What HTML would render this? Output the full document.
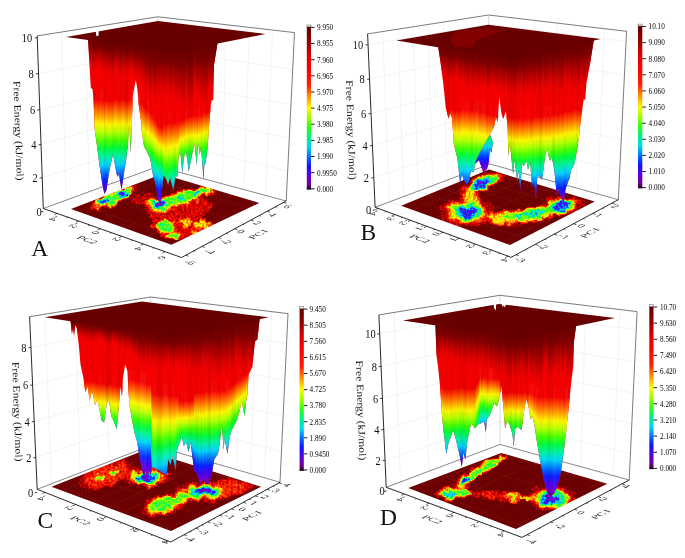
<!DOCTYPE html>
<html><head><meta charset="utf-8"><title>Free energy landscapes</title>
<style>html,body{margin:0;padding:0;background:#fff}svg{display:block;filter:blur(0.45px)}</style></head>
<body>
<svg width="685" height="558" viewBox="0 0 685 558" font-family="'Liberation Serif', serif" fill="#111">
<defs>
<linearGradient id="rb" x1="0" y1="0" x2="0" y2="1">
<stop offset="0" stop-color="#f40000"/>
<stop offset="0.077" stop-color="#ff4a00"/>
<stop offset="0.154" stop-color="#ffa000"/>
<stop offset="0.23" stop-color="#fff400"/>
<stop offset="0.31" stop-color="#b4ff00"/>
<stop offset="0.385" stop-color="#48ff00"/>
<stop offset="0.46" stop-color="#00fa3c"/>
<stop offset="0.54" stop-color="#00f0a8"/>
<stop offset="0.615" stop-color="#00d4f8"/>
<stop offset="0.69" stop-color="#0078ff"/>
<stop offset="0.77" stop-color="#0a20ff"/>
<stop offset="0.846" stop-color="#4a00f0"/>
<stop offset="0.92" stop-color="#7a00c8"/>
<stop offset="1" stop-color="#500058"/>
</linearGradient>
<linearGradient id="dk" x1="0" y1="0" x2="0" y2="1">
<stop offset="0" stop-color="#690000" stop-opacity="1"/>
<stop offset="0.28" stop-color="#780000" stop-opacity="0.97"/>
<stop offset="0.6" stop-color="#a40000" stop-opacity="0.7"/>
<stop offset="1" stop-color="#d80000" stop-opacity="0"/>
</linearGradient>
<linearGradient id="cb" x1="0" y1="0" x2="0" y2="1">
<stop offset="0" stop-color="#5c0000"/>
<stop offset="0.1" stop-color="#980000"/>
<stop offset="0.19" stop-color="#e60000"/>
<stop offset="0.26" stop-color="#fc0000"/>
<stop offset="0.36" stop-color="#ff2000"/>
<stop offset="0.42" stop-color="#ff8000"/>
<stop offset="0.5" stop-color="#fff800"/>
<stop offset="0.56" stop-color="#a0ff00"/>
<stop offset="0.62" stop-color="#30ff10"/>
<stop offset="0.68" stop-color="#00f080"/>
<stop offset="0.74" stop-color="#00d8f0"/>
<stop offset="0.8" stop-color="#0070ff"/>
<stop offset="0.86" stop-color="#1010ff"/>
<stop offset="0.92" stop-color="#6000e0"/>
<stop offset="0.97" stop-color="#700090"/>
<stop offset="1" stop-color="#300030"/>
</linearGradient>
<filter id="heat" x="0" y="0" width="685" height="558" filterUnits="userSpaceOnUse" color-interpolation-filters="sRGB">
<feGaussianBlur in="SourceGraphic" stdDeviation="1.3" result="b0"/>
<feTurbulence type="fractalNoise" baseFrequency="0.11" numOctaves="2" seed="5" result="lf"/>
<feDisplacementMap in="b0" in2="lf" scale="10" xChannelSelector="R" yChannelSelector="G" result="b"/>
<feTurbulence type="fractalNoise" baseFrequency="0.45" numOctaves="1" seed="3" result="n"/>
<feColorMatrix in="n" type="matrix" values="1 0 0 0 0  1 0 0 0 0  1 0 0 0 0  0 0 0 0 1" result="ng"/>
<feComposite in="b" in2="ng" operator="arithmetic" k1="0.5" k2="0.75" k3="0.16" k4="-0.08" result="c"/>
<feComponentTransfer in="c" result="m">
<feFuncR type="table" tableValues="0.43 0.43 0.92 1 1 0.55 0.1 0 0 0.1 0.45 0.5"/>
<feFuncG type="table" tableValues="0 0 0 0.35 0.95 1 1 0.9 0.5 0.1 0 0"/>
<feFuncB type="table" tableValues="0 0 0 0 0 0 0.2 0.9 1 1 0.9 0.6"/>
<feFuncA type="linear" slope="0" intercept="1"/>
</feComponentTransfer>
<feGaussianBlur in="m" stdDeviation="0.5"/>
</filter>
</defs>
<rect width="685" height="558" fill="#fff"/>
<g id="pA"><line x1="42.2" y1="177.8" x2="157.9" y2="139.9" stroke="#e6e6e6" stroke-width="0.5"/>
<line x1="157.9" y1="139.9" x2="287.7" y2="171.0" stroke="#e6e6e6" stroke-width="0.5"/>
<line x1="41.0" y1="144.5" x2="157.9" y2="111.0" stroke="#e6e6e6" stroke-width="0.5"/>
<line x1="157.9" y1="111.0" x2="289.3" y2="138.5" stroke="#e6e6e6" stroke-width="0.5"/>
<line x1="39.8" y1="109.8" x2="157.8" y2="80.9" stroke="#e6e6e6" stroke-width="0.5"/>
<line x1="157.8" y1="80.9" x2="290.9" y2="104.7" stroke="#e6e6e6" stroke-width="0.5"/>
<line x1="38.5" y1="73.5" x2="157.8" y2="49.4" stroke="#e6e6e6" stroke-width="0.5"/>
<line x1="157.8" y1="49.4" x2="292.7" y2="69.3" stroke="#e6e6e6" stroke-width="0.5"/>
<line x1="66.2" y1="200.1" x2="61.3" y2="32.1" stroke="#e6e6e6" stroke-width="0.5"/>
<line x1="66.2" y1="200.1" x2="202.4" y2="246.2" stroke="#e6e6e6" stroke-width="0.5"/>
<line x1="89.2" y1="191.7" x2="85.4" y2="28.3" stroke="#e6e6e6" stroke-width="0.5"/>
<line x1="89.2" y1="191.7" x2="223.4" y2="234.9" stroke="#e6e6e6" stroke-width="0.5"/>
<line x1="112.1" y1="183.3" x2="109.5" y2="24.4" stroke="#e6e6e6" stroke-width="0.5"/>
<line x1="112.1" y1="183.3" x2="244.3" y2="223.6" stroke="#e6e6e6" stroke-width="0.5"/>
<line x1="135.1" y1="174.9" x2="133.6" y2="20.6" stroke="#e6e6e6" stroke-width="0.5"/>
<line x1="135.1" y1="174.9" x2="265.3" y2="212.3" stroke="#e6e6e6" stroke-width="0.5"/>
<line x1="179.8" y1="172.4" x2="181.0" y2="19.5" stroke="#e6e6e6" stroke-width="0.5"/>
<line x1="179.8" y1="172.4" x2="66.8" y2="216.8" stroke="#e6e6e6" stroke-width="0.5"/>
<line x1="201.6" y1="178.2" x2="204.2" y2="22.2" stroke="#e6e6e6" stroke-width="0.5"/>
<line x1="201.6" y1="178.2" x2="90.3" y2="225.2" stroke="#e6e6e6" stroke-width="0.5"/>
<line x1="222.1" y1="183.8" x2="226.1" y2="24.7" stroke="#e6e6e6" stroke-width="0.5"/>
<line x1="222.1" y1="183.8" x2="112.4" y2="233.0" stroke="#e6e6e6" stroke-width="0.5"/>
<line x1="243.9" y1="189.6" x2="249.4" y2="27.4" stroke="#e6e6e6" stroke-width="0.5"/>
<line x1="243.9" y1="189.6" x2="135.9" y2="241.3" stroke="#e6e6e6" stroke-width="0.5"/>
<line x1="265.7" y1="195.5" x2="272.6" y2="30.1" stroke="#e6e6e6" stroke-width="0.5"/>
<line x1="265.7" y1="195.5" x2="159.4" y2="249.7" stroke="#e6e6e6" stroke-width="0.5"/>
<line x1="157.7" y1="16.8" x2="158.0" y2="166.5" stroke="#c8c8c8" stroke-width="0.7"/>
<line x1="43.3" y1="208.5" x2="158.0" y2="166.5" stroke="#555" stroke-width="0.7"/>
<line x1="158.0" y1="166.5" x2="286.2" y2="201.0" stroke="#555" stroke-width="0.7"/>
<line x1="37.2" y1="35.9" x2="157.7" y2="16.8" stroke="#444" stroke-width="0.7"/>
<line x1="157.7" y1="16.8" x2="294.5" y2="32.6" stroke="#444" stroke-width="0.7"/>
<line x1="294.5" y1="32.6" x2="286.2" y2="201.0" stroke="#444" stroke-width="0.7"/>
<clipPath id="fcA"><polygon points="71.0,209.1 171.4,244.8 259.3,202.9 162.0,174.0"/></clipPath>
<g clip-path="url(#fcA)"><g filter="url(#heat)"><rect x="0" y="0" width="685" height="558" fill="#000"/>
<ellipse cx="113" cy="198" rx="28.6" ry="8.5" transform="rotate(-24 113 198)" fill="rgb(33,33,33)"/>
<ellipse cx="105" cy="202" rx="14.3" ry="6.0" transform="rotate(-10 105 202)" fill="rgb(33,33,33)"/>
<ellipse cx="122.5" cy="193.8" rx="13.0" ry="5.5" transform="rotate(-28 122.5 193.8)" fill="rgb(33,33,33)"/>
<ellipse cx="184" cy="197" rx="35.1" ry="8.5" transform="rotate(-17 184 197)" fill="rgb(33,33,33)"/>
<ellipse cx="172" cy="201" rx="15.6" ry="6.0" transform="rotate(-17 172 201)" fill="rgb(33,33,33)"/>
<ellipse cx="197" cy="192.5" rx="10.4" ry="4.5" transform="rotate(-15 197 192.5)" fill="rgb(33,33,33)"/>
<ellipse cx="181" cy="198" rx="9.1" ry="3.9" transform="rotate(-15 181 198)" fill="rgb(33,33,33)"/>
<ellipse cx="160" cy="204.5" rx="19.5" ry="9.1" transform="rotate(0 160 204.5)" fill="rgb(33,33,33)"/>
<ellipse cx="203" cy="191" rx="11.7" ry="6.5" transform="rotate(-10 203 191)" fill="rgb(33,33,33)"/>
<ellipse cx="166" cy="226" rx="14.3" ry="7.8" transform="rotate(0 166 226)" fill="rgb(33,33,33)"/>
<ellipse cx="172" cy="235.5" rx="11.7" ry="5.9" transform="rotate(0 172 235.5)" fill="rgb(33,33,33)"/>
<ellipse cx="202" cy="225" rx="11.7" ry="5.9" transform="rotate(0 202 225)" fill="rgb(33,33,33)"/>
<ellipse cx="186" cy="222" rx="9.1" ry="5.2" transform="rotate(0 186 222)" fill="rgb(33,33,33)"/>
<ellipse cx="195" cy="234" rx="7.8" ry="3.9" transform="rotate(0 195 234)" fill="rgb(33,33,33)"/>
<ellipse cx="152" cy="226" rx="6.5" ry="3.2" transform="rotate(0 152 226)" fill="rgb(33,33,33)"/>
<ellipse cx="141" cy="199" rx="12" ry="5" transform="rotate(-20 141 199)" fill="rgb(38,38,38)"/>
<ellipse cx="180" cy="211" rx="33" ry="14" transform="rotate(-10 180 211)" fill="rgb(43,43,43)"/>
<ellipse cx="190" cy="228" rx="25" ry="11" transform="rotate(0 190 228)" fill="rgb(43,43,43)"/>
<ellipse cx="113" cy="198" rx="22.0" ry="6.5" transform="rotate(-24 113 198)" fill="rgb(56,56,56)"/>
<ellipse cx="105" cy="202" rx="11.0" ry="4.6" transform="rotate(-10 105 202)" fill="rgb(56,56,56)"/>
<ellipse cx="122.5" cy="193.8" rx="10.0" ry="4.2" transform="rotate(-28 122.5 193.8)" fill="rgb(56,56,56)"/>
<ellipse cx="184" cy="197" rx="27.0" ry="6.5" transform="rotate(-17 184 197)" fill="rgb(56,56,56)"/>
<ellipse cx="172" cy="201" rx="12.0" ry="4.6" transform="rotate(-17 172 201)" fill="rgb(56,56,56)"/>
<ellipse cx="197" cy="192.5" rx="8.0" ry="3.5" transform="rotate(-15 197 192.5)" fill="rgb(56,56,56)"/>
<ellipse cx="181" cy="198" rx="7.0" ry="3.0" transform="rotate(-15 181 198)" fill="rgb(56,56,56)"/>
<ellipse cx="160" cy="204.5" rx="15.0" ry="7.0" transform="rotate(0 160 204.5)" fill="rgb(56,56,56)"/>
<ellipse cx="203" cy="191" rx="9.0" ry="5.0" transform="rotate(-10 203 191)" fill="rgb(56,56,56)"/>
<ellipse cx="166" cy="226" rx="11.0" ry="6.0" transform="rotate(0 166 226)" fill="rgb(56,56,56)"/>
<ellipse cx="172" cy="235.5" rx="9.0" ry="4.5" transform="rotate(0 172 235.5)" fill="rgb(56,56,56)"/>
<ellipse cx="202" cy="225" rx="9.0" ry="4.5" transform="rotate(0 202 225)" fill="rgb(56,56,56)"/>
<ellipse cx="186" cy="222" rx="7.0" ry="4.0" transform="rotate(0 186 222)" fill="rgb(56,56,56)"/>
<ellipse cx="195" cy="234" rx="6.0" ry="3.0" transform="rotate(0 195 234)" fill="rgb(56,56,56)"/>
<ellipse cx="152" cy="226" rx="5.0" ry="2.5" transform="rotate(0 152 226)" fill="rgb(56,56,56)"/>
<ellipse cx="113" cy="198" rx="18.7" ry="5.5" transform="rotate(-24 113 198)" fill="rgb(91,91,91)"/>
<ellipse cx="105" cy="202" rx="9.3" ry="3.9" transform="rotate(-10 105 202)" fill="rgb(91,91,91)"/>
<ellipse cx="122.5" cy="193.8" rx="8.5" ry="3.6" transform="rotate(-28 122.5 193.8)" fill="rgb(91,91,91)"/>
<ellipse cx="184" cy="197" rx="22.9" ry="5.5" transform="rotate(-17 184 197)" fill="rgb(91,91,91)"/>
<ellipse cx="172" cy="201" rx="10.2" ry="3.9" transform="rotate(-17 172 201)" fill="rgb(91,91,91)"/>
<ellipse cx="197" cy="192.5" rx="6.8" ry="3.0" transform="rotate(-15 197 192.5)" fill="rgb(91,91,91)"/>
<ellipse cx="181" cy="198" rx="6.0" ry="2.5" transform="rotate(-15 181 198)" fill="rgb(91,91,91)"/>
<ellipse cx="160" cy="204.5" rx="12.8" ry="6.0" transform="rotate(0 160 204.5)" fill="rgb(91,91,91)"/>
<ellipse cx="203" cy="191" rx="7.6" ry="4.2" transform="rotate(-10 203 191)" fill="rgb(91,91,91)"/>
<ellipse cx="166" cy="226" rx="9.3" ry="5.1" transform="rotate(0 166 226)" fill="rgb(91,91,91)"/>
<ellipse cx="172" cy="235.5" rx="7.6" ry="3.8" transform="rotate(0 172 235.5)" fill="rgb(91,91,91)"/>
<ellipse cx="202" cy="225" rx="7.6" ry="3.8" transform="rotate(0 202 225)" fill="rgb(91,91,91)"/>
<ellipse cx="186" cy="222" rx="6.0" ry="3.4" transform="rotate(0 186 222)" fill="rgb(91,91,91)"/>
<ellipse cx="195" cy="234" rx="5.1" ry="2.5" transform="rotate(0 195 234)" fill="rgb(91,91,91)"/>
<ellipse cx="113" cy="198" rx="15.4" ry="4.5" transform="rotate(-24 113 198)" fill="rgb(132,132,132)"/>
<ellipse cx="105" cy="202" rx="7.7" ry="3.2" transform="rotate(-10 105 202)" fill="rgb(132,132,132)"/>
<ellipse cx="122.5" cy="193.8" rx="7.0" ry="2.9" transform="rotate(-28 122.5 193.8)" fill="rgb(132,132,132)"/>
<ellipse cx="184" cy="197" rx="18.9" ry="4.5" transform="rotate(-17 184 197)" fill="rgb(132,132,132)"/>
<ellipse cx="172" cy="201" rx="8.4" ry="3.2" transform="rotate(-17 172 201)" fill="rgb(132,132,132)"/>
<ellipse cx="197" cy="192.5" rx="5.6" ry="2.4" transform="rotate(-15 197 192.5)" fill="rgb(132,132,132)"/>
<ellipse cx="181" cy="198" rx="4.9" ry="2.1" transform="rotate(-15 181 198)" fill="rgb(132,132,132)"/>
<ellipse cx="160" cy="204.5" rx="10.5" ry="4.9" transform="rotate(0 160 204.5)" fill="rgb(132,132,132)"/>
<ellipse cx="203" cy="191" rx="6.3" ry="3.5" transform="rotate(-10 203 191)" fill="rgb(132,132,132)"/>
<ellipse cx="166" cy="226" rx="7.7" ry="4.2" transform="rotate(0 166 226)" fill="rgb(132,132,132)"/>
<ellipse cx="172" cy="235.5" rx="6.3" ry="3.1" transform="rotate(0 172 235.5)" fill="rgb(132,132,132)"/>
<ellipse cx="105" cy="202" rx="6.2" ry="2.6" transform="rotate(-10 105 202)" fill="rgb(168,168,168)"/>
<ellipse cx="122.5" cy="193.8" rx="5.6" ry="2.4" transform="rotate(-28 122.5 193.8)" fill="rgb(168,168,168)"/>
<ellipse cx="197" cy="192.5" rx="4.5" ry="2.0" transform="rotate(-15 197 192.5)" fill="rgb(168,168,168)"/>
<ellipse cx="181" cy="198" rx="3.9" ry="1.7" transform="rotate(-15 181 198)" fill="rgb(168,168,168)"/>
<ellipse cx="160" cy="204.5" rx="8.4" ry="3.9" transform="rotate(0 160 204.5)" fill="rgb(168,168,168)"/>
<ellipse cx="105" cy="202" rx="4.4" ry="1.8" transform="rotate(-10 105 202)" fill="rgb(214,214,214)"/>
<ellipse cx="122.5" cy="193.8" rx="4.0" ry="1.7" transform="rotate(-28 122.5 193.8)" fill="rgb(214,214,214)"/>
<ellipse cx="160" cy="204.5" rx="6.0" ry="2.8" transform="rotate(0 160 204.5)" fill="rgb(214,214,214)"/>
<ellipse cx="105" cy="202" rx="2.4" ry="1.0" transform="rotate(-10 105 202)" fill="rgb(249,249,249)"/>
<ellipse cx="122.5" cy="193.8" rx="2.2" ry="0.9" transform="rotate(-28 122.5 193.8)" fill="rgb(249,249,249)"/>
<ellipse cx="160" cy="204.5" rx="3.3" ry="1.5" transform="rotate(0 160 204.5)" fill="rgb(249,249,249)"/>
</g>
<line x1="66.2" y1="200.1" x2="202.4" y2="246.2" stroke="#ffb0a0" stroke-opacity="0.16" stroke-width="0.7" stroke-dasharray="2 1.5"/>
<line x1="89.2" y1="191.7" x2="223.4" y2="234.9" stroke="#ffb0a0" stroke-opacity="0.16" stroke-width="0.7" stroke-dasharray="2 1.5"/>
<line x1="112.1" y1="183.3" x2="244.3" y2="223.6" stroke="#ffb0a0" stroke-opacity="0.16" stroke-width="0.7" stroke-dasharray="2 1.5"/>
<line x1="135.1" y1="174.9" x2="265.3" y2="212.3" stroke="#ffb0a0" stroke-opacity="0.16" stroke-width="0.7" stroke-dasharray="2 1.5"/>
<line x1="179.8" y1="172.4" x2="66.8" y2="216.8" stroke="#ffb0a0" stroke-opacity="0.16" stroke-width="0.7" stroke-dasharray="2 1.5"/>
<line x1="201.6" y1="178.2" x2="90.3" y2="225.2" stroke="#ffb0a0" stroke-opacity="0.16" stroke-width="0.7" stroke-dasharray="2 1.5"/>
<line x1="222.1" y1="183.8" x2="112.4" y2="233.0" stroke="#ffb0a0" stroke-opacity="0.16" stroke-width="0.7" stroke-dasharray="2 1.5"/>
<line x1="243.9" y1="189.6" x2="135.9" y2="241.3" stroke="#ffb0a0" stroke-opacity="0.16" stroke-width="0.7" stroke-dasharray="2 1.5"/>
<line x1="265.7" y1="195.5" x2="159.4" y2="249.7" stroke="#ffb0a0" stroke-opacity="0.16" stroke-width="0.7" stroke-dasharray="2 1.5"/>
</g>
<clipPath id="scA0"><polygon points="88.0,37.6 175.0,49.5 217.7,42.0 214.0,65.0 213.3,100.0 211.8,100.0 211.0,103.8 209.6,118.8 207.7,147.0 205.8,162.0 204.3,166.0 203.5,179.0 201.1,147.0 199.8,154.6 197.9,141.4 196.8,166.0 194.5,143.3 191.7,156.5 188.8,171.6 186.0,150.8 184.1,156.5 182.3,173.4 180.4,152.7 178.5,156.5 177.5,177.2 175.7,175.3 173.4,190.4 170.0,177.2 168.1,184.7 166.2,179.0 163.4,175.3 162.1,190.4 160.2,205.0 157.8,198.0 155.9,186.6 153.0,175.3 150.2,158.4 147.0,152.0 144.0,146.0 141.8,132.0 141.3,123.0 138.8,105.8 137.3,88.6 135.8,80.0 134.9,84.3 132.7,97.2 131.9,123.0 130.8,153.0 129.1,123.0 128.0,144.5 125.9,161.7 123.7,174.6 121.6,189.7 119.0,174.6 117.3,176.8 115.1,166.0 113.0,154.2 110.8,163.9 108.7,174.6 106.5,189.7 104.4,194.0 102.2,183.2 99.0,161.7 96.8,144.5 94.7,129.5 93.6,101.5 92.5,89.0 90.8,88.0 88.1,40.1"/></clipPath>
<g clip-path="url(#scA0)">
<rect x="88" y="36.6" width="130" height="169.4" fill="#f40000"/>
<rect x="88" y="99.6" width="1.1" height="105.2" fill="url(#rb)"/>
<rect x="88" y="204.8" width="1.1" height="40" fill="#500058"/>
<rect x="88" y="37.2" width="1.1" height="29.6" fill="url(#dk)"/>
<rect x="88" y="37.6" width="1.1" height="167.2" fill="#000" fill-opacity="0.014"/>
<rect x="89" y="98.9" width="1.1" height="105.5" fill="url(#rb)"/>
<rect x="89" y="204.3" width="1.1" height="40" fill="#500058"/>
<rect x="89" y="37.3" width="1.1" height="31.9" fill="url(#dk)"/>
<rect x="90" y="98.5" width="1.1" height="105.6" fill="url(#rb)"/>
<rect x="90" y="204.1" width="1.1" height="40" fill="#500058"/>
<rect x="90" y="37.4" width="1.1" height="32.7" fill="url(#dk)"/>
<rect x="90" y="88.5" width="1.1" height="105.6" fill="#fff" fill-opacity="0.038"/>
<rect x="91" y="99.1" width="1.1" height="105.4" fill="url(#rb)"/>
<rect x="91" y="204.5" width="1.1" height="40" fill="#500058"/>
<rect x="91" y="37.6" width="1.1" height="28.8" fill="url(#dk)"/>
<rect x="91" y="89.1" width="1.1" height="105.4" fill="#fff" fill-opacity="0.054"/>
<rect x="92" y="99.4" width="1.1" height="105.2" fill="url(#rb)"/>
<rect x="92" y="204.6" width="1.1" height="40" fill="#500058"/>
<rect x="92" y="37.7" width="1.1" height="34.6" fill="url(#dk)"/>
<rect x="92" y="89.4" width="1.1" height="105.2" fill="#fff" fill-opacity="0.061"/>
<rect x="93" y="99.1" width="1.1" height="105.4" fill="url(#rb)"/>
<rect x="93" y="204.4" width="1.1" height="40" fill="#500058"/>
<rect x="93" y="37.9" width="1.1" height="35.3" fill="url(#dk)"/>
<rect x="94" y="99.7" width="1.1" height="105.1" fill="url(#rb)"/>
<rect x="94" y="204.8" width="1.1" height="40" fill="#500058"/>
<rect x="94" y="38.0" width="1.1" height="33.3" fill="url(#dk)"/>
<rect x="94" y="37.6" width="1.1" height="167.2" fill="#000" fill-opacity="0.044"/>
<rect x="95" y="98.9" width="1.1" height="105.5" fill="url(#rb)"/>
<rect x="95" y="204.3" width="1.1" height="40" fill="#500058"/>
<rect x="95" y="38.1" width="1.1" height="37.2" fill="url(#dk)"/>
<rect x="96" y="98.6" width="1.1" height="105.5" fill="url(#rb)"/>
<rect x="96" y="204.2" width="1.1" height="40" fill="#500058"/>
<rect x="96" y="38.3" width="1.1" height="31.4" fill="url(#dk)"/>
<rect x="96" y="88.6" width="1.1" height="105.5" fill="#fff" fill-opacity="0.012"/>
<rect x="97" y="100.0" width="1.1" height="105.0" fill="url(#rb)"/>
<rect x="97" y="205.0" width="1.1" height="40" fill="#500058"/>
<rect x="97" y="38.4" width="1.1" height="29.5" fill="url(#dk)"/>
<rect x="98" y="100.3" width="1.1" height="104.9" fill="url(#rb)"/>
<rect x="98" y="205.2" width="1.1" height="40" fill="#500058"/>
<rect x="98" y="38.5" width="1.1" height="30.7" fill="url(#dk)"/>
<rect x="99" y="99.2" width="1.1" height="105.3" fill="url(#rb)"/>
<rect x="99" y="204.5" width="1.1" height="40" fill="#500058"/>
<rect x="99" y="38.7" width="1.1" height="28.0" fill="url(#dk)"/>
<rect x="99" y="89.2" width="1.1" height="105.3" fill="#fff" fill-opacity="0.021"/>
<rect x="100" y="100.0" width="1.1" height="105.0" fill="url(#rb)"/>
<rect x="100" y="205.0" width="1.1" height="40" fill="#500058"/>
<rect x="100" y="38.8" width="1.1" height="30.6" fill="url(#dk)"/>
<rect x="100" y="90.0" width="1.1" height="105.0" fill="#fff" fill-opacity="0.027"/>
<rect x="101" y="100.2" width="1.1" height="104.9" fill="url(#rb)"/>
<rect x="101" y="205.1" width="1.1" height="40" fill="#500058"/>
<rect x="101" y="38.9" width="1.1" height="32.1" fill="url(#dk)"/>
<rect x="101" y="90.2" width="1.1" height="104.9" fill="#fff" fill-opacity="0.031"/>
<rect x="102" y="100.7" width="1.1" height="104.7" fill="url(#rb)"/>
<rect x="102" y="205.4" width="1.1" height="40" fill="#500058"/>
<rect x="102" y="39.1" width="1.1" height="35.4" fill="url(#dk)"/>
<rect x="102" y="90.7" width="1.1" height="104.7" fill="#fff" fill-opacity="0.038"/>
<rect x="103" y="100.5" width="1.1" height="104.8" fill="url(#rb)"/>
<rect x="103" y="205.3" width="1.1" height="40" fill="#500058"/>
<rect x="103" y="39.2" width="1.1" height="35.1" fill="url(#dk)"/>
<rect x="104" y="100.8" width="1.1" height="104.7" fill="url(#rb)"/>
<rect x="104" y="205.5" width="1.1" height="40" fill="#500058"/>
<rect x="104" y="39.4" width="1.1" height="32.6" fill="url(#dk)"/>
<rect x="104" y="37.6" width="1.1" height="167.9" fill="#000" fill-opacity="0.050"/>
<rect x="105" y="99.5" width="1.1" height="105.2" fill="url(#rb)"/>
<rect x="105" y="204.7" width="1.1" height="40" fill="#500058"/>
<rect x="105" y="39.5" width="1.1" height="32.8" fill="url(#dk)"/>
<rect x="105" y="37.6" width="1.1" height="167.1" fill="#000" fill-opacity="0.055"/>
<rect x="106" y="99.0" width="1.1" height="105.4" fill="url(#rb)"/>
<rect x="106" y="204.4" width="1.1" height="40" fill="#500058"/>
<rect x="106" y="39.6" width="1.1" height="33.7" fill="url(#dk)"/>
<rect x="106" y="89.0" width="1.1" height="105.4" fill="#fff" fill-opacity="0.009"/>
<rect x="107" y="99.9" width="1.1" height="105.1" fill="url(#rb)"/>
<rect x="107" y="204.9" width="1.1" height="40" fill="#500058"/>
<rect x="107" y="39.8" width="1.1" height="37.0" fill="url(#dk)"/>
<rect x="108" y="100.8" width="1.1" height="104.7" fill="url(#rb)"/>
<rect x="108" y="205.5" width="1.1" height="40" fill="#500058"/>
<rect x="108" y="39.9" width="1.1" height="33.9" fill="url(#dk)"/>
<rect x="108" y="37.6" width="1.1" height="167.9" fill="#000" fill-opacity="0.019"/>
<rect x="109" y="100.6" width="1.1" height="104.8" fill="url(#rb)"/>
<rect x="109" y="205.4" width="1.1" height="40" fill="#500058"/>
<rect x="109" y="40.0" width="1.1" height="35.3" fill="url(#dk)"/>
<rect x="110" y="101.0" width="1.1" height="104.6" fill="url(#rb)"/>
<rect x="110" y="205.6" width="1.1" height="40" fill="#500058"/>
<rect x="110" y="40.2" width="1.1" height="39.8" fill="url(#dk)"/>
<rect x="111" y="100.9" width="1.1" height="104.6" fill="url(#rb)"/>
<rect x="111" y="205.5" width="1.1" height="40" fill="#500058"/>
<rect x="111" y="40.3" width="1.1" height="32.6" fill="url(#dk)"/>
<rect x="111" y="37.6" width="1.1" height="167.9" fill="#000" fill-opacity="0.020"/>
<rect x="112" y="100.8" width="1.1" height="104.7" fill="url(#rb)"/>
<rect x="112" y="205.5" width="1.1" height="40" fill="#500058"/>
<rect x="112" y="40.5" width="1.1" height="39.2" fill="url(#dk)"/>
<rect x="112" y="37.6" width="1.1" height="167.9" fill="#000" fill-opacity="0.043"/>
<rect x="113" y="99.9" width="1.1" height="105.0" fill="url(#rb)"/>
<rect x="113" y="204.9" width="1.1" height="40" fill="#500058"/>
<rect x="113" y="40.6" width="1.1" height="35.8" fill="url(#dk)"/>
<rect x="113" y="37.6" width="1.1" height="167.3" fill="#000" fill-opacity="0.042"/>
<rect x="114" y="98.9" width="1.1" height="105.4" fill="url(#rb)"/>
<rect x="114" y="204.3" width="1.1" height="40" fill="#500058"/>
<rect x="114" y="40.7" width="1.1" height="35.1" fill="url(#dk)"/>
<rect x="115" y="98.6" width="1.1" height="105.6" fill="url(#rb)"/>
<rect x="115" y="204.2" width="1.1" height="40" fill="#500058"/>
<rect x="115" y="40.9" width="1.1" height="30.6" fill="url(#dk)"/>
<rect x="115" y="37.6" width="1.1" height="166.6" fill="#000" fill-opacity="0.022"/>
<rect x="116" y="98.5" width="1.1" height="105.6" fill="url(#rb)"/>
<rect x="116" y="204.1" width="1.1" height="40" fill="#500058"/>
<rect x="116" y="41.0" width="1.1" height="30.6" fill="url(#dk)"/>
<rect x="117" y="100.1" width="1.1" height="105.0" fill="url(#rb)"/>
<rect x="117" y="205.0" width="1.1" height="40" fill="#500058"/>
<rect x="117" y="41.1" width="1.1" height="28.8" fill="url(#dk)"/>
<rect x="118" y="100.1" width="1.1" height="104.9" fill="url(#rb)"/>
<rect x="118" y="205.1" width="1.1" height="40" fill="#500058"/>
<rect x="118" y="41.3" width="1.1" height="36.7" fill="url(#dk)"/>
<rect x="118" y="37.6" width="1.1" height="167.5" fill="#000" fill-opacity="0.029"/>
<rect x="119" y="100.9" width="1.1" height="104.7" fill="url(#rb)"/>
<rect x="119" y="205.5" width="1.1" height="40" fill="#500058"/>
<rect x="119" y="41.4" width="1.1" height="33.8" fill="url(#dk)"/>
<rect x="120" y="100.1" width="1.1" height="105.0" fill="url(#rb)"/>
<rect x="120" y="205.1" width="1.1" height="40" fill="#500058"/>
<rect x="120" y="41.5" width="1.1" height="39.1" fill="url(#dk)"/>
<rect x="120" y="37.6" width="1.1" height="167.5" fill="#000" fill-opacity="0.049"/>
<rect x="121" y="99.3" width="1.1" height="105.3" fill="url(#rb)"/>
<rect x="121" y="204.6" width="1.1" height="40" fill="#500058"/>
<rect x="121" y="41.7" width="1.1" height="33.8" fill="url(#dk)"/>
<rect x="122" y="99.1" width="1.1" height="105.4" fill="url(#rb)"/>
<rect x="122" y="204.4" width="1.1" height="40" fill="#500058"/>
<rect x="122" y="41.8" width="1.1" height="34.9" fill="url(#dk)"/>
<rect x="122" y="37.6" width="1.1" height="166.8" fill="#000" fill-opacity="0.011"/>
<rect x="123" y="99.0" width="1.1" height="105.4" fill="url(#rb)"/>
<rect x="123" y="204.4" width="1.1" height="40" fill="#500058"/>
<rect x="123" y="42.0" width="1.1" height="30.1" fill="url(#dk)"/>
<rect x="124" y="99.2" width="1.1" height="105.3" fill="url(#rb)"/>
<rect x="124" y="204.5" width="1.1" height="40" fill="#500058"/>
<rect x="124" y="42.1" width="1.1" height="34.2" fill="url(#dk)"/>
<rect x="124" y="37.6" width="1.1" height="166.9" fill="#000" fill-opacity="0.043"/>
<rect x="125" y="100.0" width="1.1" height="105.0" fill="url(#rb)"/>
<rect x="125" y="205.0" width="1.1" height="40" fill="#500058"/>
<rect x="125" y="42.2" width="1.1" height="35.5" fill="url(#dk)"/>
<rect x="125" y="37.6" width="1.1" height="167.4" fill="#000" fill-opacity="0.037"/>
<rect x="126" y="100.4" width="1.1" height="104.8" fill="url(#rb)"/>
<rect x="126" y="205.2" width="1.1" height="40" fill="#500058"/>
<rect x="126" y="42.4" width="1.1" height="31.1" fill="url(#dk)"/>
<rect x="126" y="37.6" width="1.1" height="167.6" fill="#000" fill-opacity="0.061"/>
<rect x="127" y="100.8" width="1.1" height="104.7" fill="url(#rb)"/>
<rect x="127" y="205.5" width="1.1" height="40" fill="#500058"/>
<rect x="127" y="42.5" width="1.1" height="38.1" fill="url(#dk)"/>
<rect x="127" y="37.6" width="1.1" height="167.9" fill="#000" fill-opacity="0.065"/>
<rect x="128" y="100.2" width="1.1" height="104.9" fill="url(#rb)"/>
<rect x="128" y="205.1" width="1.1" height="40" fill="#500058"/>
<rect x="128" y="42.6" width="1.1" height="36.1" fill="url(#dk)"/>
<rect x="129" y="100.4" width="1.1" height="104.8" fill="url(#rb)"/>
<rect x="129" y="205.2" width="1.1" height="40" fill="#500058"/>
<rect x="129" y="42.8" width="1.1" height="31.5" fill="url(#dk)"/>
<rect x="129" y="90.4" width="1.1" height="104.8" fill="#fff" fill-opacity="0.033"/>
<rect x="130" y="99.5" width="1.1" height="105.2" fill="url(#rb)"/>
<rect x="130" y="204.7" width="1.1" height="40" fill="#500058"/>
<rect x="130" y="42.9" width="1.1" height="30.6" fill="url(#dk)"/>
<rect x="130" y="89.5" width="1.1" height="105.2" fill="#fff" fill-opacity="0.032"/>
<rect x="131" y="98.8" width="1.1" height="105.5" fill="url(#rb)"/>
<rect x="131" y="204.3" width="1.1" height="40" fill="#500058"/>
<rect x="131" y="43.1" width="1.1" height="28.4" fill="url(#dk)"/>
<rect x="131" y="88.8" width="1.1" height="105.5" fill="#fff" fill-opacity="0.046"/>
<rect x="132" y="98.5" width="1.1" height="105.6" fill="url(#rb)"/>
<rect x="132" y="204.1" width="1.1" height="40" fill="#500058"/>
<rect x="132" y="43.2" width="1.1" height="31.5" fill="url(#dk)"/>
<rect x="132" y="88.5" width="1.1" height="105.6" fill="#fff" fill-opacity="0.064"/>
<rect x="133" y="100.1" width="1.1" height="105.0" fill="url(#rb)"/>
<rect x="133" y="205.0" width="1.1" height="40" fill="#500058"/>
<rect x="133" y="43.3" width="1.1" height="35.8" fill="url(#dk)"/>
<rect x="133" y="90.1" width="1.1" height="105.0" fill="#fff" fill-opacity="0.065"/>
<rect x="134" y="99.5" width="1.1" height="105.2" fill="url(#rb)"/>
<rect x="134" y="204.7" width="1.1" height="40" fill="#500058"/>
<rect x="134" y="43.5" width="1.1" height="34.8" fill="url(#dk)"/>
<rect x="134" y="89.5" width="1.1" height="105.2" fill="#fff" fill-opacity="0.050"/>
<rect x="135" y="99.0" width="1.1" height="105.4" fill="url(#rb)"/>
<rect x="135" y="204.5" width="1.1" height="40" fill="#500058"/>
<rect x="135" y="43.6" width="1.1" height="40.4" fill="url(#dk)"/>
<rect x="135" y="37.6" width="1.1" height="166.9" fill="#000" fill-opacity="0.010"/>
<rect x="136" y="99.8" width="1.1" height="105.2" fill="url(#rb)"/>
<rect x="136" y="205.0" width="1.1" height="40" fill="#500058"/>
<rect x="136" y="43.7" width="1.1" height="39.6" fill="url(#dk)"/>
<rect x="136" y="89.8" width="1.1" height="105.2" fill="#fff" fill-opacity="0.027"/>
<rect x="137" y="99.4" width="1.1" height="105.5" fill="url(#rb)"/>
<rect x="137" y="204.9" width="1.1" height="40" fill="#500058"/>
<rect x="137" y="43.9" width="1.1" height="38.0" fill="url(#dk)"/>
<rect x="137" y="89.4" width="1.1" height="105.5" fill="#fff" fill-opacity="0.034"/>
<rect x="138" y="101.0" width="1.1" height="104.9" fill="url(#rb)"/>
<rect x="138" y="206.0" width="1.1" height="40" fill="#500058"/>
<rect x="138" y="44.0" width="1.1" height="35.5" fill="url(#dk)"/>
<rect x="138" y="91.0" width="1.1" height="104.9" fill="#fff" fill-opacity="0.057"/>
<rect x="139" y="102.6" width="1.1" height="104.1" fill="url(#rb)"/>
<rect x="139" y="206.7" width="1.1" height="40" fill="#500058"/>
<rect x="139" y="44.1" width="1.1" height="39.4" fill="url(#dk)"/>
<rect x="139" y="92.6" width="1.1" height="104.1" fill="#fff" fill-opacity="0.061"/>
<rect x="140" y="103.1" width="1.1" height="103.4" fill="url(#rb)"/>
<rect x="140" y="206.5" width="1.1" height="40" fill="#500058"/>
<rect x="140" y="44.3" width="1.1" height="35.2" fill="url(#dk)"/>
<rect x="140" y="93.1" width="1.1" height="103.4" fill="#fff" fill-opacity="0.035"/>
<rect x="141" y="104.9" width="1.1" height="102.2" fill="url(#rb)"/>
<rect x="141" y="207.0" width="1.1" height="40" fill="#500058"/>
<rect x="141" y="44.4" width="1.1" height="44.7" fill="url(#dk)"/>
<rect x="142" y="104.7" width="1.1" height="101.7" fill="url(#rb)"/>
<rect x="142" y="206.4" width="1.1" height="40" fill="#500058"/>
<rect x="142" y="44.6" width="1.1" height="42.9" fill="url(#dk)"/>
<rect x="142" y="94.7" width="1.1" height="101.7" fill="#fff" fill-opacity="0.029"/>
<rect x="143" y="106.2" width="1.1" height="100.6" fill="url(#rb)"/>
<rect x="143" y="206.8" width="1.1" height="40" fill="#500058"/>
<rect x="143" y="44.7" width="1.1" height="44.9" fill="url(#dk)"/>
<rect x="144" y="106.5" width="1.1" height="100.0" fill="url(#rb)"/>
<rect x="144" y="206.4" width="1.1" height="40" fill="#500058"/>
<rect x="144" y="44.8" width="1.1" height="41.9" fill="url(#dk)"/>
<rect x="144" y="37.6" width="1.1" height="168.8" fill="#000" fill-opacity="0.033"/>
<rect x="145" y="108.5" width="1.1" height="98.6" fill="url(#rb)"/>
<rect x="145" y="207.2" width="1.1" height="40" fill="#500058"/>
<rect x="145" y="45.0" width="1.1" height="50.1" fill="url(#dk)"/>
<rect x="145" y="37.6" width="1.1" height="169.6" fill="#000" fill-opacity="0.049"/>
<rect x="146" y="109.7" width="1.1" height="97.6" fill="url(#rb)"/>
<rect x="146" y="207.4" width="1.1" height="40" fill="#500058"/>
<rect x="146" y="45.1" width="1.1" height="52.8" fill="url(#dk)"/>
<rect x="147" y="110.2" width="1.1" height="96.9" fill="url(#rb)"/>
<rect x="147" y="207.1" width="1.1" height="40" fill="#500058"/>
<rect x="147" y="45.2" width="1.1" height="48.8" fill="url(#dk)"/>
<rect x="147" y="100.2" width="1.1" height="96.9" fill="#fff" fill-opacity="0.035"/>
<rect x="148" y="110.0" width="1.1" height="96.4" fill="url(#rb)"/>
<rect x="148" y="206.4" width="1.1" height="40" fill="#500058"/>
<rect x="148" y="45.4" width="1.1" height="46.3" fill="url(#dk)"/>
<rect x="148" y="100.0" width="1.1" height="96.4" fill="#fff" fill-opacity="0.039"/>
<rect x="149" y="112.1" width="1.1" height="94.8" fill="url(#rb)"/>
<rect x="149" y="206.9" width="1.1" height="40" fill="#500058"/>
<rect x="149" y="45.5" width="1.1" height="56.2" fill="url(#dk)"/>
<rect x="149" y="102.1" width="1.1" height="94.8" fill="#fff" fill-opacity="0.028"/>
<rect x="150" y="114.3" width="1.1" height="93.2" fill="url(#rb)"/>
<rect x="150" y="207.6" width="1.1" height="40" fill="#500058"/>
<rect x="150" y="45.6" width="1.1" height="61.4" fill="url(#dk)"/>
<rect x="150" y="37.6" width="1.1" height="170.0" fill="#000" fill-opacity="0.023"/>
<rect x="151" y="114.9" width="1.1" height="92.3" fill="url(#rb)"/>
<rect x="151" y="207.2" width="1.1" height="40" fill="#500058"/>
<rect x="151" y="45.8" width="1.1" height="51.4" fill="url(#dk)"/>
<rect x="151" y="104.9" width="1.1" height="92.3" fill="#fff" fill-opacity="0.010"/>
<rect x="152" y="115.4" width="1.1" height="91.4" fill="url(#rb)"/>
<rect x="152" y="206.8" width="1.1" height="40" fill="#500058"/>
<rect x="152" y="45.9" width="1.1" height="46.7" fill="url(#dk)"/>
<rect x="153" y="117.9" width="1.1" height="89.6" fill="url(#rb)"/>
<rect x="153" y="207.6" width="1.1" height="40" fill="#500058"/>
<rect x="153" y="46.1" width="1.1" height="54.9" fill="url(#dk)"/>
<rect x="154" y="119.3" width="1.1" height="88.4" fill="url(#rb)"/>
<rect x="154" y="207.7" width="1.1" height="40" fill="#500058"/>
<rect x="154" y="46.2" width="1.1" height="58.0" fill="url(#dk)"/>
<rect x="154" y="109.3" width="1.1" height="88.4" fill="#fff" fill-opacity="0.032"/>
<rect x="155" y="120.7" width="1.1" height="87.1" fill="url(#rb)"/>
<rect x="155" y="207.8" width="1.1" height="40" fill="#500058"/>
<rect x="155" y="46.3" width="1.1" height="61.3" fill="url(#dk)"/>
<rect x="156" y="122.2" width="1.1" height="85.8" fill="url(#rb)"/>
<rect x="156" y="208.0" width="1.1" height="40" fill="#500058"/>
<rect x="156" y="46.5" width="1.1" height="55.9" fill="url(#dk)"/>
<rect x="156" y="112.2" width="1.1" height="85.8" fill="#fff" fill-opacity="0.023"/>
<rect x="157" y="123.7" width="1.1" height="84.4" fill="url(#rb)"/>
<rect x="157" y="208.2" width="1.1" height="40" fill="#500058"/>
<rect x="157" y="46.6" width="1.1" height="51.2" fill="url(#dk)"/>
<rect x="157" y="37.6" width="1.1" height="170.6" fill="#000" fill-opacity="0.012"/>
<rect x="158" y="125.6" width="1.1" height="83.0" fill="url(#rb)"/>
<rect x="158" y="208.6" width="1.1" height="40" fill="#500058"/>
<rect x="158" y="46.7" width="1.1" height="50.1" fill="url(#dk)"/>
<rect x="159" y="127.1" width="1.1" height="81.7" fill="url(#rb)"/>
<rect x="159" y="208.8" width="1.1" height="40" fill="#500058"/>
<rect x="159" y="46.9" width="1.1" height="55.1" fill="url(#dk)"/>
<rect x="159" y="117.1" width="1.1" height="81.7" fill="#fff" fill-opacity="0.027"/>
<rect x="160" y="126.2" width="1.1" height="81.6" fill="url(#rb)"/>
<rect x="160" y="207.8" width="1.1" height="40" fill="#500058"/>
<rect x="160" y="47.0" width="1.1" height="48.1" fill="url(#dk)"/>
<rect x="160" y="37.6" width="1.1" height="170.2" fill="#000" fill-opacity="0.019"/>
<rect x="161" y="127.2" width="1.1" height="81.1" fill="url(#rb)"/>
<rect x="161" y="208.3" width="1.1" height="40" fill="#500058"/>
<rect x="161" y="47.2" width="1.1" height="44.9" fill="url(#dk)"/>
<rect x="161" y="37.6" width="1.1" height="170.7" fill="#000" fill-opacity="0.043"/>
<rect x="162" y="128.2" width="1.1" height="80.6" fill="url(#rb)"/>
<rect x="162" y="208.8" width="1.1" height="40" fill="#500058"/>
<rect x="162" y="47.3" width="1.1" height="51.9" fill="url(#dk)"/>
<rect x="162" y="37.6" width="1.1" height="171.2" fill="#000" fill-opacity="0.011"/>
<rect x="163" y="124.5" width="1.1" height="100.7" fill="url(#rb)"/>
<rect x="163" y="225.2" width="1.1" height="40" fill="#500058"/>
<rect x="163" y="47.4" width="1.1" height="46.5" fill="url(#dk)"/>
<rect x="163" y="114.5" width="1.1" height="100.7" fill="#fff" fill-opacity="0.032"/>
<rect x="164" y="124.4" width="1.1" height="104.1" fill="url(#rb)"/>
<rect x="164" y="228.5" width="1.1" height="40" fill="#500058"/>
<rect x="164" y="47.6" width="1.1" height="52.7" fill="url(#dk)"/>
<rect x="164" y="114.4" width="1.1" height="104.1" fill="#fff" fill-opacity="0.017"/>
<rect x="165" y="124.5" width="1.1" height="103.7" fill="url(#rb)"/>
<rect x="165" y="228.2" width="1.1" height="40" fill="#500058"/>
<rect x="165" y="47.7" width="1.1" height="52.0" fill="url(#dk)"/>
<rect x="165" y="37.6" width="1.1" height="190.6" fill="#000" fill-opacity="0.023"/>
<rect x="166" y="124.4" width="1.1" height="103.4" fill="url(#rb)"/>
<rect x="166" y="227.7" width="1.1" height="40" fill="#500058"/>
<rect x="166" y="47.8" width="1.1" height="48.0" fill="url(#dk)"/>
<rect x="166" y="114.4" width="1.1" height="103.4" fill="#fff" fill-opacity="0.008"/>
<rect x="167" y="123.1" width="1.1" height="103.5" fill="url(#rb)"/>
<rect x="167" y="226.6" width="1.1" height="40" fill="#500058"/>
<rect x="167" y="48.0" width="1.1" height="46.8" fill="url(#dk)"/>
<rect x="168" y="122.3" width="1.1" height="103.4" fill="url(#rb)"/>
<rect x="168" y="225.7" width="1.1" height="40" fill="#500058"/>
<rect x="168" y="48.1" width="1.1" height="49.3" fill="url(#dk)"/>
<rect x="168" y="112.3" width="1.1" height="103.4" fill="#fff" fill-opacity="0.027"/>
<rect x="169" y="123.3" width="1.1" height="102.7" fill="url(#rb)"/>
<rect x="169" y="226.0" width="1.1" height="40" fill="#500058"/>
<rect x="169" y="48.2" width="1.1" height="49.4" fill="url(#dk)"/>
<rect x="169" y="113.3" width="1.1" height="102.7" fill="#fff" fill-opacity="0.020"/>
<rect x="170" y="123.1" width="1.1" height="102.4" fill="url(#rb)"/>
<rect x="170" y="225.5" width="1.1" height="40" fill="#500058"/>
<rect x="170" y="48.4" width="1.1" height="58.8" fill="url(#dk)"/>
<rect x="170" y="113.1" width="1.1" height="102.4" fill="#fff" fill-opacity="0.018"/>
<rect x="171" y="123.6" width="1.1" height="101.8" fill="url(#rb)"/>
<rect x="171" y="225.4" width="1.1" height="40" fill="#500058"/>
<rect x="171" y="48.5" width="1.1" height="56.4" fill="url(#dk)"/>
<rect x="171" y="113.6" width="1.1" height="101.8" fill="#fff" fill-opacity="0.008"/>
<rect x="172" y="123.0" width="1.1" height="101.7" fill="url(#rb)"/>
<rect x="172" y="224.7" width="1.1" height="40" fill="#500058"/>
<rect x="172" y="48.7" width="1.1" height="47.1" fill="url(#dk)"/>
<rect x="172" y="113.0" width="1.1" height="101.7" fill="#fff" fill-opacity="0.010"/>
<rect x="173" y="121.9" width="1.1" height="101.7" fill="url(#rb)"/>
<rect x="173" y="223.7" width="1.1" height="40" fill="#500058"/>
<rect x="173" y="48.8" width="1.1" height="42.8" fill="url(#dk)"/>
<rect x="173" y="37.6" width="1.1" height="186.1" fill="#000" fill-opacity="0.022"/>
<rect x="174" y="121.3" width="1.1" height="101.6" fill="url(#rb)"/>
<rect x="174" y="222.9" width="1.1" height="40" fill="#500058"/>
<rect x="174" y="48.9" width="1.1" height="48.9" fill="url(#dk)"/>
<rect x="174" y="37.6" width="1.1" height="185.3" fill="#000" fill-opacity="0.035"/>
<rect x="175" y="121.8" width="1.1" height="101.0" fill="url(#rb)"/>
<rect x="175" y="222.8" width="1.1" height="40" fill="#500058"/>
<rect x="175" y="48.9" width="1.1" height="49.2" fill="url(#dk)"/>
<rect x="175" y="37.6" width="1.1" height="185.2" fill="#000" fill-opacity="0.022"/>
<rect x="176" y="122.1" width="1.1" height="100.5" fill="url(#rb)"/>
<rect x="176" y="222.6" width="1.1" height="40" fill="#500058"/>
<rect x="176" y="48.7" width="1.1" height="57.3" fill="url(#dk)"/>
<rect x="176" y="112.1" width="1.1" height="100.5" fill="#fff" fill-opacity="0.019"/>
<rect x="177" y="122.1" width="1.1" height="100.1" fill="url(#rb)"/>
<rect x="177" y="222.3" width="1.1" height="40" fill="#500058"/>
<rect x="177" y="48.6" width="1.1" height="51.8" fill="url(#dk)"/>
<rect x="177" y="112.1" width="1.1" height="100.1" fill="#fff" fill-opacity="0.029"/>
<rect x="178" y="122.2" width="1.1" height="94.7" fill="url(#rb)"/>
<rect x="178" y="216.9" width="1.1" height="40" fill="#500058"/>
<rect x="178" y="48.4" width="1.1" height="53.9" fill="url(#dk)"/>
<rect x="178" y="112.2" width="1.1" height="94.7" fill="#fff" fill-opacity="0.013"/>
<rect x="179" y="121.4" width="1.1" height="84.6" fill="url(#rb)"/>
<rect x="179" y="206.0" width="1.1" height="40" fill="#500058"/>
<rect x="179" y="48.2" width="1.1" height="61.9" fill="url(#dk)"/>
<rect x="179" y="111.4" width="1.1" height="84.6" fill="#fff" fill-opacity="0.012"/>
<rect x="180" y="120.6" width="1.1" height="79.9" fill="url(#rb)"/>
<rect x="180" y="200.4" width="1.1" height="40" fill="#500058"/>
<rect x="180" y="48.0" width="1.1" height="58.5" fill="url(#dk)"/>
<rect x="181" y="120.4" width="1.1" height="80.1" fill="url(#rb)"/>
<rect x="181" y="200.5" width="1.1" height="40" fill="#500058"/>
<rect x="181" y="47.9" width="1.1" height="56.2" fill="url(#dk)"/>
<rect x="182" y="119.7" width="1.1" height="80.5" fill="url(#rb)"/>
<rect x="182" y="200.2" width="1.1" height="40" fill="#500058"/>
<rect x="182" y="47.7" width="1.1" height="63.7" fill="url(#dk)"/>
<rect x="182" y="37.6" width="1.1" height="162.6" fill="#000" fill-opacity="0.018"/>
<rect x="183" y="120.1" width="1.1" height="80.5" fill="url(#rb)"/>
<rect x="183" y="200.6" width="1.1" height="40" fill="#500058"/>
<rect x="183" y="47.5" width="1.1" height="67.2" fill="url(#dk)"/>
<rect x="183" y="110.1" width="1.1" height="80.5" fill="#fff" fill-opacity="0.010"/>
<rect x="184" y="119.5" width="1.1" height="80.9" fill="url(#rb)"/>
<rect x="184" y="200.4" width="1.1" height="40" fill="#500058"/>
<rect x="184" y="47.3" width="1.1" height="68.9" fill="url(#dk)"/>
<rect x="184" y="37.6" width="1.1" height="162.8" fill="#000" fill-opacity="0.025"/>
<rect x="185" y="118.1" width="1.1" height="81.6" fill="url(#rb)"/>
<rect x="185" y="199.7" width="1.1" height="40" fill="#500058"/>
<rect x="185" y="47.2" width="1.1" height="55.4" fill="url(#dk)"/>
<rect x="186" y="117.1" width="1.1" height="82.2" fill="url(#rb)"/>
<rect x="186" y="199.3" width="1.1" height="40" fill="#500058"/>
<rect x="186" y="47.0" width="1.1" height="51.4" fill="url(#dk)"/>
<rect x="186" y="107.1" width="1.1" height="82.2" fill="#fff" fill-opacity="0.028"/>
<rect x="187" y="117.8" width="1.1" height="82.0" fill="url(#rb)"/>
<rect x="187" y="199.9" width="1.1" height="40" fill="#500058"/>
<rect x="187" y="46.8" width="1.1" height="59.3" fill="url(#dk)"/>
<rect x="187" y="37.6" width="1.1" height="162.3" fill="#000" fill-opacity="0.017"/>
<rect x="188" y="116.9" width="1.1" height="82.6" fill="url(#rb)"/>
<rect x="188" y="199.5" width="1.1" height="40" fill="#500058"/>
<rect x="188" y="46.6" width="1.1" height="61.7" fill="url(#dk)"/>
<rect x="188" y="37.6" width="1.1" height="161.9" fill="#000" fill-opacity="0.026"/>
<rect x="189" y="116.3" width="1.1" height="83.0" fill="url(#rb)"/>
<rect x="189" y="199.3" width="1.1" height="40" fill="#500058"/>
<rect x="189" y="46.5" width="1.1" height="65.9" fill="url(#dk)"/>
<rect x="189" y="37.6" width="1.1" height="161.7" fill="#000" fill-opacity="0.060"/>
<rect x="190" y="116.0" width="1.1" height="83.2" fill="url(#rb)"/>
<rect x="190" y="199.3" width="1.1" height="40" fill="#500058"/>
<rect x="190" y="46.3" width="1.1" height="69.1" fill="url(#dk)"/>
<rect x="190" y="37.6" width="1.1" height="161.7" fill="#000" fill-opacity="0.026"/>
<rect x="191" y="116.4" width="1.1" height="83.3" fill="url(#rb)"/>
<rect x="191" y="199.6" width="1.1" height="40" fill="#500058"/>
<rect x="191" y="46.1" width="1.1" height="71.3" fill="url(#dk)"/>
<rect x="191" y="37.6" width="1.1" height="162.0" fill="#000" fill-opacity="0.048"/>
<rect x="192" y="115.7" width="1.1" height="83.7" fill="url(#rb)"/>
<rect x="192" y="199.4" width="1.1" height="40" fill="#500058"/>
<rect x="192" y="45.9" width="1.1" height="62.4" fill="url(#dk)"/>
<rect x="192" y="37.6" width="1.1" height="161.8" fill="#000" fill-opacity="0.030"/>
<rect x="193" y="115.6" width="1.1" height="83.9" fill="url(#rb)"/>
<rect x="193" y="199.5" width="1.1" height="40" fill="#500058"/>
<rect x="193" y="45.8" width="1.1" height="54.3" fill="url(#dk)"/>
<rect x="194" y="116.3" width="1.1" height="83.8" fill="url(#rb)"/>
<rect x="194" y="200.0" width="1.1" height="40" fill="#500058"/>
<rect x="194" y="45.6" width="1.1" height="47.5" fill="url(#dk)"/>
<rect x="195" y="115.8" width="1.1" height="84.1" fill="url(#rb)"/>
<rect x="195" y="199.9" width="1.1" height="40" fill="#500058"/>
<rect x="195" y="45.4" width="1.1" height="44.5" fill="url(#dk)"/>
<rect x="195" y="105.8" width="1.1" height="84.1" fill="#fff" fill-opacity="0.010"/>
<rect x="196" y="115.9" width="1.1" height="84.2" fill="url(#rb)"/>
<rect x="196" y="200.1" width="1.1" height="40" fill="#500058"/>
<rect x="196" y="45.2" width="1.1" height="52.1" fill="url(#dk)"/>
<rect x="196" y="105.9" width="1.1" height="84.2" fill="#fff" fill-opacity="0.040"/>
<rect x="197" y="116.6" width="1.1" height="84.1" fill="url(#rb)"/>
<rect x="197" y="200.7" width="1.1" height="40" fill="#500058"/>
<rect x="197" y="45.0" width="1.1" height="60.6" fill="url(#dk)"/>
<rect x="197" y="37.6" width="1.1" height="163.1" fill="#000" fill-opacity="0.016"/>
<rect x="198" y="114.9" width="1.1" height="84.9" fill="url(#rb)"/>
<rect x="198" y="199.8" width="1.1" height="40" fill="#500058"/>
<rect x="198" y="44.9" width="1.1" height="55.1" fill="url(#dk)"/>
<rect x="198" y="104.9" width="1.1" height="84.9" fill="#fff" fill-opacity="0.028"/>
<rect x="199" y="115.4" width="1.1" height="84.9" fill="url(#rb)"/>
<rect x="199" y="200.3" width="1.1" height="40" fill="#500058"/>
<rect x="199" y="44.7" width="1.1" height="52.7" fill="url(#dk)"/>
<rect x="199" y="105.4" width="1.1" height="84.9" fill="#fff" fill-opacity="0.045"/>
<rect x="200" y="114.7" width="1.1" height="85.3" fill="url(#rb)"/>
<rect x="200" y="200.0" width="1.1" height="40" fill="#500058"/>
<rect x="200" y="44.5" width="1.1" height="63.4" fill="url(#dk)"/>
<rect x="201" y="113.9" width="1.1" height="85.8" fill="url(#rb)"/>
<rect x="201" y="199.7" width="1.1" height="40" fill="#500058"/>
<rect x="201" y="44.3" width="1.1" height="54.4" fill="url(#dk)"/>
<rect x="201" y="37.6" width="1.1" height="162.1" fill="#000" fill-opacity="0.038"/>
<rect x="202" y="114.0" width="1.1" height="85.9" fill="url(#rb)"/>
<rect x="202" y="199.9" width="1.1" height="40" fill="#500058"/>
<rect x="202" y="44.2" width="1.1" height="60.5" fill="url(#dk)"/>
<rect x="202" y="104.0" width="1.1" height="85.9" fill="#fff" fill-opacity="0.013"/>
<rect x="203" y="112.8" width="1.1" height="86.6" fill="url(#rb)"/>
<rect x="203" y="199.4" width="1.1" height="40" fill="#500058"/>
<rect x="203" y="44.0" width="1.1" height="63.2" fill="url(#dk)"/>
<rect x="203" y="102.8" width="1.1" height="86.6" fill="#fff" fill-opacity="0.014"/>
<rect x="204" y="111.9" width="1.1" height="87.2" fill="url(#rb)"/>
<rect x="204" y="199.1" width="1.1" height="40" fill="#500058"/>
<rect x="204" y="43.8" width="1.1" height="69.1" fill="url(#dk)"/>
<rect x="205" y="112.9" width="1.1" height="87.0" fill="url(#rb)"/>
<rect x="205" y="200.0" width="1.1" height="40" fill="#500058"/>
<rect x="205" y="43.6" width="1.1" height="56.0" fill="url(#dk)"/>
<rect x="205" y="37.6" width="1.1" height="162.4" fill="#000" fill-opacity="0.036"/>
<rect x="206" y="111.6" width="1.1" height="87.8" fill="url(#rb)"/>
<rect x="206" y="199.4" width="1.1" height="40" fill="#500058"/>
<rect x="206" y="43.5" width="1.1" height="64.6" fill="url(#dk)"/>
<rect x="206" y="37.6" width="1.1" height="161.8" fill="#000" fill-opacity="0.017"/>
<rect x="207" y="111.4" width="1.1" height="88.1" fill="url(#rb)"/>
<rect x="207" y="199.5" width="1.1" height="40" fill="#500058"/>
<rect x="207" y="43.3" width="1.1" height="62.8" fill="url(#dk)"/>
<rect x="207" y="37.6" width="1.1" height="161.9" fill="#000" fill-opacity="0.051"/>
<rect x="208" y="110.9" width="1.1" height="88.6" fill="url(#rb)"/>
<rect x="208" y="199.4" width="1.1" height="40" fill="#500058"/>
<rect x="208" y="43.1" width="1.1" height="54.2" fill="url(#dk)"/>
<rect x="208" y="37.6" width="1.1" height="161.8" fill="#000" fill-opacity="0.033"/>
<rect x="209" y="110.4" width="1.1" height="89.0" fill="url(#rb)"/>
<rect x="209" y="199.4" width="1.1" height="40" fill="#500058"/>
<rect x="209" y="42.9" width="1.1" height="50.0" fill="url(#dk)"/>
<rect x="209" y="100.4" width="1.1" height="89.0" fill="#fff" fill-opacity="0.010"/>
<rect x="210" y="109.5" width="1.1" height="89.6" fill="url(#rb)"/>
<rect x="210" y="199.1" width="1.1" height="40" fill="#500058"/>
<rect x="210" y="42.8" width="1.1" height="49.9" fill="url(#dk)"/>
<rect x="210" y="99.5" width="1.1" height="89.6" fill="#fff" fill-opacity="0.020"/>
<rect x="211" y="109.4" width="1.1" height="89.9" fill="url(#rb)"/>
<rect x="211" y="199.3" width="1.1" height="40" fill="#500058"/>
<rect x="211" y="42.6" width="1.1" height="60.4" fill="url(#dk)"/>
<rect x="211" y="99.4" width="1.1" height="89.9" fill="#fff" fill-opacity="0.028"/>
<rect x="212" y="109.6" width="1.1" height="90.0" fill="url(#rb)"/>
<rect x="212" y="199.6" width="1.1" height="40" fill="#500058"/>
<rect x="212" y="42.4" width="1.1" height="54.3" fill="url(#dk)"/>
<rect x="212" y="99.6" width="1.1" height="90.0" fill="#fff" fill-opacity="0.029"/>
<rect x="213" y="108.6" width="1.1" height="90.5" fill="url(#rb)"/>
<rect x="213" y="199.2" width="1.1" height="40" fill="#500058"/>
<rect x="213" y="42.2" width="1.1" height="52.9" fill="url(#dk)"/>
<rect x="213" y="98.6" width="1.1" height="90.5" fill="#fff" fill-opacity="0.054"/>
<rect x="214" y="109.8" width="1.1" height="90.1" fill="url(#rb)"/>
<rect x="214" y="199.9" width="1.1" height="40" fill="#500058"/>
<rect x="214" y="42.1" width="1.1" height="58.1" fill="url(#dk)"/>
<rect x="214" y="99.8" width="1.1" height="90.1" fill="#fff" fill-opacity="0.057"/>
<rect x="215" y="109.9" width="1.1" height="90.1" fill="url(#rb)"/>
<rect x="215" y="199.9" width="1.1" height="40" fill="#500058"/>
<rect x="215" y="41.9" width="1.1" height="67.8" fill="url(#dk)"/>
<rect x="215" y="99.9" width="1.1" height="90.1" fill="#fff" fill-opacity="0.064"/>
<rect x="216" y="110.6" width="1.1" height="89.7" fill="url(#rb)"/>
<rect x="216" y="200.4" width="1.1" height="40" fill="#500058"/>
<rect x="216" y="41.7" width="1.1" height="62.7" fill="url(#dk)"/>
<rect x="216" y="100.6" width="1.1" height="89.7" fill="#fff" fill-opacity="0.039"/>
<rect x="217" y="111.1" width="1.1" height="89.6" fill="url(#rb)"/>
<rect x="217" y="200.6" width="1.1" height="40" fill="#500058"/>
<rect x="217" y="41.5" width="1.1" height="59.8" fill="url(#dk)"/>
<rect x="217" y="101.1" width="1.1" height="89.6" fill="#fff" fill-opacity="0.023"/>
</g>
<polygon points="66.0,37.1 158.0,21.0 265.5,34.0 175.0,52.0" fill="#690000"/>
<polygon points="95.6,30.0 98.6,29.6 98.6,35.4 96.4,36.2" fill="#fff"/>
<line x1="37.2" y1="35.9" x2="43.3" y2="208.5" stroke="#111" stroke-width="0.9"/>
<line x1="43.3" y1="208.5" x2="181.5" y2="257.5" stroke="#111" stroke-width="0.9"/>
<line x1="181.5" y1="257.5" x2="286.2" y2="201.0" stroke="#111" stroke-width="0.9"/>
<line x1="34.8" y1="38.0" x2="37.3" y2="37.7" stroke="#111" stroke-width="0.8"/>
<text transform="translate(32.2,42.0) scale(0.8,1)" font-size="13" text-anchor="end">10</text>
<line x1="36.0" y1="73.9" x2="38.5" y2="73.6" stroke="#111" stroke-width="0.8"/>
<text transform="translate(33.8,77.9) scale(0.8,1)" font-size="13" text-anchor="end">8</text>
<line x1="37.3" y1="110.0" x2="39.8" y2="109.7" stroke="#111" stroke-width="0.8"/>
<text transform="translate(35.2,114.0) scale(0.8,1)" font-size="13" text-anchor="end">6</text>
<line x1="38.5" y1="144.8" x2="41.0" y2="144.5" stroke="#111" stroke-width="0.8"/>
<text transform="translate(36.4,148.8) scale(0.8,1)" font-size="13" text-anchor="end">4</text>
<line x1="39.7" y1="178.0" x2="42.2" y2="177.7" stroke="#111" stroke-width="0.8"/>
<text transform="translate(37.6,182.0) scale(0.8,1)" font-size="13" text-anchor="end">2</text>
<line x1="40.9" y1="211.8" x2="43.4" y2="211.5" stroke="#111" stroke-width="0.8"/>
<text transform="translate(41.6,215.8) scale(0.8,1)" font-size="13" text-anchor="end">0</text>
<text transform="translate(13.4,81) rotate(88) scale(1,0.85)" font-size="11.7">Free Energy (kJ/mol)</text>
<text transform="matrix(-0.836 0.451 -0.754 -0.267 54.5 218.4)" font-size="11" text-anchor="middle" fill="#222" dy="3.6">-4</text>
<text transform="matrix(-0.836 0.451 -0.754 -0.267 74.4 225.4)" font-size="11" text-anchor="middle" fill="#222" dy="3.6">-2</text>
<text transform="matrix(-0.836 0.451 -0.754 -0.267 95.4 232.4)" font-size="11" text-anchor="middle" fill="#222" dy="3.6">0</text>
<text transform="matrix(-0.836 0.451 -0.754 -0.267 116.4 239.4)" font-size="11" text-anchor="middle" fill="#222" dy="3.6">2</text>
<text transform="matrix(-0.836 0.451 -0.754 -0.267 138.6 248.7)" font-size="11" text-anchor="middle" fill="#222" dy="3.6">4</text>
<text transform="matrix(-0.836 0.451 -0.754 -0.267 162 257.6)" font-size="11" text-anchor="middle" fill="#222" dy="3.6">6</text>
<text transform="matrix(0.895 0.317 -0.651 0.351 87.2 239.9)" font-size="11.5" text-anchor="middle" fill="#222" dy="3.6">PC2</text>
<text transform="matrix(0.895 0.317 -0.704 0.380 189.6 262.5)" font-size="11" text-anchor="middle" fill="#222" dy="3.6">-6</text>
<text transform="matrix(0.895 0.317 -0.704 0.380 209.7 251.7)" font-size="11" text-anchor="middle" fill="#222" dy="3.6">-4</text>
<text transform="matrix(0.895 0.317 -0.704 0.380 226 241.7)" font-size="11" text-anchor="middle" fill="#222" dy="3.6">-2</text>
<text transform="matrix(0.895 0.317 -0.704 0.380 241 231.6)" font-size="11" text-anchor="middle" fill="#222" dy="3.6">0</text>
<text transform="matrix(0.895 0.317 -0.704 0.380 257.4 222.9)" font-size="11" text-anchor="middle" fill="#222" dy="3.6">2</text>
<text transform="matrix(0.895 0.317 -0.704 0.380 272.4 214.8)" font-size="11" text-anchor="middle" fill="#222" dy="3.6">4</text>
<text transform="matrix(0.895 0.317 -0.704 0.380 287.5 206.5)" font-size="11" text-anchor="middle" fill="#222" dy="3.6">6</text>
<text transform="matrix(0.836 -0.451 0.697 0.247 258.6 234.2)" font-size="11.5" text-anchor="middle" fill="#222" dy="3.6">PC1</text>
<line x1="57.1" y1="213.4" x2="54.5" y2="214.8" stroke="#111" stroke-width="0.7"/>
<line x1="67.9" y1="217.2" x2="66.5" y2="218.0" stroke="#111" stroke-width="0.6"/>
<line x1="78.7" y1="221.0" x2="76.1" y2="222.4" stroke="#111" stroke-width="0.7"/>
<line x1="89.5" y1="224.9" x2="88.0" y2="225.6" stroke="#111" stroke-width="0.6"/>
<line x1="100.3" y1="228.7" x2="97.7" y2="230.1" stroke="#111" stroke-width="0.7"/>
<line x1="111.1" y1="232.5" x2="109.6" y2="233.3" stroke="#111" stroke-width="0.6"/>
<line x1="121.8" y1="236.3" x2="119.2" y2="237.7" stroke="#111" stroke-width="0.7"/>
<line x1="132.6" y1="240.1" x2="131.2" y2="240.9" stroke="#111" stroke-width="0.6"/>
<line x1="143.4" y1="244.0" x2="140.8" y2="245.4" stroke="#111" stroke-width="0.7"/>
<line x1="154.2" y1="247.8" x2="152.8" y2="248.6" stroke="#111" stroke-width="0.6"/>
<line x1="165.0" y1="251.6" x2="162.4" y2="253.0" stroke="#111" stroke-width="0.7"/>
<line x1="185.7" y1="255.2" x2="188.5" y2="256.2" stroke="#111" stroke-width="0.7"/>
<line x1="193.9" y1="250.8" x2="195.4" y2="251.3" stroke="#111" stroke-width="0.6"/>
<line x1="202.0" y1="246.4" x2="204.8" y2="247.4" stroke="#111" stroke-width="0.7"/>
<line x1="210.2" y1="242.0" x2="211.7" y2="242.6" stroke="#111" stroke-width="0.6"/>
<line x1="218.3" y1="237.6" x2="221.1" y2="238.6" stroke="#111" stroke-width="0.7"/>
<line x1="226.5" y1="233.2" x2="228.0" y2="233.8" stroke="#111" stroke-width="0.6"/>
<line x1="234.7" y1="228.8" x2="237.5" y2="229.8" stroke="#111" stroke-width="0.7"/>
<line x1="242.8" y1="224.4" x2="244.3" y2="225.0" stroke="#111" stroke-width="0.6"/>
<line x1="251.0" y1="220.0" x2="253.8" y2="221.0" stroke="#111" stroke-width="0.7"/>
<line x1="259.1" y1="215.6" x2="260.7" y2="216.2" stroke="#111" stroke-width="0.6"/>
<line x1="267.3" y1="211.2" x2="270.1" y2="212.2" stroke="#111" stroke-width="0.7"/>
<line x1="275.4" y1="206.8" x2="277.0" y2="207.4" stroke="#111" stroke-width="0.6"/>
<line x1="283.6" y1="202.4" x2="286.4" y2="203.4" stroke="#111" stroke-width="0.7"/>
<text x="31.2" y="255.5" font-size="23.5">A</text>
<rect x="306.8" y="26.6" width="4.2" height="162.6" fill="url(#cb)"/>
<rect x="306.8" y="25.0" width="4.2" height="1.8" fill="#f4f4f4" stroke="#666" stroke-width="0.5"/>
<rect x="306.8" y="188.2" width="4.2" height="1.4" fill="#111"/>
<line x1="311.0" y1="27.4" x2="314.6" y2="27.4" stroke="#111" stroke-width="0.95"/>
<text x="317" y="30.2" font-size="7.2" fill="#000">9.950</text>
<line x1="311.0" y1="43.5" x2="314.6" y2="43.5" stroke="#111" stroke-width="0.95"/>
<text x="317" y="46.3" font-size="7.2" fill="#000">8.955</text>
<line x1="311.0" y1="59.7" x2="314.6" y2="59.7" stroke="#111" stroke-width="0.95"/>
<text x="317" y="62.5" font-size="7.2" fill="#000">7.960</text>
<line x1="311.0" y1="75.8" x2="314.6" y2="75.8" stroke="#111" stroke-width="0.95"/>
<text x="317" y="78.6" font-size="7.2" fill="#000">6.965</text>
<line x1="311.0" y1="92.0" x2="314.6" y2="92.0" stroke="#111" stroke-width="0.95"/>
<text x="317" y="94.8" font-size="7.2" fill="#000">5.970</text>
<line x1="311.0" y1="108.1" x2="314.6" y2="108.1" stroke="#111" stroke-width="0.95"/>
<text x="317" y="110.9" font-size="7.2" fill="#000">4.975</text>
<line x1="311.0" y1="124.2" x2="314.6" y2="124.2" stroke="#111" stroke-width="0.95"/>
<text x="317" y="127.0" font-size="7.2" fill="#000">3.980</text>
<line x1="311.0" y1="140.4" x2="314.6" y2="140.4" stroke="#111" stroke-width="0.95"/>
<text x="317" y="143.2" font-size="7.2" fill="#000">2.985</text>
<line x1="311.0" y1="156.5" x2="314.6" y2="156.5" stroke="#111" stroke-width="0.95"/>
<text x="317" y="159.3" font-size="7.2" fill="#000">1.990</text>
<line x1="311.0" y1="172.7" x2="314.6" y2="172.7" stroke="#111" stroke-width="0.95"/>
<text x="317" y="175.5" font-size="7.2" fill="#000">0.9950</text>
<line x1="311.0" y1="188.8" x2="314.6" y2="188.8" stroke="#111" stroke-width="0.95"/>
<text x="317" y="191.6" font-size="7.2" fill="#000">0.000</text></g>
<g id="pB"><line x1="373.8" y1="177.6" x2="489.8" y2="138.5" stroke="#e6e6e6" stroke-width="0.5"/>
<line x1="489.8" y1="138.5" x2="619.7" y2="170.9" stroke="#e6e6e6" stroke-width="0.5"/>
<line x1="372.4" y1="145.6" x2="489.5" y2="111.0" stroke="#e6e6e6" stroke-width="0.5"/>
<line x1="489.5" y1="111.0" x2="621.3" y2="139.7" stroke="#e6e6e6" stroke-width="0.5"/>
<line x1="371.0" y1="113.5" x2="489.2" y2="83.4" stroke="#e6e6e6" stroke-width="0.5"/>
<line x1="489.2" y1="83.4" x2="622.8" y2="108.6" stroke="#e6e6e6" stroke-width="0.5"/>
<line x1="369.6" y1="79.0" x2="489.0" y2="53.7" stroke="#e6e6e6" stroke-width="0.5"/>
<line x1="489.0" y1="53.7" x2="624.4" y2="75.1" stroke="#e6e6e6" stroke-width="0.5"/>
<line x1="368.1" y1="44.7" x2="488.7" y2="24.2" stroke="#e6e6e6" stroke-width="0.5"/>
<line x1="488.7" y1="24.2" x2="626.1" y2="41.7" stroke="#e6e6e6" stroke-width="0.5"/>
<line x1="389.5" y1="201.9" x2="382.7" y2="31.5" stroke="#e6e6e6" stroke-width="0.5"/>
<line x1="389.5" y1="201.9" x2="524.6" y2="250.1" stroke="#e6e6e6" stroke-width="0.5"/>
<line x1="403.8" y1="196.5" x2="397.9" y2="29.2" stroke="#e6e6e6" stroke-width="0.5"/>
<line x1="403.8" y1="196.5" x2="538.0" y2="242.9" stroke="#e6e6e6" stroke-width="0.5"/>
<line x1="418.2" y1="191.1" x2="413.0" y2="26.8" stroke="#e6e6e6" stroke-width="0.5"/>
<line x1="418.2" y1="191.1" x2="551.4" y2="235.7" stroke="#e6e6e6" stroke-width="0.5"/>
<line x1="432.6" y1="185.7" x2="428.1" y2="24.4" stroke="#e6e6e6" stroke-width="0.5"/>
<line x1="432.6" y1="185.7" x2="564.8" y2="228.5" stroke="#e6e6e6" stroke-width="0.5"/>
<line x1="446.9" y1="180.2" x2="443.2" y2="22.1" stroke="#e6e6e6" stroke-width="0.5"/>
<line x1="446.9" y1="180.2" x2="578.1" y2="221.3" stroke="#e6e6e6" stroke-width="0.5"/>
<line x1="461.3" y1="174.8" x2="458.4" y2="19.7" stroke="#e6e6e6" stroke-width="0.5"/>
<line x1="461.3" y1="174.8" x2="591.5" y2="214.1" stroke="#e6e6e6" stroke-width="0.5"/>
<line x1="475.6" y1="169.4" x2="473.5" y2="17.4" stroke="#e6e6e6" stroke-width="0.5"/>
<line x1="475.6" y1="169.4" x2="604.9" y2="206.9" stroke="#e6e6e6" stroke-width="0.5"/>
<line x1="511.8" y1="170.1" x2="512.1" y2="17.8" stroke="#e6e6e6" stroke-width="0.5"/>
<line x1="511.8" y1="170.1" x2="398.2" y2="215.8" stroke="#e6e6e6" stroke-width="0.5"/>
<line x1="533.6" y1="176.1" x2="535.5" y2="20.5" stroke="#e6e6e6" stroke-width="0.5"/>
<line x1="533.6" y1="176.1" x2="421.4" y2="224.3" stroke="#e6e6e6" stroke-width="0.5"/>
<line x1="554.1" y1="181.8" x2="557.6" y2="23.1" stroke="#e6e6e6" stroke-width="0.5"/>
<line x1="554.1" y1="181.8" x2="443.1" y2="232.3" stroke="#e6e6e6" stroke-width="0.5"/>
<line x1="576.0" y1="187.9" x2="581.1" y2="25.9" stroke="#e6e6e6" stroke-width="0.5"/>
<line x1="576.0" y1="187.9" x2="466.3" y2="240.8" stroke="#e6e6e6" stroke-width="0.5"/>
<line x1="597.8" y1="194.0" x2="604.5" y2="28.7" stroke="#e6e6e6" stroke-width="0.5"/>
<line x1="597.8" y1="194.0" x2="489.4" y2="249.3" stroke="#e6e6e6" stroke-width="0.5"/>
<line x1="488.6" y1="15.0" x2="490.0" y2="164.0" stroke="#c8c8c8" stroke-width="0.7"/>
<line x1="375.1" y1="207.3" x2="490.0" y2="164.0" stroke="#555" stroke-width="0.7"/>
<line x1="490.0" y1="164.0" x2="618.3" y2="199.7" stroke="#555" stroke-width="0.7"/>
<line x1="367.6" y1="33.9" x2="488.6" y2="15.0" stroke="#444" stroke-width="0.7"/>
<line x1="488.6" y1="15.0" x2="626.6" y2="31.3" stroke="#444" stroke-width="0.7"/>
<line x1="626.6" y1="31.3" x2="618.3" y2="199.7" stroke="#444" stroke-width="0.7"/>
<clipPath id="fcB"><polygon points="401.2,205.8 510.0,244.9 594.7,201.4 489.0,169.5"/></clipPath>
<g clip-path="url(#fcB)"><g filter="url(#heat)"><rect x="0" y="0" width="685" height="558" fill="#000"/>
<ellipse cx="482" cy="183.5" rx="26.0" ry="9.1" transform="rotate(-22 482 183.5)" fill="rgb(33,33,33)"/>
<ellipse cx="471" cy="198" rx="10.4" ry="11.7" transform="rotate(0 471 198)" fill="rgb(33,33,33)"/>
<ellipse cx="467" cy="212" rx="28.6" ry="15.6" transform="rotate(0 467 212)" fill="rgb(33,33,33)"/>
<ellipse cx="503" cy="219" rx="23.4" ry="8.5" transform="rotate(8 503 219)" fill="rgb(33,33,33)"/>
<ellipse cx="549" cy="210.5" rx="14.3" ry="7.2" transform="rotate(-15 549 210.5)" fill="rgb(33,33,33)"/>
<ellipse cx="561.5" cy="206" rx="24.7" ry="10.4" transform="rotate(-8 561.5 206)" fill="rgb(33,33,33)"/>
<ellipse cx="482" cy="183.5" rx="20.0" ry="7.0" transform="rotate(-22 482 183.5)" fill="rgb(56,56,56)"/>
<ellipse cx="471" cy="198" rx="8.0" ry="9.0" transform="rotate(0 471 198)" fill="rgb(56,56,56)"/>
<ellipse cx="467" cy="212" rx="22.0" ry="12.0" transform="rotate(0 467 212)" fill="rgb(56,56,56)"/>
<ellipse cx="503" cy="219" rx="18.0" ry="6.5" transform="rotate(8 503 219)" fill="rgb(56,56,56)"/>
<ellipse cx="529" cy="214.5" rx="33" ry="8" transform="rotate(-8 529 214.5)" fill="rgb(56,56,56)"/>
<ellipse cx="549" cy="210.5" rx="11.0" ry="5.5" transform="rotate(-15 549 210.5)" fill="rgb(56,56,56)"/>
<ellipse cx="561.5" cy="206" rx="19.0" ry="8.0" transform="rotate(-8 561.5 206)" fill="rgb(56,56,56)"/>
<ellipse cx="482" cy="183.5" rx="17.0" ry="6.0" transform="rotate(-22 482 183.5)" fill="rgb(91,91,91)"/>
<ellipse cx="471" cy="198" rx="6.8" ry="7.6" transform="rotate(0 471 198)" fill="rgb(91,91,91)"/>
<ellipse cx="467" cy="212" rx="18.7" ry="10.2" transform="rotate(0 467 212)" fill="rgb(91,91,91)"/>
<ellipse cx="503" cy="219" rx="15.3" ry="5.5" transform="rotate(8 503 219)" fill="rgb(91,91,91)"/>
<ellipse cx="549" cy="210.5" rx="9.3" ry="4.7" transform="rotate(-15 549 210.5)" fill="rgb(91,91,91)"/>
<ellipse cx="561.5" cy="206" rx="16.1" ry="6.8" transform="rotate(-8 561.5 206)" fill="rgb(91,91,91)"/>
<ellipse cx="529" cy="214.5" rx="30" ry="6.4" transform="rotate(-8 529 214.5)" fill="rgb(96,96,96)"/>
<ellipse cx="529" cy="214.5" rx="26" ry="4.4" transform="rotate(-8 529 214.5)" fill="rgb(127,127,127)"/>
<ellipse cx="482" cy="183.5" rx="14.0" ry="4.9" transform="rotate(-22 482 183.5)" fill="rgb(132,132,132)"/>
<ellipse cx="467" cy="212" rx="15.4" ry="8.4" transform="rotate(0 467 212)" fill="rgb(132,132,132)"/>
<ellipse cx="549" cy="210.5" rx="7.7" ry="3.8" transform="rotate(-15 549 210.5)" fill="rgb(132,132,132)"/>
<ellipse cx="561.5" cy="206" rx="13.3" ry="5.6" transform="rotate(-8 561.5 206)" fill="rgb(132,132,132)"/>
<ellipse cx="521" cy="215" rx="7" ry="2.6" transform="rotate(-8 521 215)" fill="rgb(163,163,163)"/>
<ellipse cx="482" cy="183.5" rx="11.2" ry="3.9" transform="rotate(-22 482 183.5)" fill="rgb(168,168,168)"/>
<ellipse cx="467" cy="212" rx="12.3" ry="6.7" transform="rotate(0 467 212)" fill="rgb(168,168,168)"/>
<ellipse cx="536" cy="213.8" rx="8" ry="2.8" transform="rotate(-8 536 213.8)" fill="rgb(168,168,168)"/>
<ellipse cx="561.5" cy="206" rx="10.6" ry="4.5" transform="rotate(-8 561.5 206)" fill="rgb(168,168,168)"/>
<ellipse cx="482" cy="183.5" rx="8.0" ry="2.8" transform="rotate(-22 482 183.5)" fill="rgb(214,214,214)"/>
<ellipse cx="467" cy="212" rx="8.8" ry="4.8" transform="rotate(0 467 212)" fill="rgb(214,214,214)"/>
<ellipse cx="561.5" cy="206" rx="7.6" ry="3.2" transform="rotate(-8 561.5 206)" fill="rgb(214,214,214)"/>
</g>
<line x1="389.5" y1="201.9" x2="524.6" y2="250.1" stroke="#ffb0a0" stroke-opacity="0.16" stroke-width="0.7" stroke-dasharray="2 1.5"/>
<line x1="403.8" y1="196.5" x2="538.0" y2="242.9" stroke="#ffb0a0" stroke-opacity="0.16" stroke-width="0.7" stroke-dasharray="2 1.5"/>
<line x1="418.2" y1="191.1" x2="551.4" y2="235.7" stroke="#ffb0a0" stroke-opacity="0.16" stroke-width="0.7" stroke-dasharray="2 1.5"/>
<line x1="432.6" y1="185.7" x2="564.8" y2="228.5" stroke="#ffb0a0" stroke-opacity="0.16" stroke-width="0.7" stroke-dasharray="2 1.5"/>
<line x1="446.9" y1="180.2" x2="578.1" y2="221.3" stroke="#ffb0a0" stroke-opacity="0.16" stroke-width="0.7" stroke-dasharray="2 1.5"/>
<line x1="461.3" y1="174.8" x2="591.5" y2="214.1" stroke="#ffb0a0" stroke-opacity="0.16" stroke-width="0.7" stroke-dasharray="2 1.5"/>
<line x1="475.6" y1="169.4" x2="604.9" y2="206.9" stroke="#ffb0a0" stroke-opacity="0.16" stroke-width="0.7" stroke-dasharray="2 1.5"/>
<line x1="511.8" y1="170.1" x2="398.2" y2="215.8" stroke="#ffb0a0" stroke-opacity="0.16" stroke-width="0.7" stroke-dasharray="2 1.5"/>
<line x1="533.6" y1="176.1" x2="421.4" y2="224.3" stroke="#ffb0a0" stroke-opacity="0.16" stroke-width="0.7" stroke-dasharray="2 1.5"/>
<line x1="554.1" y1="181.8" x2="443.1" y2="232.3" stroke="#ffb0a0" stroke-opacity="0.16" stroke-width="0.7" stroke-dasharray="2 1.5"/>
<line x1="576.0" y1="187.9" x2="466.3" y2="240.8" stroke="#ffb0a0" stroke-opacity="0.16" stroke-width="0.7" stroke-dasharray="2 1.5"/>
<line x1="597.8" y1="194.0" x2="489.4" y2="249.3" stroke="#ffb0a0" stroke-opacity="0.16" stroke-width="0.7" stroke-dasharray="2 1.5"/>
</g>
<clipPath id="scB0"><polygon points="476.0,150.0 489.5,134.0 493.0,142.0 491.5,152.8 489.7,149.2 488.8,161.7 487.0,169.0 483.4,172.5 478.9,160.0 475.0,164.0"/></clipPath>
<g clip-path="url(#scB0)">
<rect x="475" y="133.0" width="18" height="40.5" fill="#f40000"/>
<rect x="475" y="100.4" width="1.1" height="76.8" fill="url(#rb)"/>
<rect x="475" y="177.2" width="1.1" height="40" fill="#500058"/>
<rect x="475" y="134.0" width="1.1" height="43.2" fill="#000" fill-opacity="0.046"/>
<rect x="476" y="99.9" width="1.1" height="77.1" fill="url(#rb)"/>
<rect x="476" y="176.9" width="1.1" height="40" fill="#500058"/>
<rect x="476" y="134.0" width="1.1" height="42.9" fill="#000" fill-opacity="0.060"/>
<rect x="477" y="100.4" width="1.1" height="76.8" fill="url(#rb)"/>
<rect x="477" y="177.2" width="1.1" height="40" fill="#500058"/>
<rect x="477" y="134.0" width="1.1" height="43.2" fill="#000" fill-opacity="0.049"/>
<rect x="478" y="100.0" width="1.1" height="77.0" fill="url(#rb)"/>
<rect x="478" y="177.0" width="1.1" height="40" fill="#500058"/>
<rect x="478" y="134.0" width="1.1" height="43.0" fill="#000" fill-opacity="0.015"/>
<rect x="479" y="99.0" width="1.1" height="77.4" fill="url(#rb)"/>
<rect x="479" y="176.4" width="1.1" height="40" fill="#500058"/>
<rect x="479" y="89.0" width="1.1" height="77.4" fill="#fff" fill-opacity="0.021"/>
<rect x="480" y="98.6" width="1.1" height="77.6" fill="url(#rb)"/>
<rect x="480" y="176.1" width="1.1" height="40" fill="#500058"/>
<rect x="481" y="98.7" width="1.1" height="77.5" fill="url(#rb)"/>
<rect x="481" y="176.2" width="1.1" height="40" fill="#500058"/>
<rect x="481" y="88.7" width="1.1" height="77.5" fill="#fff" fill-opacity="0.022"/>
<rect x="482" y="98.5" width="1.1" height="77.6" fill="url(#rb)"/>
<rect x="482" y="176.1" width="1.1" height="40" fill="#500058"/>
<rect x="482" y="134.0" width="1.1" height="42.1" fill="#000" fill-opacity="0.016"/>
<rect x="483" y="100.0" width="1.1" height="77.0" fill="url(#rb)"/>
<rect x="483" y="177.0" width="1.1" height="40" fill="#500058"/>
<rect x="483" y="134.0" width="1.1" height="43.0" fill="#000" fill-opacity="0.026"/>
<rect x="484" y="99.5" width="1.1" height="77.2" fill="url(#rb)"/>
<rect x="484" y="176.7" width="1.1" height="40" fill="#500058"/>
<rect x="485" y="99.3" width="1.1" height="77.3" fill="url(#rb)"/>
<rect x="485" y="176.6" width="1.1" height="40" fill="#500058"/>
<rect x="486" y="98.9" width="1.1" height="77.4" fill="url(#rb)"/>
<rect x="486" y="176.3" width="1.1" height="40" fill="#500058"/>
<rect x="486" y="88.9" width="1.1" height="77.4" fill="#fff" fill-opacity="0.009"/>
<rect x="487" y="98.9" width="1.1" height="77.4" fill="url(#rb)"/>
<rect x="487" y="176.4" width="1.1" height="40" fill="#500058"/>
<rect x="487" y="134.0" width="1.1" height="42.4" fill="#000" fill-opacity="0.038"/>
<rect x="488" y="100.5" width="1.1" height="76.8" fill="url(#rb)"/>
<rect x="488" y="177.3" width="1.1" height="40" fill="#500058"/>
<rect x="488" y="134.0" width="1.1" height="43.3" fill="#000" fill-opacity="0.027"/>
<rect x="489" y="99.7" width="1.1" height="77.1" fill="url(#rb)"/>
<rect x="489" y="176.8" width="1.1" height="40" fill="#500058"/>
<rect x="489" y="134.0" width="1.1" height="42.8" fill="#000" fill-opacity="0.061"/>
<rect x="490" y="99.4" width="1.1" height="77.2" fill="url(#rb)"/>
<rect x="490" y="176.7" width="1.1" height="40" fill="#500058"/>
<rect x="490" y="134.0" width="1.1" height="42.7" fill="#000" fill-opacity="0.023"/>
<rect x="491" y="98.6" width="1.1" height="77.6" fill="url(#rb)"/>
<rect x="491" y="176.2" width="1.1" height="40" fill="#500058"/>
<rect x="492" y="99.3" width="1.1" height="77.3" fill="url(#rb)"/>
<rect x="492" y="176.6" width="1.1" height="40" fill="#500058"/>
</g>
<clipPath id="scB1"><polygon points="437.9,44.8 513.6,57.0 594.0,38.9 590.2,62.7 586.5,82.7 585.2,100.0 583.7,99.3 581.0,118.0 579.0,137.0 577.0,150.0 575.0,161.0 573.6,166.0 571.0,170.0 569.6,178.4 568.3,181.0 565.6,189.0 563.5,203.0 560.2,194.5 558.2,189.0 556.8,195.9 554.8,174.4 553.5,165.0 551.5,157.0 550.1,161.0 548.8,157.0 547.4,148.8 545.4,154.0 543.4,170.3 542.0,179.7 540.0,177.0 537.3,175.7 536.0,200.0 534.0,182.4 532.0,186.5 530.2,162.0 528.0,170.0 526.6,161.0 523.9,166.0 521.9,163.6 520.3,190.5 518.5,170.0 517.2,181.0 514.5,159.6 513.1,174.4 509.8,142.0 508.4,156.9 507.6,125.9 505.9,111.5 503.2,118.7 501.4,113.3 499.2,97.2 497.8,122.0 496.0,116.9 494.2,125.9 492.4,130.0 489.5,135.0 485.0,143.0 480.0,152.0 475.4,161.7 473.6,172.5 470.9,170.7 469.1,181.5 466.4,184.2 463.7,179.7 461.9,174.3 460.1,183.3 457.4,158.2 453.8,143.8 452.0,117.8 450.2,113.3 448.5,118.7 445.8,108.0 444.0,90.0 440.9,65.0"/></clipPath>
<g clip-path="url(#scB1)">
<rect x="437" y="37.9" width="157" height="166.1" fill="#f40000"/>
<rect x="437" y="109.3" width="1.1" height="97.3" fill="url(#rb)"/>
<rect x="437" y="206.6" width="1.1" height="40" fill="#500058"/>
<rect x="437" y="44.3" width="1.1" height="35.1" fill="url(#dk)"/>
<rect x="437" y="99.3" width="1.1" height="97.3" fill="#fff" fill-opacity="0.038"/>
<rect x="438" y="109.2" width="1.1" height="97.4" fill="url(#rb)"/>
<rect x="438" y="206.5" width="1.1" height="40" fill="#500058"/>
<rect x="438" y="44.4" width="1.1" height="30.7" fill="url(#dk)"/>
<rect x="438" y="99.2" width="1.1" height="97.4" fill="#fff" fill-opacity="0.031"/>
<rect x="439" y="108.6" width="1.1" height="97.7" fill="url(#rb)"/>
<rect x="439" y="206.2" width="1.1" height="40" fill="#500058"/>
<rect x="439" y="44.6" width="1.1" height="28.1" fill="url(#dk)"/>
<rect x="439" y="98.6" width="1.1" height="97.7" fill="#fff" fill-opacity="0.033"/>
<rect x="440" y="108.7" width="1.1" height="97.7" fill="url(#rb)"/>
<rect x="440" y="206.4" width="1.1" height="40" fill="#500058"/>
<rect x="440" y="44.7" width="1.1" height="32.9" fill="url(#dk)"/>
<rect x="440" y="98.7" width="1.1" height="97.7" fill="#fff" fill-opacity="0.018"/>
<rect x="441" y="109.9" width="1.1" height="97.3" fill="url(#rb)"/>
<rect x="441" y="207.2" width="1.1" height="40" fill="#500058"/>
<rect x="441" y="44.9" width="1.1" height="35.9" fill="url(#dk)"/>
<rect x="442" y="110.8" width="1.1" height="97.0" fill="url(#rb)"/>
<rect x="442" y="207.7" width="1.1" height="40" fill="#500058"/>
<rect x="442" y="45.0" width="1.1" height="34.5" fill="url(#dk)"/>
<rect x="442" y="100.8" width="1.1" height="97.0" fill="#fff" fill-opacity="0.010"/>
<rect x="443" y="111.5" width="1.1" height="96.8" fill="url(#rb)"/>
<rect x="443" y="208.2" width="1.1" height="40" fill="#500058"/>
<rect x="443" y="45.2" width="1.1" height="31.3" fill="url(#dk)"/>
<rect x="443" y="38.9" width="1.1" height="169.3" fill="#000" fill-opacity="0.014"/>
<rect x="444" y="111.0" width="1.1" height="97.0" fill="url(#rb)"/>
<rect x="444" y="208.0" width="1.1" height="40" fill="#500058"/>
<rect x="444" y="45.4" width="1.1" height="28.8" fill="url(#dk)"/>
<rect x="444" y="38.9" width="1.1" height="169.1" fill="#000" fill-opacity="0.041"/>
<rect x="445" y="111.4" width="1.1" height="96.9" fill="url(#rb)"/>
<rect x="445" y="208.3" width="1.1" height="40" fill="#500058"/>
<rect x="445" y="45.5" width="1.1" height="33.9" fill="url(#dk)"/>
<rect x="445" y="38.9" width="1.1" height="169.4" fill="#000" fill-opacity="0.047"/>
<rect x="446" y="111.4" width="1.1" height="97.0" fill="url(#rb)"/>
<rect x="446" y="208.3" width="1.1" height="40" fill="#500058"/>
<rect x="446" y="45.7" width="1.1" height="31.0" fill="url(#dk)"/>
<rect x="446" y="38.9" width="1.1" height="169.4" fill="#000" fill-opacity="0.030"/>
<rect x="447" y="110.7" width="1.1" height="97.3" fill="url(#rb)"/>
<rect x="447" y="208.0" width="1.1" height="40" fill="#500058"/>
<rect x="447" y="45.8" width="1.1" height="37.3" fill="url(#dk)"/>
<rect x="447" y="38.9" width="1.1" height="169.1" fill="#000" fill-opacity="0.047"/>
<rect x="448" y="111.1" width="1.1" height="97.2" fill="url(#rb)"/>
<rect x="448" y="208.3" width="1.1" height="40" fill="#500058"/>
<rect x="448" y="46.0" width="1.1" height="37.4" fill="url(#dk)"/>
<rect x="448" y="38.9" width="1.1" height="169.4" fill="#000" fill-opacity="0.066"/>
<rect x="449" y="110.9" width="1.1" height="97.3" fill="url(#rb)"/>
<rect x="449" y="208.3" width="1.1" height="40" fill="#500058"/>
<rect x="449" y="46.2" width="1.1" height="38.7" fill="url(#dk)"/>
<rect x="449" y="38.9" width="1.1" height="169.4" fill="#000" fill-opacity="0.014"/>
<rect x="450" y="109.4" width="1.1" height="98.0" fill="url(#rb)"/>
<rect x="450" y="207.4" width="1.1" height="40" fill="#500058"/>
<rect x="450" y="46.3" width="1.1" height="33.3" fill="url(#dk)"/>
<rect x="451" y="108.8" width="1.1" height="98.3" fill="url(#rb)"/>
<rect x="451" y="207.1" width="1.1" height="40" fill="#500058"/>
<rect x="451" y="46.5" width="1.1" height="38.5" fill="url(#dk)"/>
<rect x="452" y="109.7" width="1.1" height="98.0" fill="url(#rb)"/>
<rect x="452" y="207.7" width="1.1" height="40" fill="#500058"/>
<rect x="452" y="46.7" width="1.1" height="38.6" fill="url(#dk)"/>
<rect x="452" y="38.9" width="1.1" height="168.8" fill="#000" fill-opacity="0.019"/>
<rect x="453" y="109.8" width="1.1" height="98.0" fill="url(#rb)"/>
<rect x="453" y="207.8" width="1.1" height="40" fill="#500058"/>
<rect x="453" y="46.8" width="1.1" height="31.9" fill="url(#dk)"/>
<rect x="453" y="38.9" width="1.1" height="168.9" fill="#000" fill-opacity="0.040"/>
<rect x="454" y="110.5" width="1.1" height="97.8" fill="url(#rb)"/>
<rect x="454" y="208.3" width="1.1" height="40" fill="#500058"/>
<rect x="454" y="47.0" width="1.1" height="34.4" fill="url(#dk)"/>
<rect x="454" y="38.9" width="1.1" height="169.4" fill="#000" fill-opacity="0.027"/>
<rect x="455" y="110.6" width="1.1" height="97.8" fill="url(#rb)"/>
<rect x="455" y="208.4" width="1.1" height="40" fill="#500058"/>
<rect x="455" y="47.1" width="1.1" height="30.8" fill="url(#dk)"/>
<rect x="455" y="38.9" width="1.1" height="169.5" fill="#000" fill-opacity="0.039"/>
<rect x="456" y="109.7" width="1.1" height="98.2" fill="url(#rb)"/>
<rect x="456" y="208.0" width="1.1" height="40" fill="#500058"/>
<rect x="456" y="47.3" width="1.1" height="29.2" fill="url(#dk)"/>
<rect x="457" y="110.4" width="1.1" height="98.0" fill="url(#rb)"/>
<rect x="457" y="208.4" width="1.1" height="40" fill="#500058"/>
<rect x="457" y="47.5" width="1.1" height="30.0" fill="url(#dk)"/>
<rect x="457" y="38.9" width="1.1" height="169.5" fill="#000" fill-opacity="0.024"/>
<rect x="458" y="111.2" width="1.1" height="97.8" fill="url(#rb)"/>
<rect x="458" y="209.0" width="1.1" height="40" fill="#500058"/>
<rect x="458" y="47.6" width="1.1" height="33.6" fill="url(#dk)"/>
<rect x="459" y="110.6" width="1.1" height="98.1" fill="url(#rb)"/>
<rect x="459" y="208.7" width="1.1" height="40" fill="#500058"/>
<rect x="459" y="47.8" width="1.1" height="37.4" fill="url(#dk)"/>
<rect x="459" y="38.9" width="1.1" height="169.8" fill="#000" fill-opacity="0.027"/>
<rect x="460" y="110.5" width="1.1" height="98.2" fill="url(#rb)"/>
<rect x="460" y="208.7" width="1.1" height="40" fill="#500058"/>
<rect x="460" y="47.9" width="1.1" height="38.7" fill="url(#dk)"/>
<rect x="460" y="100.5" width="1.1" height="98.2" fill="#fff" fill-opacity="0.019"/>
<rect x="461" y="109.5" width="1.1" height="98.6" fill="url(#rb)"/>
<rect x="461" y="208.1" width="1.1" height="40" fill="#500058"/>
<rect x="461" y="48.1" width="1.1" height="35.0" fill="url(#dk)"/>
<rect x="462" y="109.3" width="1.1" height="98.8" fill="url(#rb)"/>
<rect x="462" y="208.1" width="1.1" height="40" fill="#500058"/>
<rect x="462" y="48.3" width="1.1" height="36.9" fill="url(#dk)"/>
<rect x="462" y="99.3" width="1.1" height="98.8" fill="#fff" fill-opacity="0.033"/>
<rect x="463" y="108.7" width="1.1" height="99.1" fill="url(#rb)"/>
<rect x="463" y="207.8" width="1.1" height="40" fill="#500058"/>
<rect x="463" y="48.4" width="1.1" height="34.4" fill="url(#dk)"/>
<rect x="464" y="109.8" width="1.1" height="98.7" fill="url(#rb)"/>
<rect x="464" y="208.5" width="1.1" height="40" fill="#500058"/>
<rect x="464" y="48.6" width="1.1" height="37.9" fill="url(#dk)"/>
<rect x="464" y="99.8" width="1.1" height="98.7" fill="#fff" fill-opacity="0.020"/>
<rect x="465" y="109.9" width="1.1" height="98.7" fill="url(#rb)"/>
<rect x="465" y="208.6" width="1.1" height="40" fill="#500058"/>
<rect x="465" y="48.7" width="1.1" height="37.2" fill="url(#dk)"/>
<rect x="465" y="99.9" width="1.1" height="98.7" fill="#fff" fill-opacity="0.015"/>
<rect x="466" y="109.1" width="1.1" height="99.1" fill="url(#rb)"/>
<rect x="466" y="208.2" width="1.1" height="40" fill="#500058"/>
<rect x="466" y="48.9" width="1.1" height="41.7" fill="url(#dk)"/>
<rect x="466" y="99.1" width="1.1" height="99.1" fill="#fff" fill-opacity="0.032"/>
<rect x="467" y="110.6" width="1.1" height="98.6" fill="url(#rb)"/>
<rect x="467" y="209.2" width="1.1" height="40" fill="#500058"/>
<rect x="467" y="49.1" width="1.1" height="44.3" fill="url(#dk)"/>
<rect x="467" y="100.6" width="1.1" height="98.6" fill="#fff" fill-opacity="0.056"/>
<rect x="468" y="110.2" width="1.1" height="98.8" fill="url(#rb)"/>
<rect x="468" y="209.0" width="1.1" height="40" fill="#500058"/>
<rect x="468" y="49.2" width="1.1" height="44.2" fill="url(#dk)"/>
<rect x="469" y="110.0" width="1.1" height="98.9" fill="url(#rb)"/>
<rect x="469" y="208.9" width="1.1" height="40" fill="#500058"/>
<rect x="469" y="49.4" width="1.1" height="37.9" fill="url(#dk)"/>
<rect x="469" y="100.0" width="1.1" height="98.9" fill="#fff" fill-opacity="0.021"/>
<rect x="470" y="111.0" width="1.1" height="98.6" fill="url(#rb)"/>
<rect x="470" y="209.6" width="1.1" height="40" fill="#500058"/>
<rect x="470" y="49.6" width="1.1" height="34.5" fill="url(#dk)"/>
<rect x="471" y="109.7" width="1.1" height="99.2" fill="url(#rb)"/>
<rect x="471" y="208.9" width="1.1" height="40" fill="#500058"/>
<rect x="471" y="49.7" width="1.1" height="36.6" fill="url(#dk)"/>
<rect x="471" y="38.9" width="1.1" height="170.0" fill="#000" fill-opacity="0.039"/>
<rect x="472" y="109.0" width="1.1" height="99.5" fill="url(#rb)"/>
<rect x="472" y="208.5" width="1.1" height="40" fill="#500058"/>
<rect x="472" y="49.9" width="1.1" height="40.9" fill="url(#dk)"/>
<rect x="472" y="38.9" width="1.1" height="169.6" fill="#000" fill-opacity="0.024"/>
<rect x="473" y="110.4" width="1.1" height="99.0" fill="url(#rb)"/>
<rect x="473" y="209.4" width="1.1" height="40" fill="#500058"/>
<rect x="473" y="50.0" width="1.1" height="41.6" fill="url(#dk)"/>
<rect x="473" y="100.4" width="1.1" height="99.0" fill="#fff" fill-opacity="0.009"/>
<rect x="474" y="111.2" width="1.1" height="98.7" fill="url(#rb)"/>
<rect x="474" y="209.9" width="1.1" height="40" fill="#500058"/>
<rect x="474" y="50.2" width="1.1" height="39.5" fill="url(#dk)"/>
<rect x="474" y="101.2" width="1.1" height="98.7" fill="#fff" fill-opacity="0.042"/>
<rect x="475" y="109.8" width="1.1" height="99.2" fill="url(#rb)"/>
<rect x="475" y="208.9" width="1.1" height="40" fill="#500058"/>
<rect x="475" y="50.4" width="1.1" height="38.6" fill="url(#dk)"/>
<rect x="475" y="99.8" width="1.1" height="99.2" fill="#fff" fill-opacity="0.029"/>
<rect x="476" y="109.9" width="1.1" height="99.1" fill="url(#rb)"/>
<rect x="476" y="208.9" width="1.1" height="40" fill="#500058"/>
<rect x="476" y="50.5" width="1.1" height="34.2" fill="url(#dk)"/>
<rect x="476" y="99.9" width="1.1" height="99.1" fill="#fff" fill-opacity="0.029"/>
<rect x="477" y="110.0" width="1.1" height="98.9" fill="url(#rb)"/>
<rect x="477" y="209.0" width="1.1" height="40" fill="#500058"/>
<rect x="477" y="50.7" width="1.1" height="40.4" fill="url(#dk)"/>
<rect x="477" y="100.0" width="1.1" height="98.9" fill="#fff" fill-opacity="0.056"/>
<rect x="478" y="111.2" width="1.1" height="98.4" fill="url(#rb)"/>
<rect x="478" y="209.6" width="1.1" height="40" fill="#500058"/>
<rect x="478" y="50.8" width="1.1" height="43.2" fill="url(#dk)"/>
<rect x="478" y="101.2" width="1.1" height="98.4" fill="#fff" fill-opacity="0.063"/>
<rect x="479" y="112.3" width="1.1" height="97.9" fill="url(#rb)"/>
<rect x="479" y="210.1" width="1.1" height="40" fill="#500058"/>
<rect x="479" y="51.0" width="1.1" height="43.0" fill="url(#dk)"/>
<rect x="480" y="111.5" width="1.1" height="98.1" fill="url(#rb)"/>
<rect x="480" y="209.6" width="1.1" height="40" fill="#500058"/>
<rect x="480" y="51.2" width="1.1" height="39.0" fill="url(#dk)"/>
<rect x="480" y="101.5" width="1.1" height="98.1" fill="#fff" fill-opacity="0.012"/>
<rect x="481" y="112.9" width="1.1" height="97.5" fill="url(#rb)"/>
<rect x="481" y="210.3" width="1.1" height="40" fill="#500058"/>
<rect x="481" y="51.3" width="1.1" height="39.8" fill="url(#dk)"/>
<rect x="481" y="102.9" width="1.1" height="97.5" fill="#fff" fill-opacity="0.018"/>
<rect x="482" y="112.4" width="1.1" height="97.6" fill="url(#rb)"/>
<rect x="482" y="210.0" width="1.1" height="40" fill="#500058"/>
<rect x="482" y="51.5" width="1.1" height="36.5" fill="url(#dk)"/>
<rect x="482" y="102.4" width="1.1" height="97.6" fill="#fff" fill-opacity="0.046"/>
<rect x="483" y="111.5" width="1.1" height="97.9" fill="url(#rb)"/>
<rect x="483" y="209.4" width="1.1" height="40" fill="#500058"/>
<rect x="483" y="51.6" width="1.1" height="41.7" fill="url(#dk)"/>
<rect x="483" y="101.5" width="1.1" height="97.9" fill="#fff" fill-opacity="0.044"/>
<rect x="484" y="113.0" width="1.1" height="97.2" fill="url(#rb)"/>
<rect x="484" y="210.2" width="1.1" height="40" fill="#500058"/>
<rect x="484" y="51.8" width="1.1" height="37.1" fill="url(#dk)"/>
<rect x="484" y="103.0" width="1.1" height="97.2" fill="#fff" fill-opacity="0.044"/>
<rect x="485" y="113.0" width="1.1" height="97.1" fill="url(#rb)"/>
<rect x="485" y="210.1" width="1.1" height="40" fill="#500058"/>
<rect x="485" y="52.0" width="1.1" height="34.4" fill="url(#dk)"/>
<rect x="485" y="103.0" width="1.1" height="97.1" fill="#fff" fill-opacity="0.036"/>
<rect x="486" y="114.1" width="1.1" height="96.6" fill="url(#rb)"/>
<rect x="486" y="210.7" width="1.1" height="40" fill="#500058"/>
<rect x="486" y="52.1" width="1.1" height="41.5" fill="url(#dk)"/>
<rect x="487" y="114.0" width="1.1" height="96.6" fill="url(#rb)"/>
<rect x="487" y="210.5" width="1.1" height="40" fill="#500058"/>
<rect x="487" y="52.3" width="1.1" height="45.0" fill="url(#dk)"/>
<rect x="487" y="38.9" width="1.1" height="171.6" fill="#000" fill-opacity="0.044"/>
<rect x="488" y="113.9" width="1.1" height="96.5" fill="url(#rb)"/>
<rect x="488" y="210.4" width="1.1" height="40" fill="#500058"/>
<rect x="488" y="52.5" width="1.1" height="44.4" fill="url(#dk)"/>
<rect x="488" y="103.9" width="1.1" height="96.5" fill="#fff" fill-opacity="0.014"/>
<rect x="489" y="114.4" width="1.1" height="96.2" fill="url(#rb)"/>
<rect x="489" y="210.6" width="1.1" height="40" fill="#500058"/>
<rect x="489" y="52.6" width="1.1" height="40.9" fill="url(#dk)"/>
<rect x="489" y="38.9" width="1.1" height="171.7" fill="#000" fill-opacity="0.014"/>
<rect x="490" y="114.5" width="1.1" height="96.1" fill="url(#rb)"/>
<rect x="490" y="210.6" width="1.1" height="40" fill="#500058"/>
<rect x="490" y="52.8" width="1.1" height="37.5" fill="url(#dk)"/>
<rect x="490" y="104.5" width="1.1" height="96.1" fill="#fff" fill-opacity="0.028"/>
<rect x="491" y="115.3" width="1.1" height="95.7" fill="url(#rb)"/>
<rect x="491" y="211.0" width="1.1" height="40" fill="#500058"/>
<rect x="491" y="52.9" width="1.1" height="34.0" fill="url(#dk)"/>
<rect x="491" y="105.3" width="1.1" height="95.7" fill="#fff" fill-opacity="0.019"/>
<rect x="492" y="114.6" width="1.1" height="95.9" fill="url(#rb)"/>
<rect x="492" y="210.5" width="1.1" height="40" fill="#500058"/>
<rect x="492" y="53.1" width="1.1" height="34.6" fill="url(#dk)"/>
<rect x="493" y="115.7" width="1.1" height="95.4" fill="url(#rb)"/>
<rect x="493" y="211.1" width="1.1" height="40" fill="#500058"/>
<rect x="493" y="53.3" width="1.1" height="34.4" fill="url(#dk)"/>
<rect x="493" y="38.9" width="1.1" height="172.2" fill="#000" fill-opacity="0.020"/>
<rect x="494" y="114.9" width="1.1" height="95.6" fill="url(#rb)"/>
<rect x="494" y="210.5" width="1.1" height="40" fill="#500058"/>
<rect x="494" y="53.4" width="1.1" height="37.9" fill="url(#dk)"/>
<rect x="495" y="114.3" width="1.1" height="95.8" fill="url(#rb)"/>
<rect x="495" y="210.1" width="1.1" height="40" fill="#500058"/>
<rect x="495" y="53.6" width="1.1" height="34.8" fill="url(#dk)"/>
<rect x="495" y="104.3" width="1.1" height="95.8" fill="#fff" fill-opacity="0.021"/>
<rect x="496" y="115.8" width="1.1" height="95.1" fill="url(#rb)"/>
<rect x="496" y="210.9" width="1.1" height="40" fill="#500058"/>
<rect x="496" y="53.7" width="1.1" height="37.5" fill="url(#dk)"/>
<rect x="496" y="105.8" width="1.1" height="95.1" fill="#fff" fill-opacity="0.034"/>
<rect x="497" y="116.6" width="1.1" height="94.7" fill="url(#rb)"/>
<rect x="497" y="211.3" width="1.1" height="40" fill="#500058"/>
<rect x="497" y="53.9" width="1.1" height="44.8" fill="url(#dk)"/>
<rect x="497" y="106.6" width="1.1" height="94.7" fill="#fff" fill-opacity="0.024"/>
<rect x="498" y="115.4" width="1.1" height="95.1" fill="url(#rb)"/>
<rect x="498" y="210.6" width="1.1" height="40" fill="#500058"/>
<rect x="498" y="54.1" width="1.1" height="38.4" fill="url(#dk)"/>
<rect x="498" y="105.4" width="1.1" height="95.1" fill="#fff" fill-opacity="0.046"/>
<rect x="499" y="115.4" width="1.1" height="95.0" fill="url(#rb)"/>
<rect x="499" y="210.5" width="1.1" height="40" fill="#500058"/>
<rect x="499" y="54.2" width="1.1" height="34.3" fill="url(#dk)"/>
<rect x="499" y="105.4" width="1.1" height="95.0" fill="#fff" fill-opacity="0.048"/>
<rect x="500" y="115.3" width="1.1" height="95.0" fill="url(#rb)"/>
<rect x="500" y="210.4" width="1.1" height="40" fill="#500058"/>
<rect x="500" y="54.4" width="1.1" height="38.3" fill="url(#dk)"/>
<rect x="501" y="116.4" width="1.1" height="94.6" fill="url(#rb)"/>
<rect x="501" y="211.0" width="1.1" height="40" fill="#500058"/>
<rect x="501" y="54.5" width="1.1" height="38.2" fill="url(#dk)"/>
<rect x="502" y="116.5" width="1.1" height="94.5" fill="url(#rb)"/>
<rect x="502" y="211.0" width="1.1" height="40" fill="#500058"/>
<rect x="502" y="54.7" width="1.1" height="37.8" fill="url(#dk)"/>
<rect x="502" y="106.5" width="1.1" height="94.5" fill="#fff" fill-opacity="0.016"/>
<rect x="503" y="115.6" width="1.1" height="94.8" fill="url(#rb)"/>
<rect x="503" y="210.5" width="1.1" height="40" fill="#500058"/>
<rect x="503" y="54.9" width="1.1" height="36.5" fill="url(#dk)"/>
<rect x="503" y="38.9" width="1.1" height="171.6" fill="#000" fill-opacity="0.033"/>
<rect x="504" y="115.4" width="1.1" height="94.9" fill="url(#rb)"/>
<rect x="504" y="210.3" width="1.1" height="40" fill="#500058"/>
<rect x="504" y="55.0" width="1.1" height="38.7" fill="url(#dk)"/>
<rect x="504" y="38.9" width="1.1" height="171.4" fill="#000" fill-opacity="0.032"/>
<rect x="505" y="117.0" width="1.1" height="94.2" fill="url(#rb)"/>
<rect x="505" y="211.2" width="1.1" height="40" fill="#500058"/>
<rect x="505" y="55.2" width="1.1" height="36.1" fill="url(#dk)"/>
<rect x="506" y="116.5" width="1.1" height="94.4" fill="url(#rb)"/>
<rect x="506" y="210.9" width="1.1" height="40" fill="#500058"/>
<rect x="506" y="55.4" width="1.1" height="37.3" fill="url(#dk)"/>
<rect x="507" y="117.9" width="1.1" height="93.8" fill="url(#rb)"/>
<rect x="507" y="211.7" width="1.1" height="40" fill="#500058"/>
<rect x="507" y="55.5" width="1.1" height="43.5" fill="url(#dk)"/>
<rect x="507" y="38.9" width="1.1" height="172.8" fill="#000" fill-opacity="0.032"/>
<rect x="508" y="116.6" width="1.1" height="94.3" fill="url(#rb)"/>
<rect x="508" y="210.9" width="1.1" height="40" fill="#500058"/>
<rect x="508" y="55.7" width="1.1" height="36.1" fill="url(#dk)"/>
<rect x="508" y="38.9" width="1.1" height="172.0" fill="#000" fill-opacity="0.039"/>
<rect x="509" y="118.0" width="1.1" height="93.7" fill="url(#rb)"/>
<rect x="509" y="211.7" width="1.1" height="40" fill="#500058"/>
<rect x="509" y="55.8" width="1.1" height="38.4" fill="url(#dk)"/>
<rect x="509" y="38.9" width="1.1" height="172.8" fill="#000" fill-opacity="0.032"/>
<rect x="510" y="116.7" width="1.1" height="94.2" fill="url(#rb)"/>
<rect x="510" y="210.9" width="1.1" height="40" fill="#500058"/>
<rect x="510" y="56.0" width="1.1" height="38.4" fill="url(#dk)"/>
<rect x="510" y="38.9" width="1.1" height="172.0" fill="#000" fill-opacity="0.060"/>
<rect x="511" y="118.0" width="1.1" height="93.6" fill="url(#rb)"/>
<rect x="511" y="211.7" width="1.1" height="40" fill="#500058"/>
<rect x="511" y="56.2" width="1.1" height="44.2" fill="url(#dk)"/>
<rect x="511" y="38.9" width="1.1" height="172.8" fill="#000" fill-opacity="0.081"/>
<rect x="512" y="117.5" width="1.1" height="93.8" fill="url(#rb)"/>
<rect x="512" y="211.3" width="1.1" height="40" fill="#500058"/>
<rect x="512" y="56.3" width="1.1" height="37.6" fill="url(#dk)"/>
<rect x="512" y="38.9" width="1.1" height="172.4" fill="#000" fill-opacity="0.016"/>
<rect x="513" y="117.9" width="1.1" height="93.6" fill="url(#rb)"/>
<rect x="513" y="211.5" width="1.1" height="40" fill="#500058"/>
<rect x="513" y="56.5" width="1.1" height="41.8" fill="url(#dk)"/>
<rect x="513" y="38.9" width="1.1" height="172.6" fill="#000" fill-opacity="0.052"/>
<rect x="514" y="118.6" width="1.1" height="93.3" fill="url(#rb)"/>
<rect x="514" y="211.9" width="1.1" height="40" fill="#500058"/>
<rect x="514" y="56.3" width="1.1" height="43.3" fill="url(#dk)"/>
<rect x="514" y="38.9" width="1.1" height="173.0" fill="#000" fill-opacity="0.056"/>
<rect x="515" y="118.4" width="1.1" height="93.4" fill="url(#rb)"/>
<rect x="515" y="211.8" width="1.1" height="40" fill="#500058"/>
<rect x="515" y="56.1" width="1.1" height="42.9" fill="url(#dk)"/>
<rect x="515" y="108.4" width="1.1" height="93.4" fill="#fff" fill-opacity="0.008"/>
<rect x="516" y="119.2" width="1.1" height="93.0" fill="url(#rb)"/>
<rect x="516" y="212.2" width="1.1" height="40" fill="#500058"/>
<rect x="516" y="55.8" width="1.1" height="38.7" fill="url(#dk)"/>
<rect x="516" y="38.9" width="1.1" height="173.3" fill="#000" fill-opacity="0.034"/>
<rect x="517" y="119.3" width="1.1" height="93.0" fill="url(#rb)"/>
<rect x="517" y="212.2" width="1.1" height="40" fill="#500058"/>
<rect x="517" y="55.6" width="1.1" height="37.8" fill="url(#dk)"/>
<rect x="517" y="109.3" width="1.1" height="93.0" fill="#fff" fill-opacity="0.012"/>
<rect x="518" y="118.6" width="1.1" height="93.2" fill="url(#rb)"/>
<rect x="518" y="211.8" width="1.1" height="40" fill="#500058"/>
<rect x="518" y="55.4" width="1.1" height="41.6" fill="url(#dk)"/>
<rect x="519" y="118.0" width="1.1" height="93.4" fill="url(#rb)"/>
<rect x="519" y="211.4" width="1.1" height="40" fill="#500058"/>
<rect x="519" y="55.2" width="1.1" height="36.2" fill="url(#dk)"/>
<rect x="520" y="118.6" width="1.1" height="93.2" fill="url(#rb)"/>
<rect x="520" y="211.8" width="1.1" height="40" fill="#500058"/>
<rect x="520" y="54.9" width="1.1" height="37.9" fill="url(#dk)"/>
<rect x="520" y="108.6" width="1.1" height="93.2" fill="#fff" fill-opacity="0.017"/>
<rect x="521" y="118.9" width="1.1" height="93.1" fill="url(#rb)"/>
<rect x="521" y="212.0" width="1.1" height="40" fill="#500058"/>
<rect x="521" y="54.7" width="1.1" height="33.8" fill="url(#dk)"/>
<rect x="521" y="108.9" width="1.1" height="93.1" fill="#fff" fill-opacity="0.026"/>
<rect x="522" y="118.7" width="1.1" height="93.2" fill="url(#rb)"/>
<rect x="522" y="211.9" width="1.1" height="40" fill="#500058"/>
<rect x="522" y="54.5" width="1.1" height="44.2" fill="url(#dk)"/>
<rect x="523" y="119.4" width="1.1" height="93.0" fill="url(#rb)"/>
<rect x="523" y="212.3" width="1.1" height="40" fill="#500058"/>
<rect x="523" y="54.3" width="1.1" height="42.7" fill="url(#dk)"/>
<rect x="523" y="109.4" width="1.1" height="93.0" fill="#fff" fill-opacity="0.023"/>
<rect x="524" y="118.3" width="1.1" height="93.4" fill="url(#rb)"/>
<rect x="524" y="211.7" width="1.1" height="40" fill="#500058"/>
<rect x="524" y="54.0" width="1.1" height="48.4" fill="url(#dk)"/>
<rect x="525" y="117.8" width="1.1" height="93.6" fill="url(#rb)"/>
<rect x="525" y="211.5" width="1.1" height="40" fill="#500058"/>
<rect x="525" y="53.8" width="1.1" height="38.9" fill="url(#dk)"/>
<rect x="526" y="118.4" width="1.1" height="93.5" fill="url(#rb)"/>
<rect x="526" y="211.8" width="1.1" height="40" fill="#500058"/>
<rect x="526" y="53.6" width="1.1" height="39.8" fill="url(#dk)"/>
<rect x="526" y="108.4" width="1.1" height="93.5" fill="#fff" fill-opacity="0.018"/>
<rect x="527" y="118.5" width="1.1" height="93.4" fill="url(#rb)"/>
<rect x="527" y="212.0" width="1.1" height="40" fill="#500058"/>
<rect x="527" y="53.4" width="1.1" height="46.8" fill="url(#dk)"/>
<rect x="527" y="108.5" width="1.1" height="93.4" fill="#fff" fill-opacity="0.032"/>
<rect x="528" y="117.2" width="1.1" height="94.0" fill="url(#rb)"/>
<rect x="528" y="211.2" width="1.1" height="40" fill="#500058"/>
<rect x="528" y="53.1" width="1.1" height="42.4" fill="url(#dk)"/>
<rect x="528" y="107.2" width="1.1" height="94.0" fill="#fff" fill-opacity="0.025"/>
<rect x="529" y="117.9" width="1.1" height="93.8" fill="url(#rb)"/>
<rect x="529" y="211.6" width="1.1" height="40" fill="#500058"/>
<rect x="529" y="52.9" width="1.1" height="38.6" fill="url(#dk)"/>
<rect x="530" y="118.3" width="1.1" height="93.6" fill="url(#rb)"/>
<rect x="530" y="211.9" width="1.1" height="40" fill="#500058"/>
<rect x="530" y="52.7" width="1.1" height="41.0" fill="url(#dk)"/>
<rect x="530" y="108.3" width="1.1" height="93.6" fill="#fff" fill-opacity="0.018"/>
<rect x="531" y="118.9" width="1.1" height="93.4" fill="url(#rb)"/>
<rect x="531" y="212.3" width="1.1" height="40" fill="#500058"/>
<rect x="531" y="52.5" width="1.1" height="39.6" fill="url(#dk)"/>
<rect x="531" y="38.9" width="1.1" height="173.4" fill="#000" fill-opacity="0.017"/>
<rect x="532" y="117.6" width="1.1" height="94.0" fill="url(#rb)"/>
<rect x="532" y="211.5" width="1.1" height="40" fill="#500058"/>
<rect x="532" y="52.2" width="1.1" height="37.8" fill="url(#dk)"/>
<rect x="532" y="38.9" width="1.1" height="172.6" fill="#000" fill-opacity="0.035"/>
<rect x="533" y="117.0" width="1.1" height="94.2" fill="url(#rb)"/>
<rect x="533" y="211.2" width="1.1" height="40" fill="#500058"/>
<rect x="533" y="52.0" width="1.1" height="46.7" fill="url(#dk)"/>
<rect x="533" y="38.9" width="1.1" height="172.3" fill="#000" fill-opacity="0.021"/>
<rect x="534" y="116.4" width="1.1" height="94.5" fill="url(#rb)"/>
<rect x="534" y="210.9" width="1.1" height="40" fill="#500058"/>
<rect x="534" y="51.8" width="1.1" height="41.1" fill="url(#dk)"/>
<rect x="535" y="117.1" width="1.1" height="94.3" fill="url(#rb)"/>
<rect x="535" y="211.3" width="1.1" height="40" fill="#500058"/>
<rect x="535" y="51.6" width="1.1" height="48.3" fill="url(#dk)"/>
<rect x="535" y="107.1" width="1.1" height="94.3" fill="#fff" fill-opacity="0.025"/>
<rect x="536" y="116.7" width="1.1" height="94.4" fill="url(#rb)"/>
<rect x="536" y="211.2" width="1.1" height="40" fill="#500058"/>
<rect x="536" y="51.3" width="1.1" height="41.8" fill="url(#dk)"/>
<rect x="536" y="38.9" width="1.1" height="172.3" fill="#000" fill-opacity="0.027"/>
<rect x="537" y="116.0" width="1.1" height="94.8" fill="url(#rb)"/>
<rect x="537" y="210.7" width="1.1" height="40" fill="#500058"/>
<rect x="537" y="51.1" width="1.1" height="36.7" fill="url(#dk)"/>
<rect x="537" y="106.0" width="1.1" height="94.8" fill="#fff" fill-opacity="0.021"/>
<rect x="538" y="116.1" width="1.1" height="94.7" fill="url(#rb)"/>
<rect x="538" y="210.8" width="1.1" height="40" fill="#500058"/>
<rect x="538" y="50.9" width="1.1" height="45.8" fill="url(#dk)"/>
<rect x="538" y="38.9" width="1.1" height="171.9" fill="#000" fill-opacity="0.021"/>
<rect x="539" y="116.8" width="1.1" height="94.5" fill="url(#rb)"/>
<rect x="539" y="211.3" width="1.1" height="40" fill="#500058"/>
<rect x="539" y="50.7" width="1.1" height="51.3" fill="url(#dk)"/>
<rect x="539" y="38.9" width="1.1" height="172.4" fill="#000" fill-opacity="0.054"/>
<rect x="540" y="116.2" width="1.1" height="94.7" fill="url(#rb)"/>
<rect x="540" y="211.0" width="1.1" height="40" fill="#500058"/>
<rect x="540" y="50.4" width="1.1" height="43.0" fill="url(#dk)"/>
<rect x="540" y="38.9" width="1.1" height="172.1" fill="#000" fill-opacity="0.074"/>
<rect x="541" y="116.8" width="1.1" height="94.6" fill="url(#rb)"/>
<rect x="541" y="211.4" width="1.1" height="40" fill="#500058"/>
<rect x="541" y="50.2" width="1.1" height="37.2" fill="url(#dk)"/>
<rect x="541" y="38.9" width="1.1" height="172.5" fill="#000" fill-opacity="0.060"/>
<rect x="542" y="116.2" width="1.1" height="94.8" fill="url(#rb)"/>
<rect x="542" y="211.0" width="1.1" height="40" fill="#500058"/>
<rect x="542" y="50.0" width="1.1" height="39.2" fill="url(#dk)"/>
<rect x="542" y="38.9" width="1.1" height="172.1" fill="#000" fill-opacity="0.020"/>
<rect x="543" y="115.4" width="1.1" height="95.2" fill="url(#rb)"/>
<rect x="543" y="210.6" width="1.1" height="40" fill="#500058"/>
<rect x="543" y="49.8" width="1.1" height="35.2" fill="url(#dk)"/>
<rect x="544" y="115.4" width="1.1" height="95.2" fill="url(#rb)"/>
<rect x="544" y="210.6" width="1.1" height="40" fill="#500058"/>
<rect x="544" y="49.5" width="1.1" height="46.3" fill="url(#dk)"/>
<rect x="544" y="105.4" width="1.1" height="95.2" fill="#fff" fill-opacity="0.033"/>
<rect x="545" y="116.6" width="1.1" height="94.8" fill="url(#rb)"/>
<rect x="545" y="211.4" width="1.1" height="40" fill="#500058"/>
<rect x="545" y="49.3" width="1.1" height="41.2" fill="url(#dk)"/>
<rect x="545" y="106.6" width="1.1" height="94.8" fill="#fff" fill-opacity="0.031"/>
<rect x="546" y="116.7" width="1.1" height="94.8" fill="url(#rb)"/>
<rect x="546" y="211.6" width="1.1" height="40" fill="#500058"/>
<rect x="546" y="49.1" width="1.1" height="47.3" fill="url(#dk)"/>
<rect x="546" y="106.7" width="1.1" height="94.8" fill="#fff" fill-opacity="0.024"/>
<rect x="547" y="115.0" width="1.1" height="95.6" fill="url(#rb)"/>
<rect x="547" y="210.6" width="1.1" height="40" fill="#500058"/>
<rect x="547" y="48.9" width="1.1" height="45.4" fill="url(#dk)"/>
<rect x="547" y="105.0" width="1.1" height="95.6" fill="#fff" fill-opacity="0.024"/>
<rect x="548" y="116.0" width="1.1" height="95.3" fill="url(#rb)"/>
<rect x="548" y="211.3" width="1.1" height="40" fill="#500058"/>
<rect x="548" y="48.6" width="1.1" height="40.8" fill="url(#dk)"/>
<rect x="548" y="106.0" width="1.1" height="95.3" fill="#fff" fill-opacity="0.025"/>
<rect x="549" y="116.3" width="1.1" height="95.2" fill="url(#rb)"/>
<rect x="549" y="211.5" width="1.1" height="40" fill="#500058"/>
<rect x="549" y="48.4" width="1.1" height="36.5" fill="url(#dk)"/>
<rect x="549" y="106.3" width="1.1" height="95.2" fill="#fff" fill-opacity="0.022"/>
<rect x="550" y="116.2" width="1.1" height="95.3" fill="url(#rb)"/>
<rect x="550" y="211.5" width="1.1" height="40" fill="#500058"/>
<rect x="550" y="48.2" width="1.1" height="44.7" fill="url(#dk)"/>
<rect x="550" y="106.2" width="1.1" height="95.3" fill="#fff" fill-opacity="0.048"/>
<rect x="551" y="114.3" width="1.1" height="96.2" fill="url(#rb)"/>
<rect x="551" y="210.5" width="1.1" height="40" fill="#500058"/>
<rect x="551" y="48.0" width="1.1" height="38.8" fill="url(#dk)"/>
<rect x="552" y="113.8" width="1.1" height="96.5" fill="url(#rb)"/>
<rect x="552" y="210.2" width="1.1" height="40" fill="#500058"/>
<rect x="552" y="47.7" width="1.1" height="45.6" fill="url(#dk)"/>
<rect x="552" y="38.9" width="1.1" height="171.3" fill="#000" fill-opacity="0.041"/>
<rect x="553" y="113.6" width="1.1" height="96.6" fill="url(#rb)"/>
<rect x="553" y="210.2" width="1.1" height="40" fill="#500058"/>
<rect x="553" y="47.5" width="1.1" height="42.2" fill="url(#dk)"/>
<rect x="553" y="38.9" width="1.1" height="171.3" fill="#000" fill-opacity="0.068"/>
<rect x="554" y="114.0" width="1.1" height="96.5" fill="url(#rb)"/>
<rect x="554" y="210.5" width="1.1" height="40" fill="#500058"/>
<rect x="554" y="47.3" width="1.1" height="40.5" fill="url(#dk)"/>
<rect x="554" y="38.9" width="1.1" height="171.6" fill="#000" fill-opacity="0.062"/>
<rect x="555" y="113.4" width="1.1" height="96.8" fill="url(#rb)"/>
<rect x="555" y="210.3" width="1.1" height="40" fill="#500058"/>
<rect x="555" y="47.1" width="1.1" height="40.0" fill="url(#dk)"/>
<rect x="555" y="103.4" width="1.1" height="96.8" fill="#fff" fill-opacity="0.008"/>
<rect x="556" y="114.0" width="1.1" height="96.7" fill="url(#rb)"/>
<rect x="556" y="210.7" width="1.1" height="40" fill="#500058"/>
<rect x="556" y="46.8" width="1.1" height="48.8" fill="url(#dk)"/>
<rect x="557" y="114.6" width="1.1" height="96.5" fill="url(#rb)"/>
<rect x="557" y="211.2" width="1.1" height="40" fill="#500058"/>
<rect x="557" y="46.6" width="1.1" height="40.3" fill="url(#dk)"/>
<rect x="557" y="104.6" width="1.1" height="96.5" fill="#fff" fill-opacity="0.017"/>
<rect x="558" y="113.8" width="1.1" height="96.9" fill="url(#rb)"/>
<rect x="558" y="210.7" width="1.1" height="40" fill="#500058"/>
<rect x="558" y="46.4" width="1.1" height="49.6" fill="url(#dk)"/>
<rect x="558" y="38.9" width="1.1" height="171.8" fill="#000" fill-opacity="0.031"/>
<rect x="559" y="113.1" width="1.1" height="97.3" fill="url(#rb)"/>
<rect x="559" y="210.4" width="1.1" height="40" fill="#500058"/>
<rect x="559" y="46.2" width="1.1" height="43.9" fill="url(#dk)"/>
<rect x="559" y="38.9" width="1.1" height="171.5" fill="#000" fill-opacity="0.012"/>
<rect x="560" y="112.9" width="1.1" height="97.5" fill="url(#rb)"/>
<rect x="560" y="210.4" width="1.1" height="40" fill="#500058"/>
<rect x="560" y="45.9" width="1.1" height="51.0" fill="url(#dk)"/>
<rect x="560" y="102.9" width="1.1" height="97.5" fill="#fff" fill-opacity="0.019"/>
<rect x="561" y="113.4" width="1.1" height="97.4" fill="url(#rb)"/>
<rect x="561" y="210.7" width="1.1" height="40" fill="#500058"/>
<rect x="561" y="45.7" width="1.1" height="51.5" fill="url(#dk)"/>
<rect x="561" y="38.9" width="1.1" height="171.8" fill="#000" fill-opacity="0.017"/>
<rect x="562" y="113.4" width="1.1" height="97.4" fill="url(#rb)"/>
<rect x="562" y="210.8" width="1.1" height="40" fill="#500058"/>
<rect x="562" y="45.5" width="1.1" height="50.0" fill="url(#dk)"/>
<rect x="563" y="112.4" width="1.1" height="97.9" fill="url(#rb)"/>
<rect x="563" y="210.3" width="1.1" height="40" fill="#500058"/>
<rect x="563" y="45.3" width="1.1" height="45.9" fill="url(#dk)"/>
<rect x="563" y="38.9" width="1.1" height="171.4" fill="#000" fill-opacity="0.023"/>
<rect x="564" y="111.2" width="1.1" height="98.5" fill="url(#rb)"/>
<rect x="564" y="209.7" width="1.1" height="40" fill="#500058"/>
<rect x="564" y="45.0" width="1.1" height="41.7" fill="url(#dk)"/>
<rect x="564" y="38.9" width="1.1" height="170.8" fill="#000" fill-opacity="0.038"/>
<rect x="565" y="110.9" width="1.1" height="98.7" fill="url(#rb)"/>
<rect x="565" y="209.6" width="1.1" height="40" fill="#500058"/>
<rect x="565" y="44.8" width="1.1" height="38.0" fill="url(#dk)"/>
<rect x="565" y="100.9" width="1.1" height="98.7" fill="#fff" fill-opacity="0.017"/>
<rect x="566" y="111.3" width="1.1" height="98.6" fill="url(#rb)"/>
<rect x="566" y="209.9" width="1.1" height="40" fill="#500058"/>
<rect x="566" y="44.6" width="1.1" height="40.1" fill="url(#dk)"/>
<rect x="566" y="38.9" width="1.1" height="171.0" fill="#000" fill-opacity="0.033"/>
<rect x="567" y="112.2" width="1.1" height="98.3" fill="url(#rb)"/>
<rect x="567" y="210.5" width="1.1" height="40" fill="#500058"/>
<rect x="567" y="44.4" width="1.1" height="50.6" fill="url(#dk)"/>
<rect x="568" y="110.7" width="1.1" height="99.0" fill="url(#rb)"/>
<rect x="568" y="209.7" width="1.1" height="40" fill="#500058"/>
<rect x="568" y="44.1" width="1.1" height="42.6" fill="url(#dk)"/>
<rect x="569" y="111.3" width="1.1" height="98.8" fill="url(#rb)"/>
<rect x="569" y="210.1" width="1.1" height="40" fill="#500058"/>
<rect x="569" y="43.9" width="1.1" height="44.1" fill="url(#dk)"/>
<rect x="569" y="101.3" width="1.1" height="98.8" fill="#fff" fill-opacity="0.021"/>
<rect x="570" y="110.8" width="1.1" height="99.1" fill="url(#rb)"/>
<rect x="570" y="209.9" width="1.1" height="40" fill="#500058"/>
<rect x="570" y="43.7" width="1.1" height="47.3" fill="url(#dk)"/>
<rect x="571" y="111.2" width="1.1" height="99.0" fill="url(#rb)"/>
<rect x="571" y="210.2" width="1.1" height="40" fill="#500058"/>
<rect x="571" y="43.5" width="1.1" height="52.1" fill="url(#dk)"/>
<rect x="571" y="38.9" width="1.1" height="171.3" fill="#000" fill-opacity="0.016"/>
<rect x="572" y="109.9" width="1.1" height="99.6" fill="url(#rb)"/>
<rect x="572" y="209.5" width="1.1" height="40" fill="#500058"/>
<rect x="572" y="43.2" width="1.1" height="54.2" fill="url(#dk)"/>
<rect x="572" y="99.9" width="1.1" height="99.6" fill="#fff" fill-opacity="0.008"/>
<rect x="573" y="110.2" width="1.1" height="99.6" fill="url(#rb)"/>
<rect x="573" y="209.7" width="1.1" height="40" fill="#500058"/>
<rect x="573" y="43.0" width="1.1" height="48.4" fill="url(#dk)"/>
<rect x="573" y="38.9" width="1.1" height="170.8" fill="#000" fill-opacity="0.017"/>
<rect x="574" y="109.4" width="1.1" height="100.0" fill="url(#rb)"/>
<rect x="574" y="209.3" width="1.1" height="40" fill="#500058"/>
<rect x="574" y="42.8" width="1.1" height="44.1" fill="url(#dk)"/>
<rect x="574" y="99.4" width="1.1" height="100.0" fill="#fff" fill-opacity="0.011"/>
<rect x="575" y="108.8" width="1.1" height="100.3" fill="url(#rb)"/>
<rect x="575" y="209.1" width="1.1" height="40" fill="#500058"/>
<rect x="575" y="42.6" width="1.1" height="51.4" fill="url(#dk)"/>
<rect x="576" y="108.9" width="1.1" height="100.2" fill="url(#rb)"/>
<rect x="576" y="209.1" width="1.1" height="40" fill="#500058"/>
<rect x="576" y="42.3" width="1.1" height="47.7" fill="url(#dk)"/>
<rect x="576" y="38.9" width="1.1" height="170.2" fill="#000" fill-opacity="0.047"/>
<rect x="577" y="109.3" width="1.1" height="100.1" fill="url(#rb)"/>
<rect x="577" y="209.4" width="1.1" height="40" fill="#500058"/>
<rect x="577" y="42.1" width="1.1" height="43.6" fill="url(#dk)"/>
<rect x="577" y="38.9" width="1.1" height="170.5" fill="#000" fill-opacity="0.058"/>
<rect x="578" y="109.7" width="1.1" height="100.0" fill="url(#rb)"/>
<rect x="578" y="209.7" width="1.1" height="40" fill="#500058"/>
<rect x="578" y="41.9" width="1.1" height="53.0" fill="url(#dk)"/>
<rect x="579" y="109.5" width="1.1" height="100.1" fill="url(#rb)"/>
<rect x="579" y="209.6" width="1.1" height="40" fill="#500058"/>
<rect x="579" y="41.7" width="1.1" height="54.7" fill="url(#dk)"/>
<rect x="579" y="38.9" width="1.1" height="170.7" fill="#000" fill-opacity="0.031"/>
<rect x="580" y="110.3" width="1.1" height="99.8" fill="url(#rb)"/>
<rect x="580" y="210.1" width="1.1" height="40" fill="#500058"/>
<rect x="580" y="41.4" width="1.1" height="44.1" fill="url(#dk)"/>
<rect x="581" y="108.9" width="1.1" height="100.3" fill="url(#rb)"/>
<rect x="581" y="209.3" width="1.1" height="40" fill="#500058"/>
<rect x="581" y="41.2" width="1.1" height="41.6" fill="url(#dk)"/>
<rect x="581" y="38.9" width="1.1" height="170.4" fill="#000" fill-opacity="0.045"/>
<rect x="582" y="109.2" width="1.1" height="100.3" fill="url(#rb)"/>
<rect x="582" y="209.5" width="1.1" height="40" fill="#500058"/>
<rect x="582" y="41.0" width="1.1" height="51.4" fill="url(#dk)"/>
<rect x="582" y="38.9" width="1.1" height="170.6" fill="#000" fill-opacity="0.014"/>
<rect x="583" y="109.9" width="1.1" height="100.0" fill="url(#rb)"/>
<rect x="583" y="209.9" width="1.1" height="40" fill="#500058"/>
<rect x="583" y="40.8" width="1.1" height="48.8" fill="url(#dk)"/>
<rect x="583" y="99.9" width="1.1" height="100.0" fill="#fff" fill-opacity="0.012"/>
<rect x="584" y="110.0" width="1.1" height="100.0" fill="url(#rb)"/>
<rect x="584" y="210.0" width="1.1" height="40" fill="#500058"/>
<rect x="584" y="40.5" width="1.1" height="55.1" fill="url(#dk)"/>
<rect x="584" y="100.0" width="1.1" height="100.0" fill="#fff" fill-opacity="0.037"/>
<rect x="585" y="109.6" width="1.1" height="100.2" fill="url(#rb)"/>
<rect x="585" y="209.8" width="1.1" height="40" fill="#500058"/>
<rect x="585" y="40.3" width="1.1" height="53.1" fill="url(#dk)"/>
<rect x="585" y="99.6" width="1.1" height="100.2" fill="#fff" fill-opacity="0.044"/>
<rect x="586" y="108.9" width="1.1" height="100.5" fill="url(#rb)"/>
<rect x="586" y="209.3" width="1.1" height="40" fill="#500058"/>
<rect x="586" y="40.1" width="1.1" height="45.1" fill="url(#dk)"/>
<rect x="586" y="98.9" width="1.1" height="100.5" fill="#fff" fill-opacity="0.049"/>
<rect x="587" y="108.2" width="1.1" height="100.8" fill="url(#rb)"/>
<rect x="587" y="209.0" width="1.1" height="40" fill="#500058"/>
<rect x="587" y="39.9" width="1.1" height="48.4" fill="url(#dk)"/>
<rect x="587" y="98.2" width="1.1" height="100.8" fill="#fff" fill-opacity="0.018"/>
<rect x="588" y="107.7" width="1.1" height="101.0" fill="url(#rb)"/>
<rect x="588" y="208.7" width="1.1" height="40" fill="#500058"/>
<rect x="588" y="39.6" width="1.1" height="41.2" fill="url(#dk)"/>
<rect x="588" y="97.7" width="1.1" height="101.0" fill="#fff" fill-opacity="0.024"/>
<rect x="589" y="108.4" width="1.1" height="100.7" fill="url(#rb)"/>
<rect x="589" y="209.1" width="1.1" height="40" fill="#500058"/>
<rect x="589" y="39.4" width="1.1" height="40.5" fill="url(#dk)"/>
<rect x="589" y="98.4" width="1.1" height="100.7" fill="#fff" fill-opacity="0.029"/>
<rect x="590" y="107.7" width="1.1" height="101.0" fill="url(#rb)"/>
<rect x="590" y="208.7" width="1.1" height="40" fill="#500058"/>
<rect x="590" y="39.2" width="1.1" height="49.5" fill="url(#dk)"/>
<rect x="590" y="97.7" width="1.1" height="101.0" fill="#fff" fill-opacity="0.014"/>
<rect x="591" y="107.0" width="1.1" height="101.4" fill="url(#rb)"/>
<rect x="591" y="208.3" width="1.1" height="40" fill="#500058"/>
<rect x="591" y="39.0" width="1.1" height="43.1" fill="url(#dk)"/>
<rect x="591" y="97.0" width="1.1" height="101.4" fill="#fff" fill-opacity="0.016"/>
<rect x="592" y="107.6" width="1.1" height="101.1" fill="url(#rb)"/>
<rect x="592" y="208.7" width="1.1" height="40" fill="#500058"/>
<rect x="592" y="38.7" width="1.1" height="48.4" fill="url(#dk)"/>
<rect x="592" y="97.6" width="1.1" height="101.1" fill="#fff" fill-opacity="0.041"/>
<rect x="593" y="107.0" width="1.1" height="101.4" fill="url(#rb)"/>
<rect x="593" y="208.4" width="1.1" height="40" fill="#500058"/>
<rect x="593" y="38.5" width="1.1" height="51.7" fill="url(#dk)"/>
<rect x="593" y="97.0" width="1.1" height="101.4" fill="#fff" fill-opacity="0.032"/>
</g>
<polygon points="396.3,40.5 488.3,24.8 600.6,39.0 513.6,59.5" fill="#690000"/>
<polygon points="450.5,36.6 458.8,30.2 472.7,29.9 489.3,28.2 503.2,31.1 486.6,36.6 475.5,40.8 472.7,47.7 456.0,46.5 450.5,43.6" fill="#830000"/>
<line x1="367.6" y1="33.9" x2="375.1" y2="207.3" stroke="#111" stroke-width="0.9"/>
<line x1="375.1" y1="207.3" x2="511.2" y2="257.3" stroke="#111" stroke-width="0.9"/>
<line x1="511.2" y1="257.3" x2="618.3" y2="199.7" stroke="#111" stroke-width="0.9"/>
<line x1="365.6" y1="45.0" x2="368.1" y2="44.7" stroke="#111" stroke-width="0.8"/>
<text transform="translate(363.2,49.0) scale(0.8,1)" font-size="13" text-anchor="end">10</text>
<line x1="367.1" y1="79.3" x2="369.6" y2="79.0" stroke="#111" stroke-width="0.8"/>
<text transform="translate(364.8,83.3) scale(0.8,1)" font-size="13" text-anchor="end">8</text>
<line x1="368.5" y1="113.8" x2="371.0" y2="113.5" stroke="#111" stroke-width="0.8"/>
<text transform="translate(366.2,117.8) scale(0.8,1)" font-size="13" text-anchor="end">6</text>
<line x1="369.9" y1="145.8" x2="372.4" y2="145.5" stroke="#111" stroke-width="0.8"/>
<text transform="translate(367.6,149.8) scale(0.8,1)" font-size="13" text-anchor="end">4</text>
<line x1="371.3" y1="178.0" x2="373.8" y2="177.7" stroke="#111" stroke-width="0.8"/>
<text transform="translate(368.9,182.0) scale(0.8,1)" font-size="13" text-anchor="end">2</text>
<line x1="372.7" y1="210.1" x2="375.2" y2="209.8" stroke="#111" stroke-width="0.8"/>
<text transform="translate(371.1,214.1) scale(0.8,1)" font-size="13" text-anchor="end">0</text>
<text transform="translate(346,80.3) rotate(88) scale(1,0.85)" font-size="11.7">Free Energy (kJ/mol)</text>
<text transform="matrix(-0.837 0.450 -0.751 -0.276 375 212.8)" font-size="11" text-anchor="middle" fill="#222" dy="3.6">-4</text>
<text transform="matrix(-0.837 0.450 -0.751 -0.276 392 217.8)" font-size="11" text-anchor="middle" fill="#222" dy="3.6">-3</text>
<text transform="matrix(-0.837 0.450 -0.751 -0.276 404.5 222.4)" font-size="11" text-anchor="middle" fill="#222" dy="3.6">-2</text>
<text transform="matrix(-0.837 0.450 -0.751 -0.276 420.8 227.9)" font-size="11" text-anchor="middle" fill="#222" dy="3.6">-1</text>
<text transform="matrix(-0.837 0.450 -0.751 -0.276 435.9 234.1)" font-size="11" text-anchor="middle" fill="#222" dy="3.6">0</text>
<text transform="matrix(-0.837 0.450 -0.751 -0.276 453.5 239.5)" font-size="11" text-anchor="middle" fill="#222" dy="3.6">1</text>
<text transform="matrix(-0.837 0.450 -0.751 -0.276 470 246.5)" font-size="11" text-anchor="middle" fill="#222" dy="3.6">2</text>
<text transform="matrix(-0.837 0.450 -0.751 -0.276 486.4 253)" font-size="11" text-anchor="middle" fill="#222" dy="3.6">3</text>
<text transform="matrix(-0.837 0.450 -0.751 -0.276 505 260)" font-size="11" text-anchor="middle" fill="#222" dy="3.6">4</text>
<text transform="matrix(0.892 0.328 -0.652 0.351 419.6 238.7)" font-size="11.5" text-anchor="middle" fill="#222" dy="3.6">PC2</text>
<text transform="matrix(0.892 0.328 -0.705 0.379 520 260)" font-size="11" text-anchor="middle" fill="#222" dy="3.6">-3</text>
<text transform="matrix(0.892 0.328 -0.705 0.379 542.6 246.6)" font-size="11" text-anchor="middle" fill="#222" dy="3.6">-2</text>
<text transform="matrix(0.892 0.328 -0.705 0.379 563.9 236.5)" font-size="11" text-anchor="middle" fill="#222" dy="3.6">-1</text>
<text transform="matrix(0.892 0.328 -0.705 0.379 581.4 225.8)" font-size="11" text-anchor="middle" fill="#222" dy="3.6">0</text>
<text transform="matrix(0.892 0.328 -0.705 0.379 599 215.2)" font-size="11" text-anchor="middle" fill="#222" dy="3.6">1</text>
<text transform="matrix(0.892 0.328 -0.705 0.379 615.3 206.4)" font-size="11" text-anchor="middle" fill="#222" dy="3.6">2</text>
<text transform="matrix(0.837 -0.450 0.695 0.255 590.2 232.8)" font-size="11.5" text-anchor="middle" fill="#222" dy="3.6">PC1</text>
<line x1="378.0" y1="208.4" x2="375.4" y2="209.8" stroke="#111" stroke-width="0.7"/>
<line x1="386.1" y1="211.4" x2="384.7" y2="212.2" stroke="#111" stroke-width="0.6"/>
<line x1="394.2" y1="214.4" x2="391.6" y2="215.8" stroke="#111" stroke-width="0.7"/>
<line x1="402.4" y1="217.3" x2="400.9" y2="218.1" stroke="#111" stroke-width="0.6"/>
<line x1="410.5" y1="220.3" x2="407.9" y2="221.7" stroke="#111" stroke-width="0.7"/>
<line x1="418.6" y1="223.3" x2="417.2" y2="224.1" stroke="#111" stroke-width="0.6"/>
<line x1="426.8" y1="226.3" x2="424.1" y2="227.7" stroke="#111" stroke-width="0.7"/>
<line x1="434.9" y1="229.3" x2="433.4" y2="230.0" stroke="#111" stroke-width="0.6"/>
<line x1="443.0" y1="232.2" x2="440.4" y2="233.7" stroke="#111" stroke-width="0.7"/>
<line x1="451.1" y1="235.2" x2="449.7" y2="236.0" stroke="#111" stroke-width="0.6"/>
<line x1="459.2" y1="238.2" x2="456.6" y2="239.6" stroke="#111" stroke-width="0.7"/>
<line x1="467.4" y1="241.2" x2="465.9" y2="242.0" stroke="#111" stroke-width="0.6"/>
<line x1="475.5" y1="244.2" x2="472.9" y2="245.6" stroke="#111" stroke-width="0.7"/>
<line x1="483.6" y1="247.2" x2="482.2" y2="247.9" stroke="#111" stroke-width="0.6"/>
<line x1="491.8" y1="250.1" x2="489.1" y2="251.5" stroke="#111" stroke-width="0.7"/>
<line x1="499.9" y1="253.1" x2="498.4" y2="253.9" stroke="#111" stroke-width="0.6"/>
<line x1="508.0" y1="256.1" x2="505.4" y2="257.5" stroke="#111" stroke-width="0.7"/>
<line x1="516.0" y1="254.7" x2="518.8" y2="255.7" stroke="#111" stroke-width="0.7"/>
<line x1="525.6" y1="249.5" x2="527.1" y2="250.1" stroke="#111" stroke-width="0.6"/>
<line x1="535.2" y1="244.4" x2="538.0" y2="245.4" stroke="#111" stroke-width="0.7"/>
<line x1="544.8" y1="239.2" x2="546.3" y2="239.8" stroke="#111" stroke-width="0.6"/>
<line x1="554.4" y1="234.1" x2="557.2" y2="235.1" stroke="#111" stroke-width="0.7"/>
<line x1="564.0" y1="228.9" x2="565.5" y2="229.4" stroke="#111" stroke-width="0.6"/>
<line x1="573.6" y1="223.7" x2="576.4" y2="224.7" stroke="#111" stroke-width="0.7"/>
<line x1="583.2" y1="218.6" x2="584.7" y2="219.1" stroke="#111" stroke-width="0.6"/>
<line x1="592.8" y1="213.4" x2="595.6" y2="214.4" stroke="#111" stroke-width="0.7"/>
<line x1="602.4" y1="208.3" x2="603.9" y2="208.8" stroke="#111" stroke-width="0.6"/>
<line x1="612.0" y1="203.1" x2="614.8" y2="204.1" stroke="#111" stroke-width="0.7"/>
<text x="360.4" y="240.4" font-size="23.5">B</text>
<rect x="638" y="25.7" width="4.3" height="162.3" fill="url(#cb)"/>
<rect x="638" y="24.099999999999998" width="4.3" height="1.8" fill="#f4f4f4" stroke="#666" stroke-width="0.5"/>
<rect x="638" y="187.0" width="4.3" height="1.4" fill="#111"/>
<line x1="642.3" y1="26.5" x2="645.9" y2="26.5" stroke="#111" stroke-width="0.95"/>
<text x="648.6" y="29.3" font-size="7.2" fill="#000">10.10</text>
<line x1="642.3" y1="42.6" x2="645.9" y2="42.6" stroke="#111" stroke-width="0.95"/>
<text x="648.6" y="45.4" font-size="7.2" fill="#000">9.090</text>
<line x1="642.3" y1="58.7" x2="645.9" y2="58.7" stroke="#111" stroke-width="0.95"/>
<text x="648.6" y="61.5" font-size="7.2" fill="#000">8.080</text>
<line x1="642.3" y1="74.8" x2="645.9" y2="74.8" stroke="#111" stroke-width="0.95"/>
<text x="648.6" y="77.6" font-size="7.2" fill="#000">7.070</text>
<line x1="642.3" y1="90.9" x2="645.9" y2="90.9" stroke="#111" stroke-width="0.95"/>
<text x="648.6" y="93.7" font-size="7.2" fill="#000">6.060</text>
<line x1="642.3" y1="107.1" x2="645.9" y2="107.1" stroke="#111" stroke-width="0.95"/>
<text x="648.6" y="109.9" font-size="7.2" fill="#000">5.050</text>
<line x1="642.3" y1="123.2" x2="645.9" y2="123.2" stroke="#111" stroke-width="0.95"/>
<text x="648.6" y="126.0" font-size="7.2" fill="#000">4.040</text>
<line x1="642.3" y1="139.3" x2="645.9" y2="139.3" stroke="#111" stroke-width="0.95"/>
<text x="648.6" y="142.1" font-size="7.2" fill="#000">3.030</text>
<line x1="642.3" y1="155.4" x2="645.9" y2="155.4" stroke="#111" stroke-width="0.95"/>
<text x="648.6" y="158.2" font-size="7.2" fill="#000">2.020</text>
<line x1="642.3" y1="171.5" x2="645.9" y2="171.5" stroke="#111" stroke-width="0.95"/>
<text x="648.6" y="174.3" font-size="7.2" fill="#000">1.010</text>
<line x1="642.3" y1="187.6" x2="645.9" y2="187.6" stroke="#111" stroke-width="0.95"/>
<text x="648.6" y="190.4" font-size="7.2" fill="#000">0.000</text></g>
<g id="pC"><line x1="35.8" y1="457.5" x2="151.7" y2="417.8" stroke="#e6e6e6" stroke-width="0.5"/>
<line x1="151.7" y1="417.8" x2="281.5" y2="451.3" stroke="#e6e6e6" stroke-width="0.5"/>
<line x1="34.2" y1="421.5" x2="151.4" y2="386.8" stroke="#e6e6e6" stroke-width="0.5"/>
<line x1="151.4" y1="386.8" x2="283.1" y2="416.0" stroke="#e6e6e6" stroke-width="0.5"/>
<line x1="32.6" y1="385.0" x2="151.2" y2="355.6" stroke="#e6e6e6" stroke-width="0.5"/>
<line x1="151.2" y1="355.6" x2="284.8" y2="380.4" stroke="#e6e6e6" stroke-width="0.5"/>
<line x1="31.0" y1="347.4" x2="150.8" y2="323.3" stroke="#e6e6e6" stroke-width="0.5"/>
<line x1="150.8" y1="323.3" x2="286.6" y2="343.6" stroke="#e6e6e6" stroke-width="0.5"/>
<line x1="51.6" y1="483.8" x2="44.7" y2="314.2" stroke="#e6e6e6" stroke-width="0.5"/>
<line x1="51.6" y1="483.8" x2="184.4" y2="534.5" stroke="#e6e6e6" stroke-width="0.5"/>
<line x1="80.2" y1="472.7" x2="75.0" y2="309.3" stroke="#e6e6e6" stroke-width="0.5"/>
<line x1="80.2" y1="472.7" x2="211.7" y2="519.6" stroke="#e6e6e6" stroke-width="0.5"/>
<line x1="109.0" y1="461.6" x2="105.2" y2="304.4" stroke="#e6e6e6" stroke-width="0.5"/>
<line x1="109.0" y1="461.6" x2="239.0" y2="504.7" stroke="#e6e6e6" stroke-width="0.5"/>
<line x1="137.7" y1="450.5" x2="135.5" y2="299.5" stroke="#e6e6e6" stroke-width="0.5"/>
<line x1="137.7" y1="450.5" x2="266.3" y2="489.8" stroke="#e6e6e6" stroke-width="0.5"/>
<line x1="166.1" y1="449.1" x2="165.7" y2="298.8" stroke="#e6e6e6" stroke-width="0.5"/>
<line x1="166.1" y1="449.1" x2="51.9" y2="495.1" stroke="#e6e6e6" stroke-width="0.5"/>
<line x1="180.2" y1="453.2" x2="180.8" y2="300.7" stroke="#e6e6e6" stroke-width="0.5"/>
<line x1="180.2" y1="453.2" x2="66.6" y2="500.9" stroke="#e6e6e6" stroke-width="0.5"/>
<line x1="194.2" y1="457.3" x2="195.9" y2="302.5" stroke="#e6e6e6" stroke-width="0.5"/>
<line x1="194.2" y1="457.3" x2="81.3" y2="506.7" stroke="#e6e6e6" stroke-width="0.5"/>
<line x1="208.3" y1="461.4" x2="211.1" y2="304.3" stroke="#e6e6e6" stroke-width="0.5"/>
<line x1="208.3" y1="461.4" x2="95.9" y2="512.5" stroke="#e6e6e6" stroke-width="0.5"/>
<line x1="222.4" y1="465.5" x2="226.2" y2="306.1" stroke="#e6e6e6" stroke-width="0.5"/>
<line x1="222.4" y1="465.5" x2="110.6" y2="518.3" stroke="#e6e6e6" stroke-width="0.5"/>
<line x1="236.5" y1="469.6" x2="241.3" y2="308.0" stroke="#e6e6e6" stroke-width="0.5"/>
<line x1="236.5" y1="469.6" x2="125.3" y2="524.1" stroke="#e6e6e6" stroke-width="0.5"/>
<line x1="250.6" y1="473.7" x2="256.4" y2="309.8" stroke="#e6e6e6" stroke-width="0.5"/>
<line x1="250.6" y1="473.7" x2="140.0" y2="529.9" stroke="#e6e6e6" stroke-width="0.5"/>
<line x1="264.6" y1="477.8" x2="271.5" y2="311.6" stroke="#e6e6e6" stroke-width="0.5"/>
<line x1="264.6" y1="477.8" x2="154.7" y2="535.7" stroke="#e6e6e6" stroke-width="0.5"/>
<line x1="150.6" y1="297.0" x2="152.0" y2="445.0" stroke="#c8c8c8" stroke-width="0.7"/>
<line x1="37.2" y1="489.3" x2="152.0" y2="445.0" stroke="#555" stroke-width="0.7"/>
<line x1="152.0" y1="445.0" x2="280.0" y2="482.3" stroke="#555" stroke-width="0.7"/>
<line x1="29.6" y1="316.7" x2="150.6" y2="297.0" stroke="#444" stroke-width="0.7"/>
<line x1="150.6" y1="297.0" x2="288.0" y2="313.6" stroke="#444" stroke-width="0.7"/>
<line x1="288.0" y1="313.6" x2="280.0" y2="482.3" stroke="#444" stroke-width="0.7"/>
<clipPath id="fcC"><polygon points="51.5,486.8 171.0,531.0 261.1,486.8 145.0,450.0"/></clipPath>
<g clip-path="url(#fcC)"><g filter="url(#heat)"><rect x="0" y="0" width="685" height="558" fill="#000"/>
<ellipse cx="107" cy="475" rx="31.2" ry="12.3" transform="rotate(-18 107 475)" fill="rgb(33,33,33)"/>
<ellipse cx="100" cy="477.5" rx="7.8" ry="3.9" transform="rotate(0 100 477.5)" fill="rgb(33,33,33)"/>
<ellipse cx="114" cy="472" rx="7.8" ry="3.9" transform="rotate(0 114 472)" fill="rgb(33,33,33)"/>
<ellipse cx="228" cy="489" rx="26.0" ry="9.1" transform="rotate(-8 228 489)" fill="rgb(33,33,33)"/>
<ellipse cx="146.5" cy="477.5" rx="24.7" ry="11.1" transform="rotate(0 146.5 477.5)" fill="rgb(33,33,33)"/>
<ellipse cx="204" cy="491.6" rx="31.2" ry="11.1" transform="rotate(-3 204 491.6)" fill="rgb(33,33,33)"/>
<ellipse cx="164" cy="504.5" rx="24.7" ry="12.3" transform="rotate(-12 164 504.5)" fill="rgb(33,33,33)"/>
<ellipse cx="180" cy="497" rx="14.3" ry="7.8" transform="rotate(-20 180 497)" fill="rgb(33,33,33)"/>
<ellipse cx="222" cy="489" rx="30" ry="10" transform="rotate(-8 222 489)" fill="rgb(43,43,43)"/>
<ellipse cx="107" cy="475" rx="24.0" ry="9.5" transform="rotate(-18 107 475)" fill="rgb(56,56,56)"/>
<ellipse cx="100" cy="477.5" rx="6.0" ry="3.0" transform="rotate(0 100 477.5)" fill="rgb(56,56,56)"/>
<ellipse cx="114" cy="472" rx="6.0" ry="3.0" transform="rotate(0 114 472)" fill="rgb(56,56,56)"/>
<ellipse cx="228" cy="489" rx="20.0" ry="7.0" transform="rotate(-8 228 489)" fill="rgb(56,56,56)"/>
<ellipse cx="146.5" cy="477.5" rx="19.0" ry="8.5" transform="rotate(0 146.5 477.5)" fill="rgb(56,56,56)"/>
<ellipse cx="204" cy="491.6" rx="24.0" ry="8.5" transform="rotate(-3 204 491.6)" fill="rgb(56,56,56)"/>
<ellipse cx="164" cy="504.5" rx="19.0" ry="9.5" transform="rotate(-12 164 504.5)" fill="rgb(56,56,56)"/>
<ellipse cx="180" cy="497" rx="11.0" ry="6.0" transform="rotate(-20 180 497)" fill="rgb(56,56,56)"/>
<ellipse cx="100" cy="477.5" rx="5.1" ry="2.5" transform="rotate(0 100 477.5)" fill="rgb(91,91,91)"/>
<ellipse cx="114" cy="472" rx="5.1" ry="2.5" transform="rotate(0 114 472)" fill="rgb(91,91,91)"/>
<ellipse cx="146.5" cy="477.5" rx="16.1" ry="7.2" transform="rotate(0 146.5 477.5)" fill="rgb(91,91,91)"/>
<ellipse cx="204" cy="491.6" rx="20.4" ry="7.2" transform="rotate(-3 204 491.6)" fill="rgb(91,91,91)"/>
<ellipse cx="164" cy="504.5" rx="16.1" ry="8.1" transform="rotate(-12 164 504.5)" fill="rgb(91,91,91)"/>
<ellipse cx="180" cy="497" rx="9.3" ry="5.1" transform="rotate(-20 180 497)" fill="rgb(91,91,91)"/>
<ellipse cx="100" cy="477.5" rx="4.2" ry="2.1" transform="rotate(0 100 477.5)" fill="rgb(132,132,132)"/>
<ellipse cx="114" cy="472" rx="4.2" ry="2.1" transform="rotate(0 114 472)" fill="rgb(132,132,132)"/>
<ellipse cx="146.5" cy="477.5" rx="13.3" ry="5.9" transform="rotate(0 146.5 477.5)" fill="rgb(132,132,132)"/>
<ellipse cx="204" cy="491.6" rx="16.8" ry="5.9" transform="rotate(-3 204 491.6)" fill="rgb(132,132,132)"/>
<ellipse cx="164" cy="504.5" rx="13.3" ry="6.6" transform="rotate(-12 164 504.5)" fill="rgb(132,132,132)"/>
<ellipse cx="180" cy="497" rx="7.7" ry="4.2" transform="rotate(-20 180 497)" fill="rgb(132,132,132)"/>
<ellipse cx="146.5" cy="477.5" rx="10.6" ry="4.8" transform="rotate(0 146.5 477.5)" fill="rgb(168,168,168)"/>
<ellipse cx="204" cy="491.6" rx="13.4" ry="4.8" transform="rotate(-3 204 491.6)" fill="rgb(168,168,168)"/>
<ellipse cx="146.5" cy="477.5" rx="7.6" ry="3.4" transform="rotate(0 146.5 477.5)" fill="rgb(214,214,214)"/>
<ellipse cx="204" cy="491.6" rx="9.6" ry="3.4" transform="rotate(-3 204 491.6)" fill="rgb(214,214,214)"/>
<ellipse cx="146.5" cy="477.5" rx="4.2" ry="1.9" transform="rotate(0 146.5 477.5)" fill="rgb(249,249,249)"/>
<ellipse cx="204" cy="491.6" rx="5.3" ry="1.9" transform="rotate(-3 204 491.6)" fill="rgb(249,249,249)"/>
</g>
<line x1="51.6" y1="483.8" x2="184.4" y2="534.5" stroke="#ffb0a0" stroke-opacity="0.16" stroke-width="0.7" stroke-dasharray="2 1.5"/>
<line x1="80.2" y1="472.7" x2="211.7" y2="519.6" stroke="#ffb0a0" stroke-opacity="0.16" stroke-width="0.7" stroke-dasharray="2 1.5"/>
<line x1="109.0" y1="461.6" x2="239.0" y2="504.7" stroke="#ffb0a0" stroke-opacity="0.16" stroke-width="0.7" stroke-dasharray="2 1.5"/>
<line x1="137.7" y1="450.5" x2="266.3" y2="489.8" stroke="#ffb0a0" stroke-opacity="0.16" stroke-width="0.7" stroke-dasharray="2 1.5"/>
<line x1="166.1" y1="449.1" x2="51.9" y2="495.1" stroke="#ffb0a0" stroke-opacity="0.16" stroke-width="0.7" stroke-dasharray="2 1.5"/>
<line x1="180.2" y1="453.2" x2="66.6" y2="500.9" stroke="#ffb0a0" stroke-opacity="0.16" stroke-width="0.7" stroke-dasharray="2 1.5"/>
<line x1="194.2" y1="457.3" x2="81.3" y2="506.7" stroke="#ffb0a0" stroke-opacity="0.16" stroke-width="0.7" stroke-dasharray="2 1.5"/>
<line x1="208.3" y1="461.4" x2="95.9" y2="512.5" stroke="#ffb0a0" stroke-opacity="0.16" stroke-width="0.7" stroke-dasharray="2 1.5"/>
<line x1="222.4" y1="465.5" x2="110.6" y2="518.3" stroke="#ffb0a0" stroke-opacity="0.16" stroke-width="0.7" stroke-dasharray="2 1.5"/>
<line x1="236.5" y1="469.6" x2="125.3" y2="524.1" stroke="#ffb0a0" stroke-opacity="0.16" stroke-width="0.7" stroke-dasharray="2 1.5"/>
<line x1="250.6" y1="473.7" x2="140.0" y2="529.9" stroke="#ffb0a0" stroke-opacity="0.16" stroke-width="0.7" stroke-dasharray="2 1.5"/>
<line x1="264.6" y1="477.8" x2="154.7" y2="535.7" stroke="#ffb0a0" stroke-opacity="0.16" stroke-width="0.7" stroke-dasharray="2 1.5"/>
</g>
<clipPath id="scC0"><polygon points="70.4,319.0 175.0,335.1 259.9,316.7 257.4,339.3 254.9,341.8 252.3,366.9 248.6,374.4 247.4,395.0 246.4,398.8 244.5,415.9 241.7,400.7 239.8,410.2 237.0,419.7 234.1,425.4 231.3,431.0 229.4,438.6 227.5,453.8 224.6,438.6 223.7,450.0 221.8,423.5 219.9,442.4 218.0,453.8 214.2,459.5 212.3,471.0 210.4,478.5 208.5,484.2 205.6,484.2 203.2,478.5 200.9,486.0 197.1,474.7 194.3,471.0 191.8,452.0 190.5,442.4 188.6,452.0 186.1,442.4 183.8,446.2 181.9,436.7 179.0,444.3 176.6,452.0 175.9,471.0 172.4,455.7 170.5,465.2 168.3,459.5 166.7,474.7 163.9,473.7 160.1,471.0 156.3,469.0 152.5,467.0 150.6,474.7 149.3,471.0 147.4,475.6 145.9,471.0 144.0,476.6 142.1,471.0 139.2,455.7 137.3,442.4 134.5,433.0 131.7,418.2 129.5,405.3 128.4,390.3 127.4,371.0 125.2,364.5 123.0,377.4 122.0,396.7 120.5,386.0 118.8,407.5 116.6,429.0 113.4,420.4 111.2,416.0 109.1,401.0 106.9,403.2 104.1,422.5 101.6,420.4 99.4,409.6 97.3,398.9 95.1,405.3 91.9,390.3 89.7,401.0 87.6,386.0 85.4,392.4 83.3,377.4 80.5,364.5 79.0,347.3 76.8,328.0 75.3,324.7 74.0,336.5 73.0,328.0 71.9,334.4"/></clipPath>
<g clip-path="url(#scC0)">
<rect x="70" y="315.7" width="190" height="171.3" fill="#f40000"/>
<rect x="70" y="379.6" width="1.1" height="82.2" fill="url(#rb)"/>
<rect x="70" y="461.8" width="1.1" height="40" fill="#500058"/>
<rect x="70" y="318.2" width="1.1" height="18.0" fill="url(#dk)"/>
<rect x="70" y="316.7" width="1.1" height="145.1" fill="#000" fill-opacity="0.044"/>
<rect x="71" y="379.5" width="1.1" height="82.2" fill="url(#rb)"/>
<rect x="71" y="461.7" width="1.1" height="40" fill="#500058"/>
<rect x="71" y="318.4" width="1.1" height="19.0" fill="url(#dk)"/>
<rect x="71" y="316.7" width="1.1" height="145.0" fill="#000" fill-opacity="0.012"/>
<rect x="72" y="379.8" width="1.1" height="82.1" fill="url(#rb)"/>
<rect x="72" y="461.9" width="1.1" height="40" fill="#500058"/>
<rect x="72" y="318.5" width="1.1" height="21.0" fill="url(#dk)"/>
<rect x="72" y="316.7" width="1.1" height="145.2" fill="#000" fill-opacity="0.055"/>
<rect x="73" y="379.8" width="1.1" height="82.1" fill="url(#rb)"/>
<rect x="73" y="461.9" width="1.1" height="40" fill="#500058"/>
<rect x="73" y="318.7" width="1.1" height="18.4" fill="url(#dk)"/>
<rect x="73" y="316.7" width="1.1" height="145.2" fill="#000" fill-opacity="0.055"/>
<rect x="74" y="379.6" width="1.1" height="82.2" fill="url(#rb)"/>
<rect x="74" y="461.8" width="1.1" height="40" fill="#500058"/>
<rect x="74" y="318.9" width="1.1" height="16.2" fill="url(#dk)"/>
<rect x="74" y="316.7" width="1.1" height="145.1" fill="#000" fill-opacity="0.072"/>
<rect x="75" y="380.0" width="1.1" height="82.0" fill="url(#rb)"/>
<rect x="75" y="462.0" width="1.1" height="40" fill="#500058"/>
<rect x="75" y="319.0" width="1.1" height="19.6" fill="url(#dk)"/>
<rect x="75" y="316.7" width="1.1" height="145.3" fill="#000" fill-opacity="0.034"/>
<rect x="76" y="381.3" width="1.1" height="81.5" fill="url(#rb)"/>
<rect x="76" y="462.8" width="1.1" height="40" fill="#500058"/>
<rect x="76" y="319.2" width="1.1" height="19.2" fill="url(#dk)"/>
<rect x="76" y="371.3" width="1.1" height="81.5" fill="#fff" fill-opacity="0.010"/>
<rect x="77" y="380.1" width="1.1" height="82.0" fill="url(#rb)"/>
<rect x="77" y="462.1" width="1.1" height="40" fill="#500058"/>
<rect x="77" y="319.3" width="1.1" height="19.6" fill="url(#dk)"/>
<rect x="78" y="381.5" width="1.1" height="81.5" fill="url(#rb)"/>
<rect x="78" y="463.0" width="1.1" height="40" fill="#500058"/>
<rect x="78" y="319.5" width="1.1" height="17.2" fill="url(#dk)"/>
<rect x="78" y="316.7" width="1.1" height="146.3" fill="#000" fill-opacity="0.015"/>
<rect x="79" y="381.1" width="1.1" height="81.6" fill="url(#rb)"/>
<rect x="79" y="462.7" width="1.1" height="40" fill="#500058"/>
<rect x="79" y="319.6" width="1.1" height="18.5" fill="url(#dk)"/>
<rect x="79" y="371.1" width="1.1" height="81.6" fill="#fff" fill-opacity="0.020"/>
<rect x="80" y="380.7" width="1.1" height="81.8" fill="url(#rb)"/>
<rect x="80" y="462.5" width="1.1" height="40" fill="#500058"/>
<rect x="80" y="319.8" width="1.1" height="19.1" fill="url(#dk)"/>
<rect x="80" y="316.7" width="1.1" height="145.8" fill="#000" fill-opacity="0.026"/>
<rect x="81" y="380.2" width="1.1" height="82.0" fill="url(#rb)"/>
<rect x="81" y="462.2" width="1.1" height="40" fill="#500058"/>
<rect x="81" y="320.0" width="1.1" height="19.3" fill="url(#dk)"/>
<rect x="81" y="316.7" width="1.1" height="145.5" fill="#000" fill-opacity="0.045"/>
<rect x="82" y="381.9" width="1.1" height="81.3" fill="url(#rb)"/>
<rect x="82" y="463.2" width="1.1" height="40" fill="#500058"/>
<rect x="82" y="320.1" width="1.1" height="17.8" fill="url(#dk)"/>
<rect x="83" y="382.8" width="1.1" height="81.0" fill="url(#rb)"/>
<rect x="83" y="463.8" width="1.1" height="40" fill="#500058"/>
<rect x="83" y="320.3" width="1.1" height="21.4" fill="url(#dk)"/>
<rect x="84" y="381.3" width="1.1" height="81.6" fill="url(#rb)"/>
<rect x="84" y="462.9" width="1.1" height="40" fill="#500058"/>
<rect x="84" y="320.4" width="1.1" height="22.7" fill="url(#dk)"/>
<rect x="84" y="371.3" width="1.1" height="81.6" fill="#fff" fill-opacity="0.012"/>
<rect x="85" y="382.5" width="1.1" height="81.1" fill="url(#rb)"/>
<rect x="85" y="463.6" width="1.1" height="40" fill="#500058"/>
<rect x="85" y="320.6" width="1.1" height="21.7" fill="url(#dk)"/>
<rect x="85" y="316.7" width="1.1" height="146.9" fill="#000" fill-opacity="0.022"/>
<rect x="86" y="381.5" width="1.1" height="81.5" fill="url(#rb)"/>
<rect x="86" y="463.0" width="1.1" height="40" fill="#500058"/>
<rect x="86" y="320.7" width="1.1" height="22.2" fill="url(#dk)"/>
<rect x="86" y="371.5" width="1.1" height="81.5" fill="#fff" fill-opacity="0.011"/>
<rect x="87" y="381.6" width="1.1" height="81.5" fill="url(#rb)"/>
<rect x="87" y="463.1" width="1.1" height="40" fill="#500058"/>
<rect x="87" y="320.9" width="1.1" height="22.7" fill="url(#dk)"/>
<rect x="87" y="316.7" width="1.1" height="146.4" fill="#000" fill-opacity="0.024"/>
<rect x="88" y="381.2" width="1.1" height="81.6" fill="url(#rb)"/>
<rect x="88" y="462.9" width="1.1" height="40" fill="#500058"/>
<rect x="88" y="321.1" width="1.1" height="19.6" fill="url(#dk)"/>
<rect x="89" y="381.8" width="1.1" height="81.4" fill="url(#rb)"/>
<rect x="89" y="463.3" width="1.1" height="40" fill="#500058"/>
<rect x="89" y="321.2" width="1.1" height="19.1" fill="url(#dk)"/>
<rect x="89" y="371.8" width="1.1" height="81.4" fill="#fff" fill-opacity="0.027"/>
<rect x="90" y="381.6" width="1.1" height="81.5" fill="url(#rb)"/>
<rect x="90" y="463.1" width="1.1" height="40" fill="#500058"/>
<rect x="90" y="321.4" width="1.1" height="20.7" fill="url(#dk)"/>
<rect x="90" y="316.7" width="1.1" height="146.4" fill="#000" fill-opacity="0.018"/>
<rect x="91" y="381.1" width="1.1" height="81.7" fill="url(#rb)"/>
<rect x="91" y="462.8" width="1.1" height="40" fill="#500058"/>
<rect x="91" y="321.5" width="1.1" height="20.6" fill="url(#dk)"/>
<rect x="91" y="316.7" width="1.1" height="146.1" fill="#000" fill-opacity="0.036"/>
<rect x="92" y="380.9" width="1.1" height="81.8" fill="url(#rb)"/>
<rect x="92" y="462.7" width="1.1" height="40" fill="#500058"/>
<rect x="92" y="321.7" width="1.1" height="22.1" fill="url(#dk)"/>
<rect x="92" y="370.9" width="1.1" height="81.8" fill="#fff" fill-opacity="0.012"/>
<rect x="93" y="382.1" width="1.1" height="81.4" fill="url(#rb)"/>
<rect x="93" y="463.4" width="1.1" height="40" fill="#500058"/>
<rect x="93" y="321.8" width="1.1" height="21.2" fill="url(#dk)"/>
<rect x="94" y="382.1" width="1.1" height="81.4" fill="url(#rb)"/>
<rect x="94" y="463.4" width="1.1" height="40" fill="#500058"/>
<rect x="94" y="322.0" width="1.1" height="20.1" fill="url(#dk)"/>
<rect x="95" y="382.4" width="1.1" height="81.2" fill="url(#rb)"/>
<rect x="95" y="463.6" width="1.1" height="40" fill="#500058"/>
<rect x="95" y="322.1" width="1.1" height="21.0" fill="url(#dk)"/>
<rect x="96" y="382.7" width="1.1" height="81.1" fill="url(#rb)"/>
<rect x="96" y="463.8" width="1.1" height="40" fill="#500058"/>
<rect x="96" y="322.3" width="1.1" height="17.8" fill="url(#dk)"/>
<rect x="96" y="316.7" width="1.1" height="147.1" fill="#000" fill-opacity="0.012"/>
<rect x="97" y="382.9" width="1.1" height="81.0" fill="url(#rb)"/>
<rect x="97" y="464.0" width="1.1" height="40" fill="#500058"/>
<rect x="97" y="322.5" width="1.1" height="17.6" fill="url(#dk)"/>
<rect x="97" y="316.7" width="1.1" height="147.3" fill="#000" fill-opacity="0.032"/>
<rect x="98" y="383.8" width="1.1" height="80.7" fill="url(#rb)"/>
<rect x="98" y="464.5" width="1.1" height="40" fill="#500058"/>
<rect x="98" y="322.6" width="1.1" height="18.8" fill="url(#dk)"/>
<rect x="98" y="373.8" width="1.1" height="80.7" fill="#fff" fill-opacity="0.009"/>
<rect x="99" y="383.6" width="1.1" height="80.8" fill="url(#rb)"/>
<rect x="99" y="464.4" width="1.1" height="40" fill="#500058"/>
<rect x="99" y="322.8" width="1.1" height="17.3" fill="url(#dk)"/>
<rect x="99" y="373.6" width="1.1" height="80.8" fill="#fff" fill-opacity="0.034"/>
<rect x="100" y="383.5" width="1.1" height="80.8" fill="url(#rb)"/>
<rect x="100" y="464.3" width="1.1" height="40" fill="#500058"/>
<rect x="100" y="322.9" width="1.1" height="16.6" fill="url(#dk)"/>
<rect x="100" y="373.5" width="1.1" height="80.8" fill="#fff" fill-opacity="0.025"/>
<rect x="101" y="383.6" width="1.1" height="80.8" fill="url(#rb)"/>
<rect x="101" y="464.4" width="1.1" height="40" fill="#500058"/>
<rect x="101" y="323.1" width="1.1" height="16.0" fill="url(#dk)"/>
<rect x="102" y="382.8" width="1.1" height="81.1" fill="url(#rb)"/>
<rect x="102" y="463.9" width="1.1" height="40" fill="#500058"/>
<rect x="102" y="323.2" width="1.1" height="19.7" fill="url(#dk)"/>
<rect x="102" y="316.7" width="1.1" height="147.2" fill="#000" fill-opacity="0.023"/>
<rect x="103" y="383.4" width="1.1" height="80.9" fill="url(#rb)"/>
<rect x="103" y="464.3" width="1.1" height="40" fill="#500058"/>
<rect x="103" y="323.4" width="1.1" height="17.5" fill="url(#dk)"/>
<rect x="103" y="316.7" width="1.1" height="147.6" fill="#000" fill-opacity="0.014"/>
<rect x="104" y="383.5" width="1.1" height="80.9" fill="url(#rb)"/>
<rect x="104" y="464.4" width="1.1" height="40" fill="#500058"/>
<rect x="104" y="323.6" width="1.1" height="21.7" fill="url(#dk)"/>
<rect x="104" y="373.5" width="1.1" height="80.9" fill="#fff" fill-opacity="0.021"/>
<rect x="105" y="384.6" width="1.1" height="80.4" fill="url(#rb)"/>
<rect x="105" y="465.1" width="1.1" height="40" fill="#500058"/>
<rect x="105" y="323.7" width="1.1" height="23.9" fill="url(#dk)"/>
<rect x="106" y="385.2" width="1.1" height="80.2" fill="url(#rb)"/>
<rect x="106" y="465.4" width="1.1" height="40" fill="#500058"/>
<rect x="106" y="323.9" width="1.1" height="20.2" fill="url(#dk)"/>
<rect x="106" y="316.7" width="1.1" height="148.7" fill="#000" fill-opacity="0.050"/>
<rect x="107" y="384.8" width="1.1" height="80.4" fill="url(#rb)"/>
<rect x="107" y="465.2" width="1.1" height="40" fill="#500058"/>
<rect x="107" y="324.0" width="1.1" height="23.0" fill="url(#dk)"/>
<rect x="107" y="316.7" width="1.1" height="148.5" fill="#000" fill-opacity="0.070"/>
<rect x="108" y="383.9" width="1.1" height="80.7" fill="url(#rb)"/>
<rect x="108" y="464.7" width="1.1" height="40" fill="#500058"/>
<rect x="108" y="324.2" width="1.1" height="23.4" fill="url(#dk)"/>
<rect x="108" y="316.7" width="1.1" height="148.0" fill="#000" fill-opacity="0.083"/>
<rect x="109" y="383.3" width="1.1" height="81.0" fill="url(#rb)"/>
<rect x="109" y="464.3" width="1.1" height="40" fill="#500058"/>
<rect x="109" y="324.3" width="1.1" height="21.0" fill="url(#dk)"/>
<rect x="109" y="316.7" width="1.1" height="147.6" fill="#000" fill-opacity="0.075"/>
<rect x="110" y="383.3" width="1.1" height="81.0" fill="url(#rb)"/>
<rect x="110" y="464.3" width="1.1" height="40" fill="#500058"/>
<rect x="110" y="324.5" width="1.1" height="23.1" fill="url(#dk)"/>
<rect x="110" y="316.7" width="1.1" height="147.6" fill="#000" fill-opacity="0.023"/>
<rect x="111" y="384.8" width="1.1" height="80.4" fill="url(#rb)"/>
<rect x="111" y="465.2" width="1.1" height="40" fill="#500058"/>
<rect x="111" y="324.7" width="1.1" height="19.7" fill="url(#dk)"/>
<rect x="111" y="316.7" width="1.1" height="148.5" fill="#000" fill-opacity="0.014"/>
<rect x="112" y="385.8" width="1.1" height="80.0" fill="url(#rb)"/>
<rect x="112" y="465.8" width="1.1" height="40" fill="#500058"/>
<rect x="112" y="324.8" width="1.1" height="18.6" fill="url(#dk)"/>
<rect x="112" y="375.8" width="1.1" height="80.0" fill="#fff" fill-opacity="0.011"/>
<rect x="113" y="385.5" width="1.1" height="80.1" fill="url(#rb)"/>
<rect x="113" y="465.6" width="1.1" height="40" fill="#500058"/>
<rect x="113" y="325.0" width="1.1" height="18.7" fill="url(#dk)"/>
<rect x="113" y="375.5" width="1.1" height="80.1" fill="#fff" fill-opacity="0.042"/>
<rect x="114" y="384.7" width="1.1" height="80.5" fill="url(#rb)"/>
<rect x="114" y="465.1" width="1.1" height="40" fill="#500058"/>
<rect x="114" y="325.1" width="1.1" height="17.9" fill="url(#dk)"/>
<rect x="114" y="316.7" width="1.1" height="148.4" fill="#000" fill-opacity="0.010"/>
<rect x="115" y="385.4" width="1.1" height="80.2" fill="url(#rb)"/>
<rect x="115" y="465.6" width="1.1" height="40" fill="#500058"/>
<rect x="115" y="325.3" width="1.1" height="21.8" fill="url(#dk)"/>
<rect x="115" y="375.4" width="1.1" height="80.2" fill="#fff" fill-opacity="0.021"/>
<rect x="116" y="386.1" width="1.1" height="79.9" fill="url(#rb)"/>
<rect x="116" y="466.0" width="1.1" height="40" fill="#500058"/>
<rect x="116" y="325.4" width="1.1" height="19.1" fill="url(#dk)"/>
<rect x="116" y="376.1" width="1.1" height="79.9" fill="#fff" fill-opacity="0.010"/>
<rect x="117" y="386.1" width="1.1" height="79.9" fill="url(#rb)"/>
<rect x="117" y="466.0" width="1.1" height="40" fill="#500058"/>
<rect x="117" y="325.6" width="1.1" height="19.3" fill="url(#dk)"/>
<rect x="117" y="316.7" width="1.1" height="149.3" fill="#000" fill-opacity="0.028"/>
<rect x="118" y="386.0" width="1.1" height="80.0" fill="url(#rb)"/>
<rect x="118" y="466.0" width="1.1" height="40" fill="#500058"/>
<rect x="118" y="325.7" width="1.1" height="20.7" fill="url(#dk)"/>
<rect x="118" y="316.7" width="1.1" height="149.3" fill="#000" fill-opacity="0.054"/>
<rect x="119" y="385.1" width="1.1" height="80.4" fill="url(#rb)"/>
<rect x="119" y="465.4" width="1.1" height="40" fill="#500058"/>
<rect x="119" y="325.9" width="1.1" height="23.8" fill="url(#dk)"/>
<rect x="119" y="316.7" width="1.1" height="148.7" fill="#000" fill-opacity="0.045"/>
<rect x="120" y="385.3" width="1.1" height="80.3" fill="url(#rb)"/>
<rect x="120" y="465.6" width="1.1" height="40" fill="#500058"/>
<rect x="120" y="326.1" width="1.1" height="24.5" fill="url(#dk)"/>
<rect x="121" y="386.7" width="1.1" height="79.7" fill="url(#rb)"/>
<rect x="121" y="466.4" width="1.1" height="40" fill="#500058"/>
<rect x="121" y="326.2" width="1.1" height="24.1" fill="url(#dk)"/>
<rect x="121" y="376.7" width="1.1" height="79.7" fill="#fff" fill-opacity="0.009"/>
<rect x="122" y="386.4" width="1.1" height="81.2" fill="url(#rb)"/>
<rect x="122" y="467.6" width="1.1" height="40" fill="#500058"/>
<rect x="122" y="326.4" width="1.1" height="23.5" fill="url(#dk)"/>
<rect x="122" y="376.4" width="1.1" height="81.2" fill="#fff" fill-opacity="0.030"/>
<rect x="123" y="385.3" width="1.1" height="84.3" fill="url(#rb)"/>
<rect x="123" y="469.6" width="1.1" height="40" fill="#500058"/>
<rect x="123" y="326.5" width="1.1" height="20.9" fill="url(#dk)"/>
<rect x="124" y="383.1" width="1.1" height="87.9" fill="url(#rb)"/>
<rect x="124" y="471.0" width="1.1" height="40" fill="#500058"/>
<rect x="124" y="326.7" width="1.1" height="24.3" fill="url(#dk)"/>
<rect x="124" y="316.7" width="1.1" height="154.3" fill="#000" fill-opacity="0.051"/>
<rect x="125" y="382.1" width="1.1" height="91.0" fill="url(#rb)"/>
<rect x="125" y="473.1" width="1.1" height="40" fill="#500058"/>
<rect x="125" y="326.8" width="1.1" height="26.5" fill="url(#dk)"/>
<rect x="125" y="316.7" width="1.1" height="156.4" fill="#000" fill-opacity="0.013"/>
<rect x="126" y="379.7" width="1.1" height="94.7" fill="url(#rb)"/>
<rect x="126" y="474.4" width="1.1" height="40" fill="#500058"/>
<rect x="126" y="327.0" width="1.1" height="23.1" fill="url(#dk)"/>
<rect x="126" y="369.7" width="1.1" height="94.7" fill="#fff" fill-opacity="0.021"/>
<rect x="127" y="379.3" width="1.1" height="97.5" fill="url(#rb)"/>
<rect x="127" y="476.9" width="1.1" height="40" fill="#500058"/>
<rect x="127" y="327.2" width="1.1" height="25.0" fill="url(#dk)"/>
<rect x="127" y="369.3" width="1.1" height="97.5" fill="#fff" fill-opacity="0.011"/>
<rect x="128" y="379.9" width="1.1" height="98.6" fill="url(#rb)"/>
<rect x="128" y="478.5" width="1.1" height="40" fill="#500058"/>
<rect x="128" y="327.3" width="1.1" height="23.9" fill="url(#dk)"/>
<rect x="128" y="369.9" width="1.1" height="98.6" fill="#fff" fill-opacity="0.028"/>
<rect x="129" y="380.1" width="1.1" height="98.5" fill="url(#rb)"/>
<rect x="129" y="478.6" width="1.1" height="40" fill="#500058"/>
<rect x="129" y="327.5" width="1.1" height="22.7" fill="url(#dk)"/>
<rect x="129" y="370.1" width="1.1" height="98.5" fill="#fff" fill-opacity="0.055"/>
<rect x="130" y="379.7" width="1.1" height="98.6" fill="url(#rb)"/>
<rect x="130" y="478.2" width="1.1" height="40" fill="#500058"/>
<rect x="130" y="327.6" width="1.1" height="23.3" fill="url(#dk)"/>
<rect x="130" y="369.7" width="1.1" height="98.6" fill="#fff" fill-opacity="0.044"/>
<rect x="131" y="379.3" width="1.1" height="98.6" fill="url(#rb)"/>
<rect x="131" y="478.0" width="1.1" height="40" fill="#500058"/>
<rect x="131" y="327.8" width="1.1" height="28.1" fill="url(#dk)"/>
<rect x="131" y="369.3" width="1.1" height="98.6" fill="#fff" fill-opacity="0.020"/>
<rect x="132" y="379.2" width="1.1" height="98.6" fill="url(#rb)"/>
<rect x="132" y="477.8" width="1.1" height="40" fill="#500058"/>
<rect x="132" y="327.9" width="1.1" height="31.2" fill="url(#dk)"/>
<rect x="132" y="369.2" width="1.1" height="98.6" fill="#fff" fill-opacity="0.014"/>
<rect x="133" y="379.2" width="1.1" height="98.6" fill="url(#rb)"/>
<rect x="133" y="477.7" width="1.1" height="40" fill="#500058"/>
<rect x="133" y="328.1" width="1.1" height="36.0" fill="url(#dk)"/>
<rect x="133" y="369.2" width="1.1" height="98.6" fill="#fff" fill-opacity="0.028"/>
<rect x="134" y="379.3" width="1.1" height="98.4" fill="url(#rb)"/>
<rect x="134" y="477.7" width="1.1" height="40" fill="#500058"/>
<rect x="134" y="328.3" width="1.1" height="30.6" fill="url(#dk)"/>
<rect x="135" y="381.1" width="1.1" height="97.7" fill="url(#rb)"/>
<rect x="135" y="478.7" width="1.1" height="40" fill="#500058"/>
<rect x="135" y="328.4" width="1.1" height="34.9" fill="url(#dk)"/>
<rect x="135" y="371.1" width="1.1" height="97.7" fill="#fff" fill-opacity="0.011"/>
<rect x="136" y="380.8" width="1.1" height="97.7" fill="url(#rb)"/>
<rect x="136" y="478.5" width="1.1" height="40" fill="#500058"/>
<rect x="136" y="328.6" width="1.1" height="29.1" fill="url(#dk)"/>
<rect x="137" y="381.4" width="1.1" height="97.4" fill="url(#rb)"/>
<rect x="137" y="478.8" width="1.1" height="40" fill="#500058"/>
<rect x="137" y="328.7" width="1.1" height="29.9" fill="url(#dk)"/>
<rect x="137" y="316.7" width="1.1" height="162.1" fill="#000" fill-opacity="0.017"/>
<rect x="138" y="381.6" width="1.1" height="97.2" fill="url(#rb)"/>
<rect x="138" y="478.8" width="1.1" height="40" fill="#500058"/>
<rect x="138" y="328.9" width="1.1" height="36.1" fill="url(#dk)"/>
<rect x="138" y="316.7" width="1.1" height="162.1" fill="#000" fill-opacity="0.033"/>
<rect x="139" y="381.4" width="1.1" height="97.3" fill="url(#rb)"/>
<rect x="139" y="478.6" width="1.1" height="40" fill="#500058"/>
<rect x="139" y="329.0" width="1.1" height="38.7" fill="url(#dk)"/>
<rect x="139" y="371.4" width="1.1" height="97.3" fill="#fff" fill-opacity="0.019"/>
<rect x="140" y="382.0" width="1.1" height="96.9" fill="url(#rb)"/>
<rect x="140" y="478.9" width="1.1" height="40" fill="#500058"/>
<rect x="140" y="329.2" width="1.1" height="34.9" fill="url(#dk)"/>
<rect x="140" y="372.0" width="1.1" height="96.9" fill="#fff" fill-opacity="0.032"/>
<rect x="141" y="381.4" width="1.1" height="97.1" fill="url(#rb)"/>
<rect x="141" y="478.5" width="1.1" height="40" fill="#500058"/>
<rect x="141" y="329.4" width="1.1" height="37.0" fill="url(#dk)"/>
<rect x="141" y="371.4" width="1.1" height="97.1" fill="#fff" fill-opacity="0.056"/>
<rect x="142" y="382.3" width="1.1" height="96.7" fill="url(#rb)"/>
<rect x="142" y="479.0" width="1.1" height="40" fill="#500058"/>
<rect x="142" y="329.5" width="1.1" height="39.6" fill="url(#dk)"/>
<rect x="142" y="372.3" width="1.1" height="96.7" fill="#fff" fill-opacity="0.061"/>
<rect x="143" y="382.2" width="1.1" height="96.7" fill="url(#rb)"/>
<rect x="143" y="478.8" width="1.1" height="40" fill="#500058"/>
<rect x="143" y="329.7" width="1.1" height="37.4" fill="url(#dk)"/>
<rect x="143" y="372.2" width="1.1" height="96.7" fill="#fff" fill-opacity="0.036"/>
<rect x="144" y="383.2" width="1.1" height="96.2" fill="url(#rb)"/>
<rect x="144" y="479.4" width="1.1" height="40" fill="#500058"/>
<rect x="144" y="329.8" width="1.1" height="38.6" fill="url(#dk)"/>
<rect x="144" y="373.2" width="1.1" height="96.2" fill="#fff" fill-opacity="0.047"/>
<rect x="145" y="383.1" width="1.1" height="96.1" fill="url(#rb)"/>
<rect x="145" y="479.2" width="1.1" height="40" fill="#500058"/>
<rect x="145" y="330.0" width="1.1" height="34.0" fill="url(#dk)"/>
<rect x="145" y="373.1" width="1.1" height="96.1" fill="#fff" fill-opacity="0.063"/>
<rect x="146" y="384.4" width="1.1" height="95.5" fill="url(#rb)"/>
<rect x="146" y="480.0" width="1.1" height="40" fill="#500058"/>
<rect x="146" y="330.1" width="1.1" height="36.8" fill="url(#dk)"/>
<rect x="146" y="374.4" width="1.1" height="95.5" fill="#fff" fill-opacity="0.021"/>
<rect x="147" y="383.3" width="1.1" height="95.9" fill="url(#rb)"/>
<rect x="147" y="479.2" width="1.1" height="40" fill="#500058"/>
<rect x="147" y="330.3" width="1.1" height="38.8" fill="url(#dk)"/>
<rect x="148" y="383.9" width="1.1" height="95.6" fill="url(#rb)"/>
<rect x="148" y="479.5" width="1.1" height="40" fill="#500058"/>
<rect x="148" y="330.4" width="1.1" height="38.7" fill="url(#dk)"/>
<rect x="149" y="383.8" width="1.1" height="95.6" fill="url(#rb)"/>
<rect x="149" y="479.4" width="1.1" height="40" fill="#500058"/>
<rect x="149" y="330.6" width="1.1" height="32.1" fill="url(#dk)"/>
<rect x="149" y="373.8" width="1.1" height="95.6" fill="#fff" fill-opacity="0.021"/>
<rect x="150" y="383.4" width="1.1" height="95.7" fill="url(#rb)"/>
<rect x="150" y="479.1" width="1.1" height="40" fill="#500058"/>
<rect x="150" y="330.8" width="1.1" height="31.6" fill="url(#dk)"/>
<rect x="151" y="388.7" width="1.1" height="108.1" fill="url(#rb)"/>
<rect x="151" y="496.8" width="1.1" height="40" fill="#500058"/>
<rect x="151" y="330.9" width="1.1" height="36.6" fill="url(#dk)"/>
<rect x="151" y="316.7" width="1.1" height="180.1" fill="#000" fill-opacity="0.025"/>
<rect x="152" y="392.4" width="1.1" height="120.9" fill="url(#rb)"/>
<rect x="152" y="513.3" width="1.1" height="40" fill="#500058"/>
<rect x="152" y="331.1" width="1.1" height="36.0" fill="url(#dk)"/>
<rect x="153" y="393.5" width="1.1" height="119.8" fill="url(#rb)"/>
<rect x="153" y="513.3" width="1.1" height="40" fill="#500058"/>
<rect x="153" y="331.2" width="1.1" height="35.4" fill="url(#dk)"/>
<rect x="153" y="383.5" width="1.1" height="119.8" fill="#fff" fill-opacity="0.014"/>
<rect x="154" y="393.8" width="1.1" height="119.0" fill="url(#rb)"/>
<rect x="154" y="512.8" width="1.1" height="40" fill="#500058"/>
<rect x="154" y="331.4" width="1.1" height="39.7" fill="url(#dk)"/>
<rect x="154" y="383.8" width="1.1" height="119.0" fill="#fff" fill-opacity="0.030"/>
<rect x="155" y="394.5" width="1.1" height="118.1" fill="url(#rb)"/>
<rect x="155" y="512.6" width="1.1" height="40" fill="#500058"/>
<rect x="155" y="331.5" width="1.1" height="31.9" fill="url(#dk)"/>
<rect x="155" y="384.5" width="1.1" height="118.1" fill="#fff" fill-opacity="0.036"/>
<rect x="156" y="393.5" width="1.1" height="117.8" fill="url(#rb)"/>
<rect x="156" y="511.3" width="1.1" height="40" fill="#500058"/>
<rect x="156" y="331.7" width="1.1" height="36.0" fill="url(#dk)"/>
<rect x="156" y="316.7" width="1.1" height="194.6" fill="#000" fill-opacity="0.015"/>
<rect x="157" y="394.2" width="1.1" height="116.9" fill="url(#rb)"/>
<rect x="157" y="511.1" width="1.1" height="40" fill="#500058"/>
<rect x="157" y="331.9" width="1.1" height="33.5" fill="url(#dk)"/>
<rect x="157" y="316.7" width="1.1" height="194.4" fill="#000" fill-opacity="0.046"/>
<rect x="158" y="393.7" width="1.1" height="116.4" fill="url(#rb)"/>
<rect x="158" y="510.1" width="1.1" height="40" fill="#500058"/>
<rect x="158" y="332.0" width="1.1" height="31.5" fill="url(#dk)"/>
<rect x="158" y="316.7" width="1.1" height="193.4" fill="#000" fill-opacity="0.067"/>
<rect x="159" y="394.2" width="1.1" height="115.6" fill="url(#rb)"/>
<rect x="159" y="509.8" width="1.1" height="40" fill="#500058"/>
<rect x="159" y="332.2" width="1.1" height="35.4" fill="url(#dk)"/>
<rect x="159" y="316.7" width="1.1" height="193.1" fill="#000" fill-opacity="0.056"/>
<rect x="160" y="395.2" width="1.1" height="114.5" fill="url(#rb)"/>
<rect x="160" y="509.7" width="1.1" height="40" fill="#500058"/>
<rect x="160" y="332.3" width="1.1" height="34.8" fill="url(#dk)"/>
<rect x="160" y="316.7" width="1.1" height="193.0" fill="#000" fill-opacity="0.066"/>
<rect x="161" y="395.2" width="1.1" height="113.9" fill="url(#rb)"/>
<rect x="161" y="509.1" width="1.1" height="40" fill="#500058"/>
<rect x="161" y="332.5" width="1.1" height="38.7" fill="url(#dk)"/>
<rect x="161" y="316.7" width="1.1" height="192.4" fill="#000" fill-opacity="0.034"/>
<rect x="162" y="395.3" width="1.1" height="113.2" fill="url(#rb)"/>
<rect x="162" y="508.5" width="1.1" height="40" fill="#500058"/>
<rect x="162" y="332.6" width="1.1" height="37.5" fill="url(#dk)"/>
<rect x="163" y="394.3" width="1.1" height="112.9" fill="url(#rb)"/>
<rect x="163" y="507.2" width="1.1" height="40" fill="#500058"/>
<rect x="163" y="332.8" width="1.1" height="37.5" fill="url(#dk)"/>
<rect x="163" y="384.3" width="1.1" height="112.9" fill="#fff" fill-opacity="0.032"/>
<rect x="164" y="395.4" width="1.1" height="111.8" fill="url(#rb)"/>
<rect x="164" y="507.2" width="1.1" height="40" fill="#500058"/>
<rect x="164" y="333.0" width="1.1" height="32.5" fill="url(#dk)"/>
<rect x="164" y="385.4" width="1.1" height="111.8" fill="#fff" fill-opacity="0.055"/>
<rect x="165" y="394.2" width="1.1" height="111.6" fill="url(#rb)"/>
<rect x="165" y="505.9" width="1.1" height="40" fill="#500058"/>
<rect x="165" y="333.1" width="1.1" height="38.6" fill="url(#dk)"/>
<rect x="165" y="384.2" width="1.1" height="111.6" fill="#fff" fill-opacity="0.045"/>
<rect x="166" y="393.8" width="1.1" height="111.1" fill="url(#rb)"/>
<rect x="166" y="504.9" width="1.1" height="40" fill="#500058"/>
<rect x="166" y="333.3" width="1.1" height="31.8" fill="url(#dk)"/>
<rect x="166" y="383.8" width="1.1" height="111.1" fill="#fff" fill-opacity="0.062"/>
<rect x="167" y="394.9" width="1.1" height="110.1" fill="url(#rb)"/>
<rect x="167" y="504.9" width="1.1" height="40" fill="#500058"/>
<rect x="167" y="333.4" width="1.1" height="35.3" fill="url(#dk)"/>
<rect x="167" y="384.9" width="1.1" height="110.1" fill="#fff" fill-opacity="0.022"/>
<rect x="168" y="395.5" width="1.1" height="109.1" fill="url(#rb)"/>
<rect x="168" y="504.7" width="1.1" height="40" fill="#500058"/>
<rect x="168" y="333.6" width="1.1" height="30.8" fill="url(#dk)"/>
<rect x="169" y="395.1" width="1.1" height="108.6" fill="url(#rb)"/>
<rect x="169" y="503.8" width="1.1" height="40" fill="#500058"/>
<rect x="169" y="333.7" width="1.1" height="36.9" fill="url(#dk)"/>
<rect x="169" y="316.7" width="1.1" height="187.1" fill="#000" fill-opacity="0.026"/>
<rect x="170" y="396.1" width="1.1" height="107.6" fill="url(#rb)"/>
<rect x="170" y="503.7" width="1.1" height="40" fill="#500058"/>
<rect x="170" y="333.9" width="1.1" height="31.6" fill="url(#dk)"/>
<rect x="170" y="316.7" width="1.1" height="187.0" fill="#000" fill-opacity="0.051"/>
<rect x="171" y="396.8" width="1.1" height="106.7" fill="url(#rb)"/>
<rect x="171" y="503.4" width="1.1" height="40" fill="#500058"/>
<rect x="171" y="334.1" width="1.1" height="38.7" fill="url(#dk)"/>
<rect x="172" y="395.6" width="1.1" height="106.5" fill="url(#rb)"/>
<rect x="172" y="502.1" width="1.1" height="40" fill="#500058"/>
<rect x="172" y="334.2" width="1.1" height="32.9" fill="url(#dk)"/>
<rect x="172" y="385.6" width="1.1" height="106.5" fill="#fff" fill-opacity="0.039"/>
<rect x="173" y="396.5" width="1.1" height="105.5" fill="url(#rb)"/>
<rect x="173" y="501.9" width="1.1" height="40" fill="#500058"/>
<rect x="173" y="334.4" width="1.1" height="38.0" fill="url(#dk)"/>
<rect x="173" y="386.5" width="1.1" height="105.5" fill="#fff" fill-opacity="0.013"/>
<rect x="174" y="396.9" width="1.1" height="104.6" fill="url(#rb)"/>
<rect x="174" y="501.5" width="1.1" height="40" fill="#500058"/>
<rect x="174" y="334.5" width="1.1" height="38.3" fill="url(#dk)"/>
<rect x="174" y="386.9" width="1.1" height="104.6" fill="#fff" fill-opacity="0.024"/>
<rect x="175" y="395.6" width="1.1" height="104.5" fill="url(#rb)"/>
<rect x="175" y="500.1" width="1.1" height="40" fill="#500058"/>
<rect x="175" y="334.5" width="1.1" height="32.8" fill="url(#dk)"/>
<rect x="176" y="395.8" width="1.1" height="100.5" fill="url(#rb)"/>
<rect x="176" y="496.3" width="1.1" height="40" fill="#500058"/>
<rect x="176" y="334.3" width="1.1" height="32.9" fill="url(#dk)"/>
<rect x="177" y="396.4" width="1.1" height="93.0" fill="url(#rb)"/>
<rect x="177" y="489.4" width="1.1" height="40" fill="#500058"/>
<rect x="177" y="334.1" width="1.1" height="32.4" fill="url(#dk)"/>
<rect x="177" y="386.4" width="1.1" height="93.0" fill="#fff" fill-opacity="0.018"/>
<rect x="178" y="398.9" width="1.1" height="84.7" fill="url(#rb)"/>
<rect x="178" y="483.6" width="1.1" height="40" fill="#500058"/>
<rect x="178" y="333.8" width="1.1" height="33.5" fill="url(#dk)"/>
<rect x="178" y="388.9" width="1.1" height="84.7" fill="#fff" fill-opacity="0.025"/>
<rect x="179" y="401.3" width="1.1" height="76.5" fill="url(#rb)"/>
<rect x="179" y="477.8" width="1.1" height="40" fill="#500058"/>
<rect x="179" y="333.6" width="1.1" height="35.7" fill="url(#dk)"/>
<rect x="179" y="316.7" width="1.1" height="161.1" fill="#000" fill-opacity="0.015"/>
<rect x="180" y="401.7" width="1.1" height="72.7" fill="url(#rb)"/>
<rect x="180" y="474.4" width="1.1" height="40" fill="#500058"/>
<rect x="180" y="333.4" width="1.1" height="31.5" fill="url(#dk)"/>
<rect x="181" y="401.2" width="1.1" height="72.9" fill="url(#rb)"/>
<rect x="181" y="474.1" width="1.1" height="40" fill="#500058"/>
<rect x="181" y="333.2" width="1.1" height="38.2" fill="url(#dk)"/>
<rect x="181" y="391.2" width="1.1" height="72.9" fill="#fff" fill-opacity="0.011"/>
<rect x="182" y="401.6" width="1.1" height="72.8" fill="url(#rb)"/>
<rect x="182" y="474.3" width="1.1" height="40" fill="#500058"/>
<rect x="182" y="333.0" width="1.1" height="38.7" fill="url(#dk)"/>
<rect x="182" y="391.6" width="1.1" height="72.8" fill="#fff" fill-opacity="0.029"/>
<rect x="183" y="402.1" width="1.1" height="72.6" fill="url(#rb)"/>
<rect x="183" y="474.6" width="1.1" height="40" fill="#500058"/>
<rect x="183" y="332.8" width="1.1" height="33.8" fill="url(#dk)"/>
<rect x="184" y="400.8" width="1.1" height="73.1" fill="url(#rb)"/>
<rect x="184" y="473.9" width="1.1" height="40" fill="#500058"/>
<rect x="184" y="332.5" width="1.1" height="30.7" fill="url(#dk)"/>
<rect x="184" y="390.8" width="1.1" height="73.1" fill="#fff" fill-opacity="0.018"/>
<rect x="185" y="401.5" width="1.1" height="72.8" fill="url(#rb)"/>
<rect x="185" y="474.3" width="1.1" height="40" fill="#500058"/>
<rect x="185" y="332.3" width="1.1" height="41.0" fill="url(#dk)"/>
<rect x="185" y="391.5" width="1.1" height="72.8" fill="#fff" fill-opacity="0.049"/>
<rect x="186" y="401.2" width="1.1" height="72.9" fill="url(#rb)"/>
<rect x="186" y="474.1" width="1.1" height="40" fill="#500058"/>
<rect x="186" y="332.1" width="1.1" height="40.0" fill="url(#dk)"/>
<rect x="187" y="400.4" width="1.1" height="73.2" fill="url(#rb)"/>
<rect x="187" y="473.6" width="1.1" height="40" fill="#500058"/>
<rect x="187" y="331.9" width="1.1" height="39.8" fill="url(#dk)"/>
<rect x="187" y="390.4" width="1.1" height="73.2" fill="#fff" fill-opacity="0.016"/>
<rect x="188" y="401.4" width="1.1" height="72.8" fill="url(#rb)"/>
<rect x="188" y="474.3" width="1.1" height="40" fill="#500058"/>
<rect x="188" y="331.7" width="1.1" height="37.0" fill="url(#dk)"/>
<rect x="188" y="316.7" width="1.1" height="157.6" fill="#000" fill-opacity="0.031"/>
<rect x="189" y="400.7" width="1.1" height="73.1" fill="url(#rb)"/>
<rect x="189" y="473.8" width="1.1" height="40" fill="#500058"/>
<rect x="189" y="331.5" width="1.1" height="35.3" fill="url(#dk)"/>
<rect x="189" y="316.7" width="1.1" height="157.1" fill="#000" fill-opacity="0.038"/>
<rect x="190" y="400.9" width="1.1" height="73.1" fill="url(#rb)"/>
<rect x="190" y="473.9" width="1.1" height="40" fill="#500058"/>
<rect x="190" y="331.2" width="1.1" height="33.3" fill="url(#dk)"/>
<rect x="190" y="316.7" width="1.1" height="157.2" fill="#000" fill-opacity="0.036"/>
<rect x="191" y="400.0" width="1.1" height="73.4" fill="url(#rb)"/>
<rect x="191" y="473.4" width="1.1" height="40" fill="#500058"/>
<rect x="191" y="331.0" width="1.1" height="41.0" fill="url(#dk)"/>
<rect x="191" y="316.7" width="1.1" height="156.7" fill="#000" fill-opacity="0.040"/>
<rect x="192" y="400.1" width="1.1" height="75.7" fill="url(#rb)"/>
<rect x="192" y="475.8" width="1.1" height="40" fill="#500058"/>
<rect x="192" y="330.8" width="1.1" height="42.6" fill="url(#dk)"/>
<rect x="192" y="316.7" width="1.1" height="159.1" fill="#000" fill-opacity="0.010"/>
<rect x="193" y="397.9" width="1.1" height="81.3" fill="url(#rb)"/>
<rect x="193" y="479.2" width="1.1" height="40" fill="#500058"/>
<rect x="193" y="330.6" width="1.1" height="40.6" fill="url(#dk)"/>
<rect x="193" y="316.7" width="1.1" height="162.5" fill="#000" fill-opacity="0.044"/>
<rect x="194" y="395.0" width="1.1" height="87.1" fill="url(#rb)"/>
<rect x="194" y="482.2" width="1.1" height="40" fill="#500058"/>
<rect x="194" y="330.4" width="1.1" height="46.0" fill="url(#dk)"/>
<rect x="194" y="385.0" width="1.1" height="87.1" fill="#fff" fill-opacity="0.015"/>
<rect x="195" y="392.9" width="1.1" height="92.7" fill="url(#rb)"/>
<rect x="195" y="485.6" width="1.1" height="40" fill="#500058"/>
<rect x="195" y="330.2" width="1.1" height="40.7" fill="url(#dk)"/>
<rect x="195" y="316.7" width="1.1" height="168.9" fill="#000" fill-opacity="0.027"/>
<rect x="196" y="392.4" width="1.1" height="95.3" fill="url(#rb)"/>
<rect x="196" y="487.7" width="1.1" height="40" fill="#500058"/>
<rect x="196" y="329.9" width="1.1" height="40.0" fill="url(#dk)"/>
<rect x="196" y="316.7" width="1.1" height="171.0" fill="#000" fill-opacity="0.053"/>
<rect x="197" y="392.0" width="1.1" height="95.5" fill="url(#rb)"/>
<rect x="197" y="487.5" width="1.1" height="40" fill="#500058"/>
<rect x="197" y="329.7" width="1.1" height="40.8" fill="url(#dk)"/>
<rect x="197" y="316.7" width="1.1" height="170.8" fill="#000" fill-opacity="0.035"/>
<rect x="198" y="392.9" width="1.1" height="95.2" fill="url(#rb)"/>
<rect x="198" y="488.1" width="1.1" height="40" fill="#500058"/>
<rect x="198" y="329.5" width="1.1" height="45.1" fill="url(#dk)"/>
<rect x="198" y="316.7" width="1.1" height="171.4" fill="#000" fill-opacity="0.035"/>
<rect x="199" y="392.4" width="1.1" height="95.5" fill="url(#rb)"/>
<rect x="199" y="487.8" width="1.1" height="40" fill="#500058"/>
<rect x="199" y="329.3" width="1.1" height="41.7" fill="url(#dk)"/>
<rect x="199" y="382.4" width="1.1" height="95.5" fill="#fff" fill-opacity="0.010"/>
<rect x="200" y="393.1" width="1.1" height="95.2" fill="url(#rb)"/>
<rect x="200" y="488.4" width="1.1" height="40" fill="#500058"/>
<rect x="200" y="329.1" width="1.1" height="44.7" fill="url(#dk)"/>
<rect x="200" y="316.7" width="1.1" height="171.7" fill="#000" fill-opacity="0.016"/>
<rect x="201" y="392.0" width="1.1" height="95.7" fill="url(#rb)"/>
<rect x="201" y="487.7" width="1.1" height="40" fill="#500058"/>
<rect x="201" y="328.9" width="1.1" height="43.2" fill="url(#dk)"/>
<rect x="201" y="316.7" width="1.1" height="171.0" fill="#000" fill-opacity="0.036"/>
<rect x="202" y="392.3" width="1.1" height="95.7" fill="url(#rb)"/>
<rect x="202" y="488.0" width="1.1" height="40" fill="#500058"/>
<rect x="202" y="328.6" width="1.1" height="38.5" fill="url(#dk)"/>
<rect x="202" y="316.7" width="1.1" height="171.3" fill="#000" fill-opacity="0.018"/>
<rect x="203" y="393.0" width="1.1" height="95.5" fill="url(#rb)"/>
<rect x="203" y="488.5" width="1.1" height="40" fill="#500058"/>
<rect x="203" y="328.4" width="1.1" height="38.0" fill="url(#dk)"/>
<rect x="203" y="383.0" width="1.1" height="95.5" fill="#fff" fill-opacity="0.015"/>
<rect x="204" y="392.1" width="1.1" height="95.9" fill="url(#rb)"/>
<rect x="204" y="488.0" width="1.1" height="40" fill="#500058"/>
<rect x="204" y="328.2" width="1.1" height="44.2" fill="url(#dk)"/>
<rect x="204" y="316.7" width="1.1" height="171.3" fill="#000" fill-opacity="0.022"/>
<rect x="205" y="391.2" width="1.1" height="96.3" fill="url(#rb)"/>
<rect x="205" y="487.5" width="1.1" height="40" fill="#500058"/>
<rect x="205" y="328.0" width="1.1" height="39.7" fill="url(#dk)"/>
<rect x="205" y="381.2" width="1.1" height="96.3" fill="#fff" fill-opacity="0.009"/>
<rect x="206" y="391.1" width="1.1" height="96.4" fill="url(#rb)"/>
<rect x="206" y="487.5" width="1.1" height="40" fill="#500058"/>
<rect x="206" y="327.8" width="1.1" height="42.9" fill="url(#dk)"/>
<rect x="206" y="381.1" width="1.1" height="96.4" fill="#fff" fill-opacity="0.031"/>
<rect x="207" y="391.0" width="1.1" height="96.5" fill="url(#rb)"/>
<rect x="207" y="487.5" width="1.1" height="40" fill="#500058"/>
<rect x="207" y="327.6" width="1.1" height="39.8" fill="url(#dk)"/>
<rect x="207" y="316.7" width="1.1" height="170.8" fill="#000" fill-opacity="0.022"/>
<rect x="208" y="391.8" width="1.1" height="96.3" fill="url(#rb)"/>
<rect x="208" y="488.1" width="1.1" height="40" fill="#500058"/>
<rect x="208" y="327.3" width="1.1" height="37.3" fill="url(#dk)"/>
<rect x="208" y="316.7" width="1.1" height="171.4" fill="#000" fill-opacity="0.058"/>
<rect x="209" y="390.8" width="1.1" height="96.7" fill="url(#rb)"/>
<rect x="209" y="487.5" width="1.1" height="40" fill="#500058"/>
<rect x="209" y="327.1" width="1.1" height="40.3" fill="url(#dk)"/>
<rect x="209" y="316.7" width="1.1" height="170.8" fill="#000" fill-opacity="0.081"/>
<rect x="210" y="391.7" width="1.1" height="96.4" fill="url(#rb)"/>
<rect x="210" y="488.1" width="1.1" height="40" fill="#500058"/>
<rect x="210" y="326.9" width="1.1" height="46.7" fill="url(#dk)"/>
<rect x="210" y="316.7" width="1.1" height="171.4" fill="#000" fill-opacity="0.042"/>
<rect x="211" y="390.8" width="1.1" height="96.9" fill="url(#rb)"/>
<rect x="211" y="487.7" width="1.1" height="40" fill="#500058"/>
<rect x="211" y="326.7" width="1.1" height="48.4" fill="url(#dk)"/>
<rect x="211" y="380.8" width="1.1" height="96.9" fill="#fff" fill-opacity="0.010"/>
<rect x="212" y="390.3" width="1.1" height="97.1" fill="url(#rb)"/>
<rect x="212" y="487.4" width="1.1" height="40" fill="#500058"/>
<rect x="212" y="326.5" width="1.1" height="45.8" fill="url(#dk)"/>
<rect x="212" y="380.3" width="1.1" height="97.1" fill="#fff" fill-opacity="0.042"/>
<rect x="213" y="390.5" width="1.1" height="97.1" fill="url(#rb)"/>
<rect x="213" y="487.6" width="1.1" height="40" fill="#500058"/>
<rect x="213" y="326.3" width="1.1" height="50.5" fill="url(#dk)"/>
<rect x="213" y="380.5" width="1.1" height="97.1" fill="#fff" fill-opacity="0.010"/>
<rect x="214" y="390.7" width="1.1" height="97.1" fill="url(#rb)"/>
<rect x="214" y="487.8" width="1.1" height="40" fill="#500058"/>
<rect x="214" y="326.0" width="1.1" height="50.6" fill="url(#dk)"/>
<rect x="214" y="380.7" width="1.1" height="97.1" fill="#fff" fill-opacity="0.009"/>
<rect x="215" y="390.0" width="1.1" height="97.1" fill="url(#rb)"/>
<rect x="215" y="487.1" width="1.1" height="40" fill="#500058"/>
<rect x="215" y="325.8" width="1.1" height="50.3" fill="url(#dk)"/>
<rect x="215" y="380.0" width="1.1" height="97.1" fill="#fff" fill-opacity="0.013"/>
<rect x="216" y="390.9" width="1.1" height="96.0" fill="url(#rb)"/>
<rect x="216" y="486.9" width="1.1" height="40" fill="#500058"/>
<rect x="216" y="325.6" width="1.1" height="54.7" fill="url(#dk)"/>
<rect x="216" y="380.9" width="1.1" height="96.0" fill="#fff" fill-opacity="0.013"/>
<rect x="217" y="391.0" width="1.1" height="95.3" fill="url(#rb)"/>
<rect x="217" y="486.3" width="1.1" height="40" fill="#500058"/>
<rect x="217" y="325.4" width="1.1" height="54.4" fill="url(#dk)"/>
<rect x="217" y="381.0" width="1.1" height="95.3" fill="#fff" fill-opacity="0.014"/>
<rect x="218" y="390.2" width="1.1" height="95.0" fill="url(#rb)"/>
<rect x="218" y="485.2" width="1.1" height="40" fill="#500058"/>
<rect x="218" y="325.2" width="1.1" height="54.1" fill="url(#dk)"/>
<rect x="218" y="316.7" width="1.1" height="168.5" fill="#000" fill-opacity="0.026"/>
<rect x="219" y="390.9" width="1.1" height="94.0" fill="url(#rb)"/>
<rect x="219" y="484.9" width="1.1" height="40" fill="#500058"/>
<rect x="219" y="325.0" width="1.1" height="53.7" fill="url(#dk)"/>
<rect x="219" y="316.7" width="1.1" height="168.2" fill="#000" fill-opacity="0.049"/>
<rect x="220" y="391.1" width="1.1" height="93.3" fill="url(#rb)"/>
<rect x="220" y="484.3" width="1.1" height="40" fill="#500058"/>
<rect x="220" y="324.7" width="1.1" height="52.7" fill="url(#dk)"/>
<rect x="220" y="316.7" width="1.1" height="167.6" fill="#000" fill-opacity="0.025"/>
<rect x="221" y="390.3" width="1.1" height="92.9" fill="url(#rb)"/>
<rect x="221" y="483.2" width="1.1" height="40" fill="#500058"/>
<rect x="221" y="324.5" width="1.1" height="52.2" fill="url(#dk)"/>
<rect x="221" y="380.3" width="1.1" height="92.9" fill="#fff" fill-opacity="0.019"/>
<rect x="222" y="390.1" width="1.1" height="92.3" fill="url(#rb)"/>
<rect x="222" y="482.4" width="1.1" height="40" fill="#500058"/>
<rect x="222" y="324.3" width="1.1" height="54.4" fill="url(#dk)"/>
<rect x="223" y="390.4" width="1.1" height="91.5" fill="url(#rb)"/>
<rect x="223" y="481.9" width="1.1" height="40" fill="#500058"/>
<rect x="223" y="324.1" width="1.1" height="47.5" fill="url(#dk)"/>
<rect x="224" y="390.1" width="1.1" height="91.0" fill="url(#rb)"/>
<rect x="224" y="481.1" width="1.1" height="40" fill="#500058"/>
<rect x="224" y="323.9" width="1.1" height="50.1" fill="url(#dk)"/>
<rect x="224" y="380.1" width="1.1" height="91.0" fill="#fff" fill-opacity="0.009"/>
<rect x="225" y="390.4" width="1.1" height="90.2" fill="url(#rb)"/>
<rect x="225" y="480.6" width="1.1" height="40" fill="#500058"/>
<rect x="225" y="323.7" width="1.1" height="56.0" fill="url(#dk)"/>
<rect x="225" y="380.4" width="1.1" height="90.2" fill="#fff" fill-opacity="0.030"/>
<rect x="226" y="390.1" width="1.1" height="89.5" fill="url(#rb)"/>
<rect x="226" y="479.7" width="1.1" height="40" fill="#500058"/>
<rect x="226" y="323.4" width="1.1" height="56.5" fill="url(#dk)"/>
<rect x="226" y="380.1" width="1.1" height="89.5" fill="#fff" fill-opacity="0.026"/>
<rect x="227" y="389.1" width="1.1" height="89.2" fill="url(#rb)"/>
<rect x="227" y="478.2" width="1.1" height="40" fill="#500058"/>
<rect x="227" y="323.2" width="1.1" height="59.8" fill="url(#dk)"/>
<rect x="227" y="379.1" width="1.1" height="89.2" fill="#fff" fill-opacity="0.051"/>
<rect x="228" y="388.3" width="1.1" height="88.7" fill="url(#rb)"/>
<rect x="228" y="476.9" width="1.1" height="40" fill="#500058"/>
<rect x="228" y="323.0" width="1.1" height="49.0" fill="url(#dk)"/>
<rect x="228" y="378.3" width="1.1" height="88.7" fill="#fff" fill-opacity="0.009"/>
<rect x="229" y="388.4" width="1.1" height="87.8" fill="url(#rb)"/>
<rect x="229" y="476.2" width="1.1" height="40" fill="#500058"/>
<rect x="229" y="322.8" width="1.1" height="49.7" fill="url(#dk)"/>
<rect x="229" y="378.4" width="1.1" height="87.8" fill="#fff" fill-opacity="0.036"/>
<rect x="230" y="387.2" width="1.1" height="87.5" fill="url(#rb)"/>
<rect x="230" y="474.7" width="1.1" height="40" fill="#500058"/>
<rect x="230" y="322.6" width="1.1" height="50.4" fill="url(#dk)"/>
<rect x="231" y="386.1" width="1.1" height="87.1" fill="url(#rb)"/>
<rect x="231" y="473.2" width="1.1" height="40" fill="#500058"/>
<rect x="231" y="322.4" width="1.1" height="52.4" fill="url(#dk)"/>
<rect x="231" y="316.7" width="1.1" height="156.5" fill="#000" fill-opacity="0.028"/>
<rect x="232" y="385.2" width="1.1" height="86.7" fill="url(#rb)"/>
<rect x="232" y="471.9" width="1.1" height="40" fill="#500058"/>
<rect x="232" y="322.1" width="1.1" height="49.8" fill="url(#dk)"/>
<rect x="232" y="316.7" width="1.1" height="155.2" fill="#000" fill-opacity="0.060"/>
<rect x="233" y="383.7" width="1.1" height="86.5" fill="url(#rb)"/>
<rect x="233" y="470.1" width="1.1" height="40" fill="#500058"/>
<rect x="233" y="321.9" width="1.1" height="53.0" fill="url(#dk)"/>
<rect x="233" y="316.7" width="1.1" height="153.4" fill="#000" fill-opacity="0.026"/>
<rect x="234" y="383.8" width="1.1" height="85.6" fill="url(#rb)"/>
<rect x="234" y="469.4" width="1.1" height="40" fill="#500058"/>
<rect x="234" y="321.7" width="1.1" height="45.8" fill="url(#dk)"/>
<rect x="234" y="316.7" width="1.1" height="152.7" fill="#000" fill-opacity="0.062"/>
<rect x="235" y="382.5" width="1.1" height="85.3" fill="url(#rb)"/>
<rect x="235" y="467.8" width="1.1" height="40" fill="#500058"/>
<rect x="235" y="321.5" width="1.1" height="41.6" fill="url(#dk)"/>
<rect x="235" y="316.7" width="1.1" height="151.1" fill="#000" fill-opacity="0.015"/>
<rect x="236" y="381.6" width="1.1" height="84.9" fill="url(#rb)"/>
<rect x="236" y="466.5" width="1.1" height="40" fill="#500058"/>
<rect x="236" y="321.3" width="1.1" height="39.0" fill="url(#dk)"/>
<rect x="237" y="380.8" width="1.1" height="84.4" fill="url(#rb)"/>
<rect x="237" y="465.2" width="1.1" height="40" fill="#500058"/>
<rect x="237" y="321.1" width="1.1" height="48.8" fill="url(#dk)"/>
<rect x="237" y="370.8" width="1.1" height="84.4" fill="#fff" fill-opacity="0.011"/>
<rect x="238" y="379.7" width="1.1" height="84.0" fill="url(#rb)"/>
<rect x="238" y="463.7" width="1.1" height="40" fill="#500058"/>
<rect x="238" y="320.8" width="1.1" height="45.8" fill="url(#dk)"/>
<rect x="238" y="316.7" width="1.1" height="147.0" fill="#000" fill-opacity="0.015"/>
<rect x="239" y="380.2" width="1.1" height="83.0" fill="url(#rb)"/>
<rect x="239" y="463.2" width="1.1" height="40" fill="#500058"/>
<rect x="239" y="320.6" width="1.1" height="49.4" fill="url(#dk)"/>
<rect x="239" y="370.2" width="1.1" height="83.0" fill="#fff" fill-opacity="0.014"/>
<rect x="240" y="379.8" width="1.1" height="82.4" fill="url(#rb)"/>
<rect x="240" y="462.1" width="1.1" height="40" fill="#500058"/>
<rect x="240" y="320.4" width="1.1" height="48.9" fill="url(#dk)"/>
<rect x="240" y="369.8" width="1.1" height="82.4" fill="#fff" fill-opacity="0.031"/>
<rect x="241" y="377.7" width="1.1" height="82.4" fill="url(#rb)"/>
<rect x="241" y="460.1" width="1.1" height="40" fill="#500058"/>
<rect x="241" y="320.2" width="1.1" height="55.0" fill="url(#dk)"/>
<rect x="242" y="377.4" width="1.1" height="81.7" fill="url(#rb)"/>
<rect x="242" y="459.1" width="1.1" height="40" fill="#500058"/>
<rect x="242" y="320.0" width="1.1" height="52.9" fill="url(#dk)"/>
<rect x="243" y="375.9" width="1.1" height="81.5" fill="url(#rb)"/>
<rect x="243" y="457.4" width="1.1" height="40" fill="#500058"/>
<rect x="243" y="319.8" width="1.1" height="60.0" fill="url(#dk)"/>
<rect x="244" y="375.7" width="1.1" height="80.7" fill="url(#rb)"/>
<rect x="244" y="456.5" width="1.1" height="40" fill="#500058"/>
<rect x="244" y="319.5" width="1.1" height="61.0" fill="url(#dk)"/>
<rect x="244" y="316.7" width="1.1" height="139.8" fill="#000" fill-opacity="0.025"/>
<rect x="245" y="374.9" width="1.1" height="80.3" fill="url(#rb)"/>
<rect x="245" y="455.2" width="1.1" height="40" fill="#500058"/>
<rect x="245" y="319.3" width="1.1" height="53.0" fill="url(#dk)"/>
<rect x="245" y="316.7" width="1.1" height="138.5" fill="#000" fill-opacity="0.020"/>
<rect x="246" y="373.3" width="1.1" height="80.1" fill="url(#rb)"/>
<rect x="246" y="453.4" width="1.1" height="40" fill="#500058"/>
<rect x="246" y="319.1" width="1.1" height="58.3" fill="url(#dk)"/>
<rect x="247" y="373.7" width="1.1" height="79.1" fill="url(#rb)"/>
<rect x="247" y="452.8" width="1.1" height="40" fill="#500058"/>
<rect x="247" y="318.9" width="1.1" height="51.5" fill="url(#dk)"/>
<rect x="247" y="363.7" width="1.1" height="79.1" fill="#fff" fill-opacity="0.010"/>
<rect x="248" y="372.3" width="1.1" height="79.1" fill="url(#rb)"/>
<rect x="248" y="451.5" width="1.1" height="40" fill="#500058"/>
<rect x="248" y="318.7" width="1.1" height="51.2" fill="url(#dk)"/>
<rect x="248" y="362.3" width="1.1" height="79.1" fill="#fff" fill-opacity="0.030"/>
<rect x="249" y="370.8" width="1.1" height="79.5" fill="url(#rb)"/>
<rect x="249" y="450.4" width="1.1" height="40" fill="#500058"/>
<rect x="249" y="318.5" width="1.1" height="56.0" fill="url(#dk)"/>
<rect x="249" y="360.8" width="1.1" height="79.5" fill="#fff" fill-opacity="0.035"/>
<rect x="250" y="370.3" width="1.1" height="79.5" fill="url(#rb)"/>
<rect x="250" y="449.8" width="1.1" height="40" fill="#500058"/>
<rect x="250" y="318.2" width="1.1" height="51.3" fill="url(#dk)"/>
<rect x="250" y="360.3" width="1.1" height="79.5" fill="#fff" fill-opacity="0.023"/>
<rect x="251" y="370.2" width="1.1" height="79.3" fill="url(#rb)"/>
<rect x="251" y="449.5" width="1.1" height="40" fill="#500058"/>
<rect x="251" y="318.0" width="1.1" height="54.9" fill="url(#dk)"/>
<rect x="252" y="369.7" width="1.1" height="79.3" fill="url(#rb)"/>
<rect x="252" y="449.0" width="1.1" height="40" fill="#500058"/>
<rect x="252" y="317.8" width="1.1" height="61.5" fill="url(#dk)"/>
<rect x="252" y="316.7" width="1.1" height="132.3" fill="#000" fill-opacity="0.033"/>
<rect x="253" y="368.5" width="1.1" height="79.5" fill="url(#rb)"/>
<rect x="253" y="448.0" width="1.1" height="40" fill="#500058"/>
<rect x="253" y="317.6" width="1.1" height="62.9" fill="url(#dk)"/>
<rect x="253" y="316.7" width="1.1" height="131.3" fill="#000" fill-opacity="0.059"/>
<rect x="254" y="369.2" width="1.1" height="79.0" fill="url(#rb)"/>
<rect x="254" y="448.2" width="1.1" height="40" fill="#500058"/>
<rect x="254" y="317.4" width="1.1" height="52.0" fill="url(#dk)"/>
<rect x="254" y="316.7" width="1.1" height="131.5" fill="#000" fill-opacity="0.067"/>
<rect x="255" y="368.9" width="1.1" height="78.9" fill="url(#rb)"/>
<rect x="255" y="447.8" width="1.1" height="40" fill="#500058"/>
<rect x="255" y="317.2" width="1.1" height="45.1" fill="url(#dk)"/>
<rect x="256" y="369.2" width="1.1" height="78.5" fill="url(#rb)"/>
<rect x="256" y="447.7" width="1.1" height="40" fill="#500058"/>
<rect x="256" y="316.9" width="1.1" height="52.9" fill="url(#dk)"/>
<rect x="256" y="359.2" width="1.1" height="78.5" fill="#fff" fill-opacity="0.022"/>
<rect x="257" y="367.1" width="1.1" height="79.1" fill="url(#rb)"/>
<rect x="257" y="446.3" width="1.1" height="40" fill="#500058"/>
<rect x="257" y="316.7" width="1.1" height="47.8" fill="url(#dk)"/>
<rect x="257" y="357.1" width="1.1" height="79.1" fill="#fff" fill-opacity="0.034"/>
<rect x="258" y="367.3" width="1.1" height="78.8" fill="url(#rb)"/>
<rect x="258" y="446.1" width="1.1" height="40" fill="#500058"/>
<rect x="258" y="316.5" width="1.1" height="49.1" fill="url(#dk)"/>
<rect x="258" y="357.3" width="1.1" height="78.8" fill="#fff" fill-opacity="0.047"/>
<rect x="259" y="367.4" width="1.1" height="78.6" fill="url(#rb)"/>
<rect x="259" y="446.0" width="1.1" height="40" fill="#500058"/>
<rect x="259" y="316.3" width="1.1" height="57.4" fill="url(#dk)"/>
<rect x="259" y="357.4" width="1.1" height="78.6" fill="#fff" fill-opacity="0.054"/>
</g>
<polygon points="44.7,317.2 141.9,301.6 268.7,317.2 175.0,337.6" fill="#690000"/>
<line x1="29.6" y1="316.7" x2="37.2" y2="489.3" stroke="#111" stroke-width="0.9"/>
<line x1="37.2" y1="489.3" x2="170.7" y2="542.0" stroke="#111" stroke-width="0.9"/>
<line x1="170.7" y1="542.0" x2="280.0" y2="482.3" stroke="#111" stroke-width="0.9"/>
<line x1="28.5" y1="347.8" x2="31.0" y2="347.5" stroke="#111" stroke-width="0.8"/>
<text transform="translate(26.5,351.8) scale(0.8,1)" font-size="13" text-anchor="end">8</text>
<line x1="30.1" y1="385.3" x2="32.6" y2="385.0" stroke="#111" stroke-width="0.8"/>
<text transform="translate(28.2,389.3) scale(0.8,1)" font-size="13" text-anchor="end">6</text>
<line x1="31.7" y1="421.8" x2="34.2" y2="421.5" stroke="#111" stroke-width="0.8"/>
<text transform="translate(29.8,425.8) scale(0.8,1)" font-size="13" text-anchor="end">4</text>
<line x1="33.3" y1="457.8" x2="35.8" y2="457.5" stroke="#111" stroke-width="0.8"/>
<text transform="translate(31.4,461.8) scale(0.8,1)" font-size="13" text-anchor="end">2</text>
<line x1="34.8" y1="492.8" x2="37.3" y2="492.5" stroke="#111" stroke-width="0.8"/>
<text transform="translate(33.1,496.8) scale(0.8,1)" font-size="13" text-anchor="end">0</text>
<text transform="translate(12.3,361.9) rotate(88) scale(1,0.85)" font-size="11.7">Free Energy (kJ/mol)</text>
<text transform="matrix(-0.834 0.455 -0.744 -0.294 42.7 498)" font-size="11" text-anchor="middle" fill="#222" dy="3.6">-4</text>
<text transform="matrix(-0.834 0.455 -0.744 -0.294 70.3 507.6)" font-size="11" text-anchor="middle" fill="#222" dy="3.6">-2</text>
<text transform="matrix(-0.834 0.455 -0.744 -0.294 100.4 519)" font-size="11" text-anchor="middle" fill="#222" dy="3.6">0</text>
<text transform="matrix(-0.834 0.455 -0.744 -0.294 134.3 530)" font-size="11" text-anchor="middle" fill="#222" dy="3.6">2</text>
<text transform="matrix(-0.834 0.455 -0.744 -0.294 165.7 542)" font-size="11" text-anchor="middle" fill="#222" dy="3.6">4</text>
<text transform="matrix(0.884 0.349 -0.649 0.355 80.3 520.7)" font-size="11.5" text-anchor="middle" fill="#222" dy="3.6">PC2</text>
<text transform="matrix(0.884 0.349 -0.702 0.383 189.6 539)" font-size="11" text-anchor="middle" fill="#222" dy="3.6">-4</text>
<text transform="matrix(0.884 0.349 -0.702 0.383 203.4 532)" font-size="11" text-anchor="middle" fill="#222" dy="3.6">-3</text>
<text transform="matrix(0.884 0.349 -0.702 0.383 217.2 524)" font-size="11" text-anchor="middle" fill="#222" dy="3.6">-2</text>
<text transform="matrix(0.884 0.349 -0.702 0.383 229.7 516.4)" font-size="11" text-anchor="middle" fill="#222" dy="3.6">-1</text>
<text transform="matrix(0.884 0.349 -0.702 0.383 242.3 509.4)" font-size="11" text-anchor="middle" fill="#222" dy="3.6">0</text>
<text transform="matrix(0.884 0.349 -0.702 0.383 253.6 503.1)" font-size="11" text-anchor="middle" fill="#222" dy="3.6">1</text>
<text transform="matrix(0.884 0.349 -0.702 0.383 264.9 496.8)" font-size="11" text-anchor="middle" fill="#222" dy="3.6">2</text>
<text transform="matrix(0.884 0.349 -0.702 0.383 276.2 490.6)" font-size="11" text-anchor="middle" fill="#222" dy="3.6">3</text>
<text transform="matrix(0.884 0.349 -0.702 0.383 287 484.8)" font-size="11" text-anchor="middle" fill="#222" dy="3.6">4</text>
<text transform="matrix(0.834 -0.455 0.688 0.272 252.3 515.7)" font-size="11.5" text-anchor="middle" fill="#222" dy="3.6">PC1</text>
<line x1="45.0" y1="492.4" x2="42.4" y2="493.8" stroke="#111" stroke-width="0.7"/>
<line x1="60.4" y1="498.5" x2="58.9" y2="499.2" stroke="#111" stroke-width="0.6"/>
<line x1="75.8" y1="504.5" x2="73.2" y2="505.9" stroke="#111" stroke-width="0.7"/>
<line x1="91.1" y1="510.6" x2="89.7" y2="511.4" stroke="#111" stroke-width="0.6"/>
<line x1="106.5" y1="516.6" x2="103.9" y2="518.0" stroke="#111" stroke-width="0.7"/>
<line x1="121.9" y1="522.7" x2="120.4" y2="523.5" stroke="#111" stroke-width="0.6"/>
<line x1="137.2" y1="528.8" x2="134.7" y2="530.2" stroke="#111" stroke-width="0.7"/>
<line x1="152.6" y1="534.8" x2="151.2" y2="535.6" stroke="#111" stroke-width="0.6"/>
<line x1="168.0" y1="540.9" x2="165.4" y2="542.3" stroke="#111" stroke-width="0.7"/>
<line x1="184.0" y1="534.7" x2="186.8" y2="535.7" stroke="#111" stroke-width="0.7"/>
<line x1="189.9" y1="531.5" x2="191.5" y2="532.0" stroke="#111" stroke-width="0.6"/>
<line x1="195.9" y1="528.2" x2="198.7" y2="529.2" stroke="#111" stroke-width="0.7"/>
<line x1="201.8" y1="525.0" x2="203.4" y2="525.5" stroke="#111" stroke-width="0.6"/>
<line x1="207.8" y1="521.7" x2="210.6" y2="522.7" stroke="#111" stroke-width="0.7"/>
<line x1="213.7" y1="518.5" x2="215.2" y2="519.0" stroke="#111" stroke-width="0.6"/>
<line x1="219.6" y1="515.2" x2="222.4" y2="516.2" stroke="#111" stroke-width="0.7"/>
<line x1="225.6" y1="512.0" x2="227.1" y2="512.5" stroke="#111" stroke-width="0.6"/>
<line x1="231.5" y1="508.8" x2="234.3" y2="509.8" stroke="#111" stroke-width="0.7"/>
<line x1="237.4" y1="505.5" x2="239.0" y2="506.1" stroke="#111" stroke-width="0.6"/>
<line x1="243.4" y1="502.3" x2="246.2" y2="503.3" stroke="#111" stroke-width="0.7"/>
<line x1="249.3" y1="499.0" x2="250.9" y2="499.6" stroke="#111" stroke-width="0.6"/>
<line x1="255.2" y1="495.8" x2="258.1" y2="496.8" stroke="#111" stroke-width="0.7"/>
<line x1="261.2" y1="492.5" x2="262.7" y2="493.1" stroke="#111" stroke-width="0.6"/>
<line x1="267.1" y1="489.3" x2="269.9" y2="490.3" stroke="#111" stroke-width="0.7"/>
<line x1="273.1" y1="486.0" x2="274.6" y2="486.6" stroke="#111" stroke-width="0.6"/>
<line x1="279.0" y1="482.8" x2="281.8" y2="483.8" stroke="#111" stroke-width="0.7"/>
<text x="37.5" y="528.2" font-size="23.5">C</text>
<rect x="299.6" y="308.3" width="4.2" height="162.1" fill="url(#cb)"/>
<rect x="299.6" y="306.7" width="4.2" height="1.8" fill="#f4f4f4" stroke="#666" stroke-width="0.5"/>
<rect x="299.6" y="469.4" width="4.2" height="1.4" fill="#111"/>
<line x1="303.8" y1="309.1" x2="307.4" y2="309.1" stroke="#111" stroke-width="0.95"/>
<text x="309.6" y="311.9" font-size="7.2" fill="#000">9.450</text>
<line x1="303.8" y1="325.2" x2="307.4" y2="325.2" stroke="#111" stroke-width="0.95"/>
<text x="309.6" y="328.0" font-size="7.2" fill="#000">8.505</text>
<line x1="303.8" y1="341.3" x2="307.4" y2="341.3" stroke="#111" stroke-width="0.95"/>
<text x="309.6" y="344.1" font-size="7.2" fill="#000">7.560</text>
<line x1="303.8" y1="357.4" x2="307.4" y2="357.4" stroke="#111" stroke-width="0.95"/>
<text x="309.6" y="360.2" font-size="7.2" fill="#000">6.615</text>
<line x1="303.8" y1="373.5" x2="307.4" y2="373.5" stroke="#111" stroke-width="0.95"/>
<text x="309.6" y="376.3" font-size="7.2" fill="#000">5.670</text>
<line x1="303.8" y1="389.6" x2="307.4" y2="389.6" stroke="#111" stroke-width="0.95"/>
<text x="309.6" y="392.4" font-size="7.2" fill="#000">4.725</text>
<line x1="303.8" y1="405.6" x2="307.4" y2="405.6" stroke="#111" stroke-width="0.95"/>
<text x="309.6" y="408.4" font-size="7.2" fill="#000">3.780</text>
<line x1="303.8" y1="421.7" x2="307.4" y2="421.7" stroke="#111" stroke-width="0.95"/>
<text x="309.6" y="424.5" font-size="7.2" fill="#000">2.835</text>
<line x1="303.8" y1="437.8" x2="307.4" y2="437.8" stroke="#111" stroke-width="0.95"/>
<text x="309.6" y="440.6" font-size="7.2" fill="#000">1.890</text>
<line x1="303.8" y1="453.9" x2="307.4" y2="453.9" stroke="#111" stroke-width="0.95"/>
<text x="309.6" y="456.7" font-size="7.2" fill="#000">0.9450</text>
<line x1="303.8" y1="470.0" x2="307.4" y2="470.0" stroke="#111" stroke-width="0.95"/>
<text x="309.6" y="472.8" font-size="7.2" fill="#000">0.000</text></g>
<g id="pD"><line x1="385.1" y1="460.4" x2="500.0" y2="421.2" stroke="#e6e6e6" stroke-width="0.5"/>
<line x1="500.0" y1="421.2" x2="630.4" y2="453.7" stroke="#e6e6e6" stroke-width="0.5"/>
<line x1="383.8" y1="429.5" x2="500.0" y2="394.5" stroke="#e6e6e6" stroke-width="0.5"/>
<line x1="500.0" y1="394.5" x2="631.8" y2="423.6" stroke="#e6e6e6" stroke-width="0.5"/>
<line x1="382.4" y1="398.3" x2="499.9" y2="367.5" stroke="#e6e6e6" stroke-width="0.5"/>
<line x1="499.9" y1="367.5" x2="633.3" y2="393.1" stroke="#e6e6e6" stroke-width="0.5"/>
<line x1="381.1" y1="366.4" x2="499.9" y2="339.9" stroke="#e6e6e6" stroke-width="0.5"/>
<line x1="499.9" y1="339.9" x2="634.7" y2="362.0" stroke="#e6e6e6" stroke-width="0.5"/>
<line x1="379.7" y1="333.7" x2="499.9" y2="311.6" stroke="#e6e6e6" stroke-width="0.5"/>
<line x1="499.9" y1="311.6" x2="636.2" y2="330.0" stroke="#e6e6e6" stroke-width="0.5"/>
<line x1="400.4" y1="481.9" x2="394.0" y2="312.4" stroke="#e6e6e6" stroke-width="0.5"/>
<line x1="400.4" y1="481.9" x2="535.4" y2="530.2" stroke="#e6e6e6" stroke-width="0.5"/>
<line x1="428.9" y1="471.2" x2="424.3" y2="307.6" stroke="#e6e6e6" stroke-width="0.5"/>
<line x1="428.9" y1="471.2" x2="562.2" y2="515.9" stroke="#e6e6e6" stroke-width="0.5"/>
<line x1="457.3" y1="460.6" x2="454.5" y2="302.6" stroke="#e6e6e6" stroke-width="0.5"/>
<line x1="457.3" y1="460.6" x2="589.0" y2="501.5" stroke="#e6e6e6" stroke-width="0.5"/>
<line x1="485.8" y1="449.9" x2="484.8" y2="297.8" stroke="#e6e6e6" stroke-width="0.5"/>
<line x1="485.8" y1="449.9" x2="615.8" y2="487.2" stroke="#e6e6e6" stroke-width="0.5"/>
<line x1="516.1" y1="448.9" x2="517.0" y2="297.3" stroke="#e6e6e6" stroke-width="0.5"/>
<line x1="516.1" y1="448.9" x2="403.2" y2="493.6" stroke="#e6e6e6" stroke-width="0.5"/>
<line x1="548.5" y1="457.8" x2="551.4" y2="301.4" stroke="#e6e6e6" stroke-width="0.5"/>
<line x1="548.5" y1="457.8" x2="437.1" y2="506.1" stroke="#e6e6e6" stroke-width="0.5"/>
<line x1="580.8" y1="466.7" x2="585.6" y2="305.5" stroke="#e6e6e6" stroke-width="0.5"/>
<line x1="580.8" y1="466.7" x2="471.1" y2="518.6" stroke="#e6e6e6" stroke-width="0.5"/>
<line x1="613.1" y1="475.6" x2="620.0" y2="309.6" stroke="#e6e6e6" stroke-width="0.5"/>
<line x1="613.1" y1="475.6" x2="505.0" y2="531.1" stroke="#e6e6e6" stroke-width="0.5"/>
<line x1="499.9" y1="295.3" x2="500.0" y2="444.5" stroke="#c8c8c8" stroke-width="0.7"/>
<line x1="386.2" y1="487.3" x2="500.0" y2="444.5" stroke="#555" stroke-width="0.7"/>
<line x1="500.0" y1="444.5" x2="629.2" y2="480.0" stroke="#555" stroke-width="0.7"/>
<line x1="378.9" y1="314.9" x2="499.9" y2="295.3" stroke="#444" stroke-width="0.7"/>
<line x1="499.9" y1="295.3" x2="637.1" y2="311.6" stroke="#444" stroke-width="0.7"/>
<line x1="637.1" y1="311.6" x2="629.2" y2="480.0" stroke="#444" stroke-width="0.7"/>
<clipPath id="fcD"><polygon points="408.3,488.0 516.0,529.0 607.2,483.8 501.2,452.9"/></clipPath>
<g clip-path="url(#fcD)"><g filter="url(#heat)"><rect x="0" y="0" width="685" height="558" fill="#000"/>
<ellipse cx="449" cy="494" rx="14.3" ry="7.2" transform="rotate(0 449 494)" fill="rgb(33,33,33)"/>
<ellipse cx="462" cy="492.5" rx="11.7" ry="6.5" transform="rotate(0 462 492.5)" fill="rgb(33,33,33)"/>
<ellipse cx="464.5" cy="480" rx="13.0" ry="7.8" transform="rotate(-35 464.5 480)" fill="rgb(33,33,33)"/>
<ellipse cx="472" cy="475" rx="11.7" ry="5.2" transform="rotate(-35 472 475)" fill="rgb(33,33,33)"/>
<ellipse cx="480" cy="470" rx="14.3" ry="5.9" transform="rotate(-35 480 470)" fill="rgb(33,33,33)"/>
<ellipse cx="491" cy="463.5" rx="14.3" ry="5.2" transform="rotate(-33 491 463.5)" fill="rgb(33,33,33)"/>
<ellipse cx="500" cy="458.5" rx="9.1" ry="4.2" transform="rotate(-33 500 458.5)" fill="rgb(33,33,33)"/>
<ellipse cx="512" cy="496" rx="11.7" ry="4.5" transform="rotate(5 512 496)" fill="rgb(33,33,33)"/>
<ellipse cx="528" cy="498" rx="11.7" ry="4.5" transform="rotate(5 528 498)" fill="rgb(33,33,33)"/>
<ellipse cx="490" cy="497" rx="9.1" ry="3.9" transform="rotate(0 490 497)" fill="rgb(33,33,33)"/>
<ellipse cx="551.5" cy="498.5" rx="26.0" ry="13.7" transform="rotate(0 551.5 498.5)" fill="rgb(33,33,33)"/>
<ellipse cx="500" cy="496" rx="30" ry="5" transform="rotate(5 500 496)" fill="rgb(43,43,43)"/>
<ellipse cx="449" cy="494" rx="11.0" ry="5.5" transform="rotate(0 449 494)" fill="rgb(56,56,56)"/>
<ellipse cx="462" cy="492.5" rx="9.0" ry="5.0" transform="rotate(0 462 492.5)" fill="rgb(56,56,56)"/>
<ellipse cx="464.5" cy="480" rx="10.0" ry="6.0" transform="rotate(-35 464.5 480)" fill="rgb(56,56,56)"/>
<ellipse cx="472" cy="475" rx="9.0" ry="4.0" transform="rotate(-35 472 475)" fill="rgb(56,56,56)"/>
<ellipse cx="480" cy="470" rx="11.0" ry="4.5" transform="rotate(-35 480 470)" fill="rgb(56,56,56)"/>
<ellipse cx="491" cy="463.5" rx="11.0" ry="4.0" transform="rotate(-33 491 463.5)" fill="rgb(56,56,56)"/>
<ellipse cx="500" cy="458.5" rx="7.0" ry="3.2" transform="rotate(-33 500 458.5)" fill="rgb(56,56,56)"/>
<ellipse cx="512" cy="496" rx="9.0" ry="3.5" transform="rotate(5 512 496)" fill="rgb(56,56,56)"/>
<ellipse cx="528" cy="498" rx="9.0" ry="3.5" transform="rotate(5 528 498)" fill="rgb(56,56,56)"/>
<ellipse cx="490" cy="497" rx="7.0" ry="3.0" transform="rotate(0 490 497)" fill="rgb(56,56,56)"/>
<ellipse cx="551.5" cy="498.5" rx="20.0" ry="10.5" transform="rotate(0 551.5 498.5)" fill="rgb(56,56,56)"/>
<ellipse cx="449" cy="494" rx="9.3" ry="4.7" transform="rotate(0 449 494)" fill="rgb(91,91,91)"/>
<ellipse cx="462" cy="492.5" rx="7.6" ry="4.2" transform="rotate(0 462 492.5)" fill="rgb(91,91,91)"/>
<ellipse cx="464.5" cy="480" rx="8.5" ry="5.1" transform="rotate(-35 464.5 480)" fill="rgb(91,91,91)"/>
<ellipse cx="472" cy="475" rx="7.6" ry="3.4" transform="rotate(-35 472 475)" fill="rgb(91,91,91)"/>
<ellipse cx="480" cy="470" rx="9.3" ry="3.8" transform="rotate(-35 480 470)" fill="rgb(91,91,91)"/>
<ellipse cx="491" cy="463.5" rx="9.3" ry="3.4" transform="rotate(-33 491 463.5)" fill="rgb(91,91,91)"/>
<ellipse cx="500" cy="458.5" rx="6.0" ry="2.7" transform="rotate(-33 500 458.5)" fill="rgb(91,91,91)"/>
<ellipse cx="512" cy="496" rx="7.6" ry="3.0" transform="rotate(5 512 496)" fill="rgb(91,91,91)"/>
<ellipse cx="528" cy="498" rx="7.6" ry="3.0" transform="rotate(5 528 498)" fill="rgb(91,91,91)"/>
<ellipse cx="551.5" cy="498.5" rx="17.0" ry="8.9" transform="rotate(0 551.5 498.5)" fill="rgb(91,91,91)"/>
<ellipse cx="449" cy="494" rx="7.7" ry="3.8" transform="rotate(0 449 494)" fill="rgb(132,132,132)"/>
<ellipse cx="462" cy="492.5" rx="6.3" ry="3.5" transform="rotate(0 462 492.5)" fill="rgb(132,132,132)"/>
<ellipse cx="464.5" cy="480" rx="7.0" ry="4.2" transform="rotate(-35 464.5 480)" fill="rgb(132,132,132)"/>
<ellipse cx="472" cy="475" rx="6.3" ry="2.8" transform="rotate(-35 472 475)" fill="rgb(132,132,132)"/>
<ellipse cx="480" cy="470" rx="7.7" ry="3.1" transform="rotate(-35 480 470)" fill="rgb(132,132,132)"/>
<ellipse cx="491" cy="463.5" rx="7.7" ry="2.8" transform="rotate(-33 491 463.5)" fill="rgb(132,132,132)"/>
<ellipse cx="551.5" cy="498.5" rx="14.0" ry="7.3" transform="rotate(0 551.5 498.5)" fill="rgb(132,132,132)"/>
<ellipse cx="449" cy="494" rx="6.2" ry="3.1" transform="rotate(0 449 494)" fill="rgb(168,168,168)"/>
<ellipse cx="464.5" cy="480" rx="5.6" ry="3.4" transform="rotate(-35 464.5 480)" fill="rgb(168,168,168)"/>
<ellipse cx="551.5" cy="498.5" rx="11.2" ry="5.9" transform="rotate(0 551.5 498.5)" fill="rgb(168,168,168)"/>
<ellipse cx="464.5" cy="480" rx="4.0" ry="2.4" transform="rotate(-35 464.5 480)" fill="rgb(214,214,214)"/>
<ellipse cx="551.5" cy="498.5" rx="8.0" ry="4.2" transform="rotate(0 551.5 498.5)" fill="rgb(214,214,214)"/>
<ellipse cx="464.5" cy="480" rx="2.2" ry="1.3" transform="rotate(-35 464.5 480)" fill="rgb(249,249,249)"/>
<ellipse cx="551.5" cy="498.5" rx="4.4" ry="2.3" transform="rotate(0 551.5 498.5)" fill="rgb(249,249,249)"/>
</g>
<line x1="400.4" y1="481.9" x2="535.4" y2="530.2" stroke="#ffb0a0" stroke-opacity="0.16" stroke-width="0.7" stroke-dasharray="2 1.5"/>
<line x1="428.9" y1="471.2" x2="562.2" y2="515.9" stroke="#ffb0a0" stroke-opacity="0.16" stroke-width="0.7" stroke-dasharray="2 1.5"/>
<line x1="457.3" y1="460.6" x2="589.0" y2="501.5" stroke="#ffb0a0" stroke-opacity="0.16" stroke-width="0.7" stroke-dasharray="2 1.5"/>
<line x1="485.8" y1="449.9" x2="615.8" y2="487.2" stroke="#ffb0a0" stroke-opacity="0.16" stroke-width="0.7" stroke-dasharray="2 1.5"/>
<line x1="516.1" y1="448.9" x2="403.2" y2="493.6" stroke="#ffb0a0" stroke-opacity="0.16" stroke-width="0.7" stroke-dasharray="2 1.5"/>
<line x1="548.5" y1="457.8" x2="437.1" y2="506.1" stroke="#ffb0a0" stroke-opacity="0.16" stroke-width="0.7" stroke-dasharray="2 1.5"/>
<line x1="580.8" y1="466.7" x2="471.1" y2="518.6" stroke="#ffb0a0" stroke-opacity="0.16" stroke-width="0.7" stroke-dasharray="2 1.5"/>
<line x1="613.1" y1="475.6" x2="505.0" y2="531.1" stroke="#ffb0a0" stroke-opacity="0.16" stroke-width="0.7" stroke-dasharray="2 1.5"/>
</g>
<clipPath id="scD0"><polygon points="435.4,323.8 520.0,335.5 576.4,324.1 573.9,341.7 573.2,366.8 571.3,381.7 567.8,416.7 564.3,447.0 560.8,472.8 557.3,486.8 553.8,493.8 549.6,497.3 546.8,491.5 543.3,477.5 539.9,459.6 537.1,443.0 534.4,424.8 532.2,415.7 530.7,419.4 528.9,408.4 526.7,399.3 525.2,404.7 523.4,415.7 521.6,430.3 517.9,426.7 515.2,428.5 513.7,446.8 512.4,434.0 509.7,424.8 507.0,421.0 505.1,428.5 503.3,406.6 501.5,386.5 500.0,393.8 498.7,401.0 496.9,406.6 494.2,403.0 492.3,408.4 489.6,415.7 486.8,419.4 485.9,432.2 484.1,421.2 481.4,423.0 477.7,424.8 475.0,428.5 471.3,423.0 469.5,430.3 467.1,443.0 465.3,459.6 463.4,452.3 461.8,467.0 459.8,456.0 457.6,446.8 455.4,437.6 453.0,430.3 451.2,435.8 448.5,443.0 446.3,454.0 443.9,434.0 442.0,415.7 440.2,388.3 438.4,370.0 436.4,354.3"/></clipPath>
<g clip-path="url(#scD0)">
<rect x="435" y="322.8" width="142" height="175.5" fill="#f40000"/>
<rect x="435" y="388.9" width="1.1" height="94.7" fill="url(#rb)"/>
<rect x="435" y="483.5" width="1.1" height="40" fill="#500058"/>
<rect x="435" y="323.3" width="1.1" height="36.1" fill="url(#dk)"/>
<rect x="435" y="323.8" width="1.1" height="159.7" fill="#000" fill-opacity="0.027"/>
<rect x="436" y="388.8" width="1.1" height="94.7" fill="url(#rb)"/>
<rect x="436" y="483.5" width="1.1" height="40" fill="#500058"/>
<rect x="436" y="323.5" width="1.1" height="39.7" fill="url(#dk)"/>
<rect x="436" y="323.8" width="1.1" height="159.7" fill="#000" fill-opacity="0.044"/>
<rect x="437" y="389.1" width="1.1" height="94.5" fill="url(#rb)"/>
<rect x="437" y="483.7" width="1.1" height="40" fill="#500058"/>
<rect x="437" y="323.6" width="1.1" height="34.0" fill="url(#dk)"/>
<rect x="437" y="323.8" width="1.1" height="159.9" fill="#000" fill-opacity="0.045"/>
<rect x="438" y="388.6" width="1.1" height="94.7" fill="url(#rb)"/>
<rect x="438" y="483.4" width="1.1" height="40" fill="#500058"/>
<rect x="438" y="323.7" width="1.1" height="37.3" fill="url(#dk)"/>
<rect x="438" y="323.8" width="1.1" height="159.6" fill="#000" fill-opacity="0.021"/>
<rect x="439" y="389.2" width="1.1" height="94.5" fill="url(#rb)"/>
<rect x="439" y="483.7" width="1.1" height="40" fill="#500058"/>
<rect x="439" y="323.9" width="1.1" height="36.8" fill="url(#dk)"/>
<rect x="439" y="379.2" width="1.1" height="94.5" fill="#fff" fill-opacity="0.008"/>
<rect x="440" y="388.0" width="1.1" height="95.0" fill="url(#rb)"/>
<rect x="440" y="483.0" width="1.1" height="40" fill="#500058"/>
<rect x="440" y="324.0" width="1.1" height="32.2" fill="url(#dk)"/>
<rect x="441" y="387.0" width="1.1" height="95.4" fill="url(#rb)"/>
<rect x="441" y="482.4" width="1.1" height="40" fill="#500058"/>
<rect x="441" y="324.1" width="1.1" height="33.7" fill="url(#dk)"/>
<rect x="441" y="377.0" width="1.1" height="95.4" fill="#fff" fill-opacity="0.031"/>
<rect x="442" y="387.5" width="1.1" height="95.2" fill="url(#rb)"/>
<rect x="442" y="482.7" width="1.1" height="40" fill="#500058"/>
<rect x="442" y="324.3" width="1.1" height="34.8" fill="url(#dk)"/>
<rect x="442" y="377.5" width="1.1" height="95.2" fill="#fff" fill-opacity="0.015"/>
<rect x="443" y="388.5" width="1.1" height="94.8" fill="url(#rb)"/>
<rect x="443" y="483.3" width="1.1" height="40" fill="#500058"/>
<rect x="443" y="324.4" width="1.1" height="30.0" fill="url(#dk)"/>
<rect x="443" y="323.8" width="1.1" height="159.5" fill="#000" fill-opacity="0.021"/>
<rect x="444" y="388.2" width="1.1" height="94.9" fill="url(#rb)"/>
<rect x="444" y="483.1" width="1.1" height="40" fill="#500058"/>
<rect x="444" y="324.6" width="1.1" height="33.9" fill="url(#dk)"/>
<rect x="444" y="323.8" width="1.1" height="159.3" fill="#000" fill-opacity="0.029"/>
<rect x="445" y="388.9" width="1.1" height="94.7" fill="url(#rb)"/>
<rect x="445" y="483.5" width="1.1" height="40" fill="#500058"/>
<rect x="445" y="324.7" width="1.1" height="33.7" fill="url(#dk)"/>
<rect x="446" y="389.4" width="1.1" height="94.4" fill="url(#rb)"/>
<rect x="446" y="483.9" width="1.1" height="40" fill="#500058"/>
<rect x="446" y="324.8" width="1.1" height="30.3" fill="url(#dk)"/>
<rect x="446" y="323.8" width="1.1" height="160.1" fill="#000" fill-opacity="0.019"/>
<rect x="447" y="389.0" width="1.1" height="94.6" fill="url(#rb)"/>
<rect x="447" y="483.6" width="1.1" height="40" fill="#500058"/>
<rect x="447" y="325.0" width="1.1" height="28.4" fill="url(#dk)"/>
<rect x="447" y="323.8" width="1.1" height="159.8" fill="#000" fill-opacity="0.022"/>
<rect x="448" y="388.9" width="1.1" height="94.6" fill="url(#rb)"/>
<rect x="448" y="483.5" width="1.1" height="40" fill="#500058"/>
<rect x="448" y="325.1" width="1.1" height="37.4" fill="url(#dk)"/>
<rect x="449" y="389.5" width="1.1" height="94.4" fill="url(#rb)"/>
<rect x="449" y="483.9" width="1.1" height="40" fill="#500058"/>
<rect x="449" y="325.2" width="1.1" height="36.9" fill="url(#dk)"/>
<rect x="450" y="389.6" width="1.1" height="94.3" fill="url(#rb)"/>
<rect x="450" y="484.0" width="1.1" height="40" fill="#500058"/>
<rect x="450" y="325.4" width="1.1" height="31.5" fill="url(#dk)"/>
<rect x="450" y="323.8" width="1.1" height="160.2" fill="#000" fill-opacity="0.019"/>
<rect x="451" y="389.1" width="1.1" height="94.6" fill="url(#rb)"/>
<rect x="451" y="483.7" width="1.1" height="40" fill="#500058"/>
<rect x="451" y="325.5" width="1.1" height="32.5" fill="url(#dk)"/>
<rect x="451" y="323.8" width="1.1" height="159.9" fill="#000" fill-opacity="0.046"/>
<rect x="452" y="388.3" width="1.1" height="94.9" fill="url(#rb)"/>
<rect x="452" y="483.2" width="1.1" height="40" fill="#500058"/>
<rect x="452" y="325.7" width="1.1" height="34.4" fill="url(#dk)"/>
<rect x="452" y="323.8" width="1.1" height="159.4" fill="#000" fill-opacity="0.030"/>
<rect x="453" y="388.7" width="1.1" height="94.7" fill="url(#rb)"/>
<rect x="453" y="483.4" width="1.1" height="40" fill="#500058"/>
<rect x="453" y="325.8" width="1.1" height="32.5" fill="url(#dk)"/>
<rect x="453" y="323.8" width="1.1" height="159.6" fill="#000" fill-opacity="0.012"/>
<rect x="454" y="388.2" width="1.1" height="94.9" fill="url(#rb)"/>
<rect x="454" y="483.1" width="1.1" height="40" fill="#500058"/>
<rect x="454" y="325.9" width="1.1" height="35.4" fill="url(#dk)"/>
<rect x="454" y="323.8" width="1.1" height="159.3" fill="#000" fill-opacity="0.038"/>
<rect x="455" y="387.6" width="1.1" height="95.1" fill="url(#rb)"/>
<rect x="455" y="482.8" width="1.1" height="40" fill="#500058"/>
<rect x="455" y="326.1" width="1.1" height="39.9" fill="url(#dk)"/>
<rect x="455" y="323.8" width="1.1" height="159.0" fill="#000" fill-opacity="0.014"/>
<rect x="456" y="387.8" width="1.1" height="95.1" fill="url(#rb)"/>
<rect x="456" y="482.9" width="1.1" height="40" fill="#500058"/>
<rect x="456" y="326.2" width="1.1" height="35.7" fill="url(#dk)"/>
<rect x="457" y="389.0" width="1.1" height="94.6" fill="url(#rb)"/>
<rect x="457" y="483.6" width="1.1" height="40" fill="#500058"/>
<rect x="457" y="326.4" width="1.1" height="38.2" fill="url(#dk)"/>
<rect x="457" y="323.8" width="1.1" height="159.8" fill="#000" fill-opacity="0.033"/>
<rect x="458" y="388.1" width="1.1" height="95.0" fill="url(#rb)"/>
<rect x="458" y="483.1" width="1.1" height="40" fill="#500058"/>
<rect x="458" y="326.5" width="1.1" height="35.5" fill="url(#dk)"/>
<rect x="459" y="388.2" width="1.1" height="94.9" fill="url(#rb)"/>
<rect x="459" y="483.1" width="1.1" height="40" fill="#500058"/>
<rect x="459" y="326.6" width="1.1" height="38.0" fill="url(#dk)"/>
<rect x="459" y="323.8" width="1.1" height="159.3" fill="#000" fill-opacity="0.028"/>
<rect x="460" y="387.1" width="1.1" height="95.4" fill="url(#rb)"/>
<rect x="460" y="482.5" width="1.1" height="40" fill="#500058"/>
<rect x="460" y="326.8" width="1.1" height="40.1" fill="url(#dk)"/>
<rect x="460" y="323.8" width="1.1" height="158.7" fill="#000" fill-opacity="0.054"/>
<rect x="461" y="387.7" width="1.1" height="95.1" fill="url(#rb)"/>
<rect x="461" y="482.8" width="1.1" height="40" fill="#500058"/>
<rect x="461" y="326.9" width="1.1" height="33.5" fill="url(#dk)"/>
<rect x="461" y="323.8" width="1.1" height="159.0" fill="#000" fill-opacity="0.013"/>
<rect x="462" y="386.7" width="1.1" height="95.5" fill="url(#rb)"/>
<rect x="462" y="482.2" width="1.1" height="40" fill="#500058"/>
<rect x="462" y="327.0" width="1.1" height="32.2" fill="url(#dk)"/>
<rect x="462" y="323.8" width="1.1" height="158.4" fill="#000" fill-opacity="0.048"/>
<rect x="463" y="387.6" width="1.1" height="95.2" fill="url(#rb)"/>
<rect x="463" y="482.8" width="1.1" height="40" fill="#500058"/>
<rect x="463" y="327.2" width="1.1" height="36.9" fill="url(#dk)"/>
<rect x="463" y="323.8" width="1.1" height="159.0" fill="#000" fill-opacity="0.057"/>
<rect x="464" y="388.7" width="1.1" height="94.7" fill="url(#rb)"/>
<rect x="464" y="483.4" width="1.1" height="40" fill="#500058"/>
<rect x="464" y="327.3" width="1.1" height="38.6" fill="url(#dk)"/>
<rect x="464" y="323.8" width="1.1" height="159.6" fill="#000" fill-opacity="0.045"/>
<rect x="465" y="388.6" width="1.1" height="94.7" fill="url(#rb)"/>
<rect x="465" y="483.4" width="1.1" height="40" fill="#500058"/>
<rect x="465" y="327.5" width="1.1" height="40.4" fill="url(#dk)"/>
<rect x="465" y="323.8" width="1.1" height="159.6" fill="#000" fill-opacity="0.036"/>
<rect x="466" y="388.7" width="1.1" height="94.7" fill="url(#rb)"/>
<rect x="466" y="483.4" width="1.1" height="40" fill="#500058"/>
<rect x="466" y="327.6" width="1.1" height="35.7" fill="url(#dk)"/>
<rect x="466" y="323.8" width="1.1" height="159.6" fill="#000" fill-opacity="0.038"/>
<rect x="467" y="388.3" width="1.1" height="94.9" fill="url(#rb)"/>
<rect x="467" y="483.2" width="1.1" height="40" fill="#500058"/>
<rect x="467" y="327.7" width="1.1" height="39.9" fill="url(#dk)"/>
<rect x="467" y="378.3" width="1.1" height="94.9" fill="#fff" fill-opacity="0.012"/>
<rect x="468" y="387.4" width="1.1" height="95.2" fill="url(#rb)"/>
<rect x="468" y="482.7" width="1.1" height="40" fill="#500058"/>
<rect x="468" y="327.9" width="1.1" height="33.6" fill="url(#dk)"/>
<rect x="468" y="323.8" width="1.1" height="158.9" fill="#000" fill-opacity="0.017"/>
<rect x="469" y="388.6" width="1.1" height="94.7" fill="url(#rb)"/>
<rect x="469" y="483.4" width="1.1" height="40" fill="#500058"/>
<rect x="469" y="328.0" width="1.1" height="37.9" fill="url(#dk)"/>
<rect x="470" y="389.0" width="1.1" height="94.6" fill="url(#rb)"/>
<rect x="470" y="483.6" width="1.1" height="40" fill="#500058"/>
<rect x="470" y="328.2" width="1.1" height="41.4" fill="url(#dk)"/>
<rect x="471" y="388.0" width="1.1" height="95.0" fill="url(#rb)"/>
<rect x="471" y="483.0" width="1.1" height="40" fill="#500058"/>
<rect x="471" y="328.3" width="1.1" height="37.4" fill="url(#dk)"/>
<rect x="472" y="387.6" width="1.1" height="95.2" fill="url(#rb)"/>
<rect x="472" y="482.8" width="1.1" height="40" fill="#500058"/>
<rect x="472" y="328.4" width="1.1" height="37.1" fill="url(#dk)"/>
<rect x="472" y="323.8" width="1.1" height="159.0" fill="#000" fill-opacity="0.011"/>
<rect x="473" y="388.7" width="1.1" height="94.7" fill="url(#rb)"/>
<rect x="473" y="483.4" width="1.1" height="40" fill="#500058"/>
<rect x="473" y="328.6" width="1.1" height="32.7" fill="url(#dk)"/>
<rect x="473" y="323.8" width="1.1" height="159.6" fill="#000" fill-opacity="0.013"/>
<rect x="474" y="387.4" width="1.1" height="95.3" fill="url(#rb)"/>
<rect x="474" y="482.6" width="1.1" height="40" fill="#500058"/>
<rect x="474" y="328.7" width="1.1" height="31.4" fill="url(#dk)"/>
<rect x="474" y="323.8" width="1.1" height="158.8" fill="#000" fill-opacity="0.038"/>
<rect x="475" y="386.8" width="1.1" height="92.6" fill="url(#rb)"/>
<rect x="475" y="479.4" width="1.1" height="40" fill="#500058"/>
<rect x="475" y="328.8" width="1.1" height="40.3" fill="url(#dk)"/>
<rect x="475" y="323.8" width="1.1" height="155.6" fill="#000" fill-opacity="0.017"/>
<rect x="476" y="383.9" width="1.1" height="88.0" fill="url(#rb)"/>
<rect x="476" y="471.8" width="1.1" height="40" fill="#500058"/>
<rect x="476" y="329.0" width="1.1" height="38.1" fill="url(#dk)"/>
<rect x="476" y="323.8" width="1.1" height="148.0" fill="#000" fill-opacity="0.019"/>
<rect x="477" y="383.4" width="1.1" height="82.3" fill="url(#rb)"/>
<rect x="477" y="465.7" width="1.1" height="40" fill="#500058"/>
<rect x="477" y="329.1" width="1.1" height="44.2" fill="url(#dk)"/>
<rect x="478" y="381.0" width="1.1" height="77.5" fill="url(#rb)"/>
<rect x="478" y="458.5" width="1.1" height="40" fill="#500058"/>
<rect x="478" y="329.3" width="1.1" height="36.6" fill="url(#dk)"/>
<rect x="478" y="323.8" width="1.1" height="134.7" fill="#000" fill-opacity="0.019"/>
<rect x="479" y="378.4" width="1.1" height="72.8" fill="url(#rb)"/>
<rect x="479" y="451.1" width="1.1" height="40" fill="#500058"/>
<rect x="479" y="329.4" width="1.1" height="33.8" fill="url(#dk)"/>
<rect x="479" y="368.4" width="1.1" height="72.8" fill="#fff" fill-opacity="0.028"/>
<rect x="480" y="376.6" width="1.1" height="70.6" fill="url(#rb)"/>
<rect x="480" y="447.2" width="1.1" height="40" fill="#500058"/>
<rect x="480" y="329.5" width="1.1" height="38.9" fill="url(#dk)"/>
<rect x="480" y="366.6" width="1.1" height="70.6" fill="#fff" fill-opacity="0.046"/>
<rect x="481" y="378.3" width="1.1" height="69.9" fill="url(#rb)"/>
<rect x="481" y="448.2" width="1.1" height="40" fill="#500058"/>
<rect x="481" y="329.7" width="1.1" height="34.2" fill="url(#dk)"/>
<rect x="482" y="377.3" width="1.1" height="70.3" fill="url(#rb)"/>
<rect x="482" y="447.6" width="1.1" height="40" fill="#500058"/>
<rect x="482" y="329.8" width="1.1" height="31.3" fill="url(#dk)"/>
<rect x="482" y="323.8" width="1.1" height="123.8" fill="#000" fill-opacity="0.022"/>
<rect x="483" y="377.1" width="1.1" height="70.4" fill="url(#rb)"/>
<rect x="483" y="447.5" width="1.1" height="40" fill="#500058"/>
<rect x="483" y="330.0" width="1.1" height="38.7" fill="url(#dk)"/>
<rect x="483" y="367.1" width="1.1" height="70.4" fill="#fff" fill-opacity="0.014"/>
<rect x="484" y="376.6" width="1.1" height="70.6" fill="url(#rb)"/>
<rect x="484" y="447.1" width="1.1" height="40" fill="#500058"/>
<rect x="484" y="330.1" width="1.1" height="42.6" fill="url(#dk)"/>
<rect x="484" y="323.8" width="1.1" height="123.3" fill="#000" fill-opacity="0.010"/>
<rect x="485" y="378.1" width="1.1" height="70.0" fill="url(#rb)"/>
<rect x="485" y="448.0" width="1.1" height="40" fill="#500058"/>
<rect x="485" y="330.2" width="1.1" height="43.9" fill="url(#dk)"/>
<rect x="485" y="368.1" width="1.1" height="70.0" fill="#fff" fill-opacity="0.027"/>
<rect x="486" y="378.3" width="1.1" height="69.9" fill="url(#rb)"/>
<rect x="486" y="448.2" width="1.1" height="40" fill="#500058"/>
<rect x="486" y="330.4" width="1.1" height="44.4" fill="url(#dk)"/>
<rect x="486" y="368.3" width="1.1" height="69.9" fill="#fff" fill-opacity="0.019"/>
<rect x="487" y="379.1" width="1.1" height="69.6" fill="url(#rb)"/>
<rect x="487" y="448.7" width="1.1" height="40" fill="#500058"/>
<rect x="487" y="330.5" width="1.1" height="39.1" fill="url(#dk)"/>
<rect x="487" y="323.8" width="1.1" height="124.9" fill="#000" fill-opacity="0.030"/>
<rect x="488" y="379.0" width="1.1" height="69.6" fill="url(#rb)"/>
<rect x="488" y="448.6" width="1.1" height="40" fill="#500058"/>
<rect x="488" y="330.6" width="1.1" height="33.8" fill="url(#dk)"/>
<rect x="488" y="369.0" width="1.1" height="69.6" fill="#fff" fill-opacity="0.023"/>
<rect x="489" y="378.8" width="1.1" height="69.7" fill="url(#rb)"/>
<rect x="489" y="448.5" width="1.1" height="40" fill="#500058"/>
<rect x="489" y="330.8" width="1.1" height="41.4" fill="url(#dk)"/>
<rect x="489" y="368.8" width="1.1" height="69.7" fill="#fff" fill-opacity="0.046"/>
<rect x="490" y="378.0" width="1.1" height="70.0" fill="url(#rb)"/>
<rect x="490" y="448.0" width="1.1" height="40" fill="#500058"/>
<rect x="490" y="330.9" width="1.1" height="43.9" fill="url(#dk)"/>
<rect x="490" y="368.0" width="1.1" height="70.0" fill="#fff" fill-opacity="0.053"/>
<rect x="491" y="378.8" width="1.1" height="69.7" fill="url(#rb)"/>
<rect x="491" y="448.5" width="1.1" height="40" fill="#500058"/>
<rect x="491" y="331.1" width="1.1" height="42.0" fill="url(#dk)"/>
<rect x="491" y="368.8" width="1.1" height="69.7" fill="#fff" fill-opacity="0.066"/>
<rect x="492" y="378.1" width="1.1" height="70.0" fill="url(#rb)"/>
<rect x="492" y="448.1" width="1.1" height="40" fill="#500058"/>
<rect x="492" y="331.2" width="1.1" height="42.4" fill="url(#dk)"/>
<rect x="492" y="368.1" width="1.1" height="70.0" fill="#fff" fill-opacity="0.044"/>
<rect x="493" y="378.4" width="1.1" height="69.8" fill="url(#rb)"/>
<rect x="493" y="448.3" width="1.1" height="40" fill="#500058"/>
<rect x="493" y="331.3" width="1.1" height="37.3" fill="url(#dk)"/>
<rect x="494" y="377.9" width="1.1" height="70.0" fill="url(#rb)"/>
<rect x="494" y="448.0" width="1.1" height="40" fill="#500058"/>
<rect x="494" y="331.5" width="1.1" height="41.3" fill="url(#dk)"/>
<rect x="495" y="377.8" width="1.1" height="70.1" fill="url(#rb)"/>
<rect x="495" y="447.9" width="1.1" height="40" fill="#500058"/>
<rect x="495" y="331.6" width="1.1" height="39.9" fill="url(#dk)"/>
<rect x="495" y="323.8" width="1.1" height="124.1" fill="#000" fill-opacity="0.033"/>
<rect x="496" y="378.9" width="1.1" height="69.7" fill="url(#rb)"/>
<rect x="496" y="448.5" width="1.1" height="40" fill="#500058"/>
<rect x="496" y="331.8" width="1.1" height="44.5" fill="url(#dk)"/>
<rect x="496" y="323.8" width="1.1" height="124.7" fill="#000" fill-opacity="0.026"/>
<rect x="497" y="378.0" width="1.1" height="70.0" fill="url(#rb)"/>
<rect x="497" y="448.0" width="1.1" height="40" fill="#500058"/>
<rect x="497" y="331.9" width="1.1" height="37.4" fill="url(#dk)"/>
<rect x="497" y="323.8" width="1.1" height="124.2" fill="#000" fill-opacity="0.061"/>
<rect x="498" y="378.4" width="1.1" height="69.8" fill="url(#rb)"/>
<rect x="498" y="448.3" width="1.1" height="40" fill="#500058"/>
<rect x="498" y="332.0" width="1.1" height="44.0" fill="url(#dk)"/>
<rect x="498" y="323.8" width="1.1" height="124.5" fill="#000" fill-opacity="0.021"/>
<rect x="499" y="380.3" width="1.1" height="70.7" fill="url(#rb)"/>
<rect x="499" y="451.0" width="1.1" height="40" fill="#500058"/>
<rect x="499" y="332.2" width="1.1" height="49.1" fill="url(#dk)"/>
<rect x="499" y="323.8" width="1.1" height="127.2" fill="#000" fill-opacity="0.044"/>
<rect x="500" y="384.1" width="1.1" height="72.4" fill="url(#rb)"/>
<rect x="500" y="456.5" width="1.1" height="40" fill="#500058"/>
<rect x="500" y="332.3" width="1.1" height="42.8" fill="url(#dk)"/>
<rect x="500" y="323.8" width="1.1" height="132.7" fill="#000" fill-opacity="0.020"/>
<rect x="501" y="388.5" width="1.1" height="73.9" fill="url(#rb)"/>
<rect x="501" y="462.4" width="1.1" height="40" fill="#500058"/>
<rect x="501" y="332.4" width="1.1" height="41.0" fill="url(#dk)"/>
<rect x="501" y="323.8" width="1.1" height="138.6" fill="#000" fill-opacity="0.030"/>
<rect x="502" y="391.9" width="1.1" height="75.8" fill="url(#rb)"/>
<rect x="502" y="467.7" width="1.1" height="40" fill="#500058"/>
<rect x="502" y="332.6" width="1.1" height="47.0" fill="url(#dk)"/>
<rect x="502" y="323.8" width="1.1" height="143.9" fill="#000" fill-opacity="0.047"/>
<rect x="503" y="392.9" width="1.1" height="77.1" fill="url(#rb)"/>
<rect x="503" y="470.0" width="1.1" height="40" fill="#500058"/>
<rect x="503" y="332.7" width="1.1" height="38.1" fill="url(#dk)"/>
<rect x="504" y="392.8" width="1.1" height="77.2" fill="url(#rb)"/>
<rect x="504" y="470.0" width="1.1" height="40" fill="#500058"/>
<rect x="504" y="332.9" width="1.1" height="41.8" fill="url(#dk)"/>
<rect x="504" y="323.8" width="1.1" height="146.2" fill="#000" fill-opacity="0.034"/>
<rect x="505" y="393.7" width="1.1" height="76.9" fill="url(#rb)"/>
<rect x="505" y="470.6" width="1.1" height="40" fill="#500058"/>
<rect x="505" y="333.0" width="1.1" height="36.4" fill="url(#dk)"/>
<rect x="505" y="323.8" width="1.1" height="146.8" fill="#000" fill-opacity="0.052"/>
<rect x="506" y="394.1" width="1.1" height="76.8" fill="url(#rb)"/>
<rect x="506" y="470.9" width="1.1" height="40" fill="#500058"/>
<rect x="506" y="333.1" width="1.1" height="44.9" fill="url(#dk)"/>
<rect x="506" y="323.8" width="1.1" height="147.1" fill="#000" fill-opacity="0.038"/>
<rect x="507" y="393.0" width="1.1" height="77.3" fill="url(#rb)"/>
<rect x="507" y="470.3" width="1.1" height="40" fill="#500058"/>
<rect x="507" y="333.3" width="1.1" height="48.7" fill="url(#dk)"/>
<rect x="507" y="323.8" width="1.1" height="146.5" fill="#000" fill-opacity="0.052"/>
<rect x="508" y="393.4" width="1.1" height="77.2" fill="url(#rb)"/>
<rect x="508" y="470.6" width="1.1" height="40" fill="#500058"/>
<rect x="508" y="333.4" width="1.1" height="51.3" fill="url(#dk)"/>
<rect x="508" y="323.8" width="1.1" height="146.8" fill="#000" fill-opacity="0.017"/>
<rect x="509" y="392.3" width="1.1" height="77.7" fill="url(#rb)"/>
<rect x="509" y="470.0" width="1.1" height="40" fill="#500058"/>
<rect x="509" y="333.5" width="1.1" height="47.8" fill="url(#dk)"/>
<rect x="509" y="323.8" width="1.1" height="146.2" fill="#000" fill-opacity="0.039"/>
<rect x="510" y="392.0" width="1.1" height="77.9" fill="url(#rb)"/>
<rect x="510" y="469.9" width="1.1" height="40" fill="#500058"/>
<rect x="510" y="333.7" width="1.1" height="48.9" fill="url(#dk)"/>
<rect x="510" y="323.8" width="1.1" height="146.1" fill="#000" fill-opacity="0.065"/>
<rect x="511" y="391.9" width="1.1" height="78.0" fill="url(#rb)"/>
<rect x="511" y="469.9" width="1.1" height="40" fill="#500058"/>
<rect x="511" y="333.8" width="1.1" height="47.6" fill="url(#dk)"/>
<rect x="511" y="323.8" width="1.1" height="146.1" fill="#000" fill-opacity="0.056"/>
<rect x="512" y="392.4" width="1.1" height="77.9" fill="url(#rb)"/>
<rect x="512" y="470.3" width="1.1" height="40" fill="#500058"/>
<rect x="512" y="334.0" width="1.1" height="41.6" fill="url(#dk)"/>
<rect x="513" y="393.2" width="1.1" height="77.6" fill="url(#rb)"/>
<rect x="513" y="470.9" width="1.1" height="40" fill="#500058"/>
<rect x="513" y="334.1" width="1.1" height="47.0" fill="url(#dk)"/>
<rect x="514" y="392.2" width="1.1" height="78.1" fill="url(#rb)"/>
<rect x="514" y="470.3" width="1.1" height="40" fill="#500058"/>
<rect x="514" y="334.2" width="1.1" height="49.7" fill="url(#dk)"/>
<rect x="514" y="323.8" width="1.1" height="146.5" fill="#000" fill-opacity="0.027"/>
<rect x="515" y="392.0" width="1.1" height="78.3" fill="url(#rb)"/>
<rect x="515" y="470.3" width="1.1" height="40" fill="#500058"/>
<rect x="515" y="334.4" width="1.1" height="47.9" fill="url(#dk)"/>
<rect x="515" y="323.8" width="1.1" height="146.5" fill="#000" fill-opacity="0.055"/>
<rect x="516" y="393.4" width="1.1" height="77.8" fill="url(#rb)"/>
<rect x="516" y="471.1" width="1.1" height="40" fill="#500058"/>
<rect x="516" y="334.5" width="1.1" height="46.4" fill="url(#dk)"/>
<rect x="516" y="323.8" width="1.1" height="147.3" fill="#000" fill-opacity="0.030"/>
<rect x="517" y="393.4" width="1.1" height="77.9" fill="url(#rb)"/>
<rect x="517" y="471.2" width="1.1" height="40" fill="#500058"/>
<rect x="517" y="334.7" width="1.1" height="41.2" fill="url(#dk)"/>
<rect x="517" y="383.4" width="1.1" height="77.9" fill="#fff" fill-opacity="0.009"/>
<rect x="518" y="392.5" width="1.1" height="78.3" fill="url(#rb)"/>
<rect x="518" y="470.8" width="1.1" height="40" fill="#500058"/>
<rect x="518" y="334.8" width="1.1" height="46.0" fill="url(#dk)"/>
<rect x="518" y="382.5" width="1.1" height="78.3" fill="#fff" fill-opacity="0.016"/>
<rect x="519" y="392.9" width="1.1" height="78.2" fill="url(#rb)"/>
<rect x="519" y="471.1" width="1.1" height="40" fill="#500058"/>
<rect x="519" y="334.9" width="1.1" height="44.1" fill="url(#dk)"/>
<rect x="519" y="382.9" width="1.1" height="78.2" fill="#fff" fill-opacity="0.008"/>
<rect x="520" y="392.2" width="1.1" height="78.5" fill="url(#rb)"/>
<rect x="520" y="470.7" width="1.1" height="40" fill="#500058"/>
<rect x="520" y="334.9" width="1.1" height="38.4" fill="url(#dk)"/>
<rect x="520" y="323.8" width="1.1" height="146.9" fill="#000" fill-opacity="0.042"/>
<rect x="521" y="392.3" width="1.1" height="78.6" fill="url(#rb)"/>
<rect x="521" y="470.9" width="1.1" height="40" fill="#500058"/>
<rect x="521" y="334.7" width="1.1" height="36.8" fill="url(#dk)"/>
<rect x="521" y="323.8" width="1.1" height="147.1" fill="#000" fill-opacity="0.038"/>
<rect x="522" y="393.3" width="1.1" height="78.2" fill="url(#rb)"/>
<rect x="522" y="471.5" width="1.1" height="40" fill="#500058"/>
<rect x="522" y="334.5" width="1.1" height="36.8" fill="url(#dk)"/>
<rect x="522" y="323.8" width="1.1" height="147.7" fill="#000" fill-opacity="0.032"/>
<rect x="523" y="392.8" width="1.1" height="78.5" fill="url(#rb)"/>
<rect x="523" y="471.3" width="1.1" height="40" fill="#500058"/>
<rect x="523" y="334.3" width="1.1" height="42.0" fill="url(#dk)"/>
<rect x="523" y="382.8" width="1.1" height="78.5" fill="#fff" fill-opacity="0.021"/>
<rect x="524" y="391.9" width="1.1" height="78.9" fill="url(#rb)"/>
<rect x="524" y="470.8" width="1.1" height="40" fill="#500058"/>
<rect x="524" y="334.1" width="1.1" height="51.1" fill="url(#dk)"/>
<rect x="524" y="323.8" width="1.1" height="147.0" fill="#000" fill-opacity="0.019"/>
<rect x="525" y="392.4" width="1.1" height="78.8" fill="url(#rb)"/>
<rect x="525" y="471.2" width="1.1" height="40" fill="#500058"/>
<rect x="525" y="333.9" width="1.1" height="49.3" fill="url(#dk)"/>
<rect x="525" y="382.4" width="1.1" height="78.8" fill="#fff" fill-opacity="0.009"/>
<rect x="526" y="393.3" width="1.1" height="78.5" fill="url(#rb)"/>
<rect x="526" y="471.8" width="1.1" height="40" fill="#500058"/>
<rect x="526" y="333.7" width="1.1" height="46.6" fill="url(#dk)"/>
<rect x="526" y="323.8" width="1.1" height="148.0" fill="#000" fill-opacity="0.036"/>
<rect x="527" y="393.7" width="1.1" height="78.4" fill="url(#rb)"/>
<rect x="527" y="472.1" width="1.1" height="40" fill="#500058"/>
<rect x="527" y="333.5" width="1.1" height="51.1" fill="url(#dk)"/>
<rect x="527" y="323.8" width="1.1" height="148.3" fill="#000" fill-opacity="0.066"/>
<rect x="528" y="392.8" width="1.1" height="78.8" fill="url(#rb)"/>
<rect x="528" y="471.7" width="1.1" height="40" fill="#500058"/>
<rect x="528" y="333.3" width="1.1" height="42.0" fill="url(#dk)"/>
<rect x="528" y="323.8" width="1.1" height="147.9" fill="#000" fill-opacity="0.011"/>
<rect x="529" y="392.2" width="1.1" height="79.1" fill="url(#rb)"/>
<rect x="529" y="471.4" width="1.1" height="40" fill="#500058"/>
<rect x="529" y="333.1" width="1.1" height="38.7" fill="url(#dk)"/>
<rect x="529" y="382.2" width="1.1" height="79.1" fill="#fff" fill-opacity="0.029"/>
<rect x="530" y="392.7" width="1.1" height="79.0" fill="url(#rb)"/>
<rect x="530" y="471.7" width="1.1" height="40" fill="#500058"/>
<rect x="530" y="332.9" width="1.1" height="48.6" fill="url(#dk)"/>
<rect x="530" y="382.7" width="1.1" height="79.0" fill="#fff" fill-opacity="0.021"/>
<rect x="531" y="393.9" width="1.1" height="78.6" fill="url(#rb)"/>
<rect x="531" y="472.5" width="1.1" height="40" fill="#500058"/>
<rect x="531" y="332.7" width="1.1" height="53.8" fill="url(#dk)"/>
<rect x="531" y="383.9" width="1.1" height="78.6" fill="#fff" fill-opacity="0.046"/>
<rect x="532" y="394.0" width="1.1" height="80.7" fill="url(#rb)"/>
<rect x="532" y="474.7" width="1.1" height="40" fill="#500058"/>
<rect x="532" y="332.5" width="1.1" height="48.8" fill="url(#dk)"/>
<rect x="532" y="384.0" width="1.1" height="80.7" fill="#fff" fill-opacity="0.057"/>
<rect x="533" y="395.3" width="1.1" height="84.5" fill="url(#rb)"/>
<rect x="533" y="479.8" width="1.1" height="40" fill="#500058"/>
<rect x="533" y="332.3" width="1.1" height="44.6" fill="url(#dk)"/>
<rect x="533" y="385.3" width="1.1" height="84.5" fill="#fff" fill-opacity="0.029"/>
<rect x="534" y="395.6" width="1.1" height="88.6" fill="url(#rb)"/>
<rect x="534" y="484.3" width="1.1" height="40" fill="#500058"/>
<rect x="534" y="332.1" width="1.1" height="53.0" fill="url(#dk)"/>
<rect x="535" y="395.6" width="1.1" height="92.9" fill="url(#rb)"/>
<rect x="535" y="488.5" width="1.1" height="40" fill="#500058"/>
<rect x="535" y="331.9" width="1.1" height="49.5" fill="url(#dk)"/>
<rect x="535" y="385.6" width="1.1" height="92.9" fill="#fff" fill-opacity="0.029"/>
<rect x="536" y="397.2" width="1.1" height="96.5" fill="url(#rb)"/>
<rect x="536" y="493.7" width="1.1" height="40" fill="#500058"/>
<rect x="536" y="331.7" width="1.1" height="56.0" fill="url(#dk)"/>
<rect x="536" y="387.2" width="1.1" height="96.5" fill="#fff" fill-opacity="0.039"/>
<rect x="537" y="396.2" width="1.1" height="101.2" fill="url(#rb)"/>
<rect x="537" y="497.4" width="1.1" height="40" fill="#500058"/>
<rect x="537" y="331.5" width="1.1" height="48.1" fill="url(#dk)"/>
<rect x="537" y="386.2" width="1.1" height="101.2" fill="#fff" fill-opacity="0.035"/>
<rect x="538" y="397.7" width="1.1" height="102.7" fill="url(#rb)"/>
<rect x="538" y="500.4" width="1.1" height="40" fill="#500058"/>
<rect x="538" y="331.3" width="1.1" height="54.4" fill="url(#dk)"/>
<rect x="539" y="396.3" width="1.1" height="103.3" fill="url(#rb)"/>
<rect x="539" y="499.6" width="1.1" height="40" fill="#500058"/>
<rect x="539" y="331.1" width="1.1" height="55.5" fill="url(#dk)"/>
<rect x="539" y="323.8" width="1.1" height="175.8" fill="#000" fill-opacity="0.024"/>
<rect x="540" y="397.0" width="1.1" height="103.0" fill="url(#rb)"/>
<rect x="540" y="500.0" width="1.1" height="40" fill="#500058"/>
<rect x="540" y="330.9" width="1.1" height="59.2" fill="url(#dk)"/>
<rect x="540" y="387.0" width="1.1" height="103.0" fill="#fff" fill-opacity="0.023"/>
<rect x="541" y="396.2" width="1.1" height="103.3" fill="url(#rb)"/>
<rect x="541" y="499.5" width="1.1" height="40" fill="#500058"/>
<rect x="541" y="330.7" width="1.1" height="57.4" fill="url(#dk)"/>
<rect x="541" y="323.8" width="1.1" height="175.7" fill="#000" fill-opacity="0.025"/>
<rect x="542" y="397.0" width="1.1" height="103.0" fill="url(#rb)"/>
<rect x="542" y="500.0" width="1.1" height="40" fill="#500058"/>
<rect x="542" y="330.5" width="1.1" height="49.8" fill="url(#dk)"/>
<rect x="542" y="323.8" width="1.1" height="176.2" fill="#000" fill-opacity="0.024"/>
<rect x="543" y="397.6" width="1.1" height="102.8" fill="url(#rb)"/>
<rect x="543" y="500.3" width="1.1" height="40" fill="#500058"/>
<rect x="543" y="330.2" width="1.1" height="43.6" fill="url(#dk)"/>
<rect x="544" y="396.7" width="1.1" height="103.1" fill="url(#rb)"/>
<rect x="544" y="499.8" width="1.1" height="40" fill="#500058"/>
<rect x="544" y="330.0" width="1.1" height="41.1" fill="url(#dk)"/>
<rect x="545" y="396.1" width="1.1" height="103.3" fill="url(#rb)"/>
<rect x="545" y="499.5" width="1.1" height="40" fill="#500058"/>
<rect x="545" y="329.8" width="1.1" height="41.8" fill="url(#dk)"/>
<rect x="545" y="386.1" width="1.1" height="103.3" fill="#fff" fill-opacity="0.029"/>
<rect x="546" y="397.0" width="1.1" height="103.0" fill="url(#rb)"/>
<rect x="546" y="500.0" width="1.1" height="40" fill="#500058"/>
<rect x="546" y="329.6" width="1.1" height="38.7" fill="url(#dk)"/>
<rect x="547" y="396.3" width="1.1" height="103.3" fill="url(#rb)"/>
<rect x="547" y="499.6" width="1.1" height="40" fill="#500058"/>
<rect x="547" y="329.4" width="1.1" height="37.7" fill="url(#dk)"/>
<rect x="547" y="323.8" width="1.1" height="175.8" fill="#000" fill-opacity="0.041"/>
<rect x="548" y="396.0" width="1.1" height="103.4" fill="url(#rb)"/>
<rect x="548" y="499.4" width="1.1" height="40" fill="#500058"/>
<rect x="548" y="329.2" width="1.1" height="51.3" fill="url(#dk)"/>
<rect x="548" y="323.8" width="1.1" height="175.6" fill="#000" fill-opacity="0.060"/>
<rect x="549" y="397.4" width="1.1" height="102.8" fill="url(#rb)"/>
<rect x="549" y="500.2" width="1.1" height="40" fill="#500058"/>
<rect x="549" y="329.0" width="1.1" height="45.2" fill="url(#dk)"/>
<rect x="549" y="323.8" width="1.1" height="176.4" fill="#000" fill-opacity="0.031"/>
<rect x="550" y="396.3" width="1.1" height="103.3" fill="url(#rb)"/>
<rect x="550" y="499.6" width="1.1" height="40" fill="#500058"/>
<rect x="550" y="328.8" width="1.1" height="54.9" fill="url(#dk)"/>
<rect x="550" y="323.8" width="1.1" height="175.8" fill="#000" fill-opacity="0.051"/>
<rect x="551" y="396.9" width="1.1" height="103.0" fill="url(#rb)"/>
<rect x="551" y="500.0" width="1.1" height="40" fill="#500058"/>
<rect x="551" y="328.6" width="1.1" height="51.9" fill="url(#dk)"/>
<rect x="551" y="323.8" width="1.1" height="176.2" fill="#000" fill-opacity="0.015"/>
<rect x="552" y="397.7" width="1.1" height="102.7" fill="url(#rb)"/>
<rect x="552" y="500.4" width="1.1" height="40" fill="#500058"/>
<rect x="552" y="328.4" width="1.1" height="51.0" fill="url(#dk)"/>
<rect x="552" y="323.8" width="1.1" height="176.6" fill="#000" fill-opacity="0.022"/>
<rect x="553" y="396.6" width="1.1" height="103.2" fill="url(#rb)"/>
<rect x="553" y="499.7" width="1.1" height="40" fill="#500058"/>
<rect x="553" y="328.2" width="1.1" height="46.7" fill="url(#dk)"/>
<rect x="553" y="386.6" width="1.1" height="103.2" fill="#fff" fill-opacity="0.024"/>
<rect x="554" y="397.2" width="1.1" height="102.9" fill="url(#rb)"/>
<rect x="554" y="500.1" width="1.1" height="40" fill="#500058"/>
<rect x="554" y="328.0" width="1.1" height="50.1" fill="url(#dk)"/>
<rect x="554" y="387.2" width="1.1" height="102.9" fill="#fff" fill-opacity="0.042"/>
<rect x="555" y="397.9" width="1.1" height="102.6" fill="url(#rb)"/>
<rect x="555" y="500.6" width="1.1" height="40" fill="#500058"/>
<rect x="555" y="327.8" width="1.1" height="47.1" fill="url(#dk)"/>
<rect x="555" y="387.9" width="1.1" height="102.6" fill="#fff" fill-opacity="0.032"/>
<rect x="556" y="396.7" width="1.1" height="103.1" fill="url(#rb)"/>
<rect x="556" y="499.8" width="1.1" height="40" fill="#500058"/>
<rect x="556" y="327.6" width="1.1" height="45.9" fill="url(#dk)"/>
<rect x="557" y="396.5" width="1.1" height="103.2" fill="url(#rb)"/>
<rect x="557" y="499.7" width="1.1" height="40" fill="#500058"/>
<rect x="557" y="327.4" width="1.1" height="43.8" fill="url(#dk)"/>
<rect x="558" y="396.3" width="1.1" height="103.3" fill="url(#rb)"/>
<rect x="558" y="499.6" width="1.1" height="40" fill="#500058"/>
<rect x="558" y="327.2" width="1.1" height="54.8" fill="url(#dk)"/>
<rect x="558" y="386.3" width="1.1" height="103.3" fill="#fff" fill-opacity="0.028"/>
<rect x="559" y="397.7" width="1.1" height="102.7" fill="url(#rb)"/>
<rect x="559" y="500.4" width="1.1" height="40" fill="#500058"/>
<rect x="559" y="327.0" width="1.1" height="46.2" fill="url(#dk)"/>
<rect x="559" y="323.8" width="1.1" height="176.6" fill="#000" fill-opacity="0.017"/>
<rect x="560" y="397.7" width="1.1" height="102.7" fill="url(#rb)"/>
<rect x="560" y="500.4" width="1.1" height="40" fill="#500058"/>
<rect x="560" y="326.8" width="1.1" height="44.9" fill="url(#dk)"/>
<rect x="561" y="396.9" width="1.1" height="103.0" fill="url(#rb)"/>
<rect x="561" y="499.9" width="1.1" height="40" fill="#500058"/>
<rect x="561" y="326.6" width="1.1" height="45.2" fill="url(#dk)"/>
<rect x="561" y="386.9" width="1.1" height="103.0" fill="#fff" fill-opacity="0.019"/>
<rect x="562" y="396.6" width="1.1" height="103.1" fill="url(#rb)"/>
<rect x="562" y="499.8" width="1.1" height="40" fill="#500058"/>
<rect x="562" y="326.4" width="1.1" height="57.3" fill="url(#dk)"/>
<rect x="562" y="323.8" width="1.1" height="176.0" fill="#000" fill-opacity="0.034"/>
<rect x="563" y="397.8" width="1.1" height="102.7" fill="url(#rb)"/>
<rect x="563" y="500.5" width="1.1" height="40" fill="#500058"/>
<rect x="563" y="326.2" width="1.1" height="48.3" fill="url(#dk)"/>
<rect x="564" y="398.3" width="1.1" height="102.5" fill="url(#rb)"/>
<rect x="564" y="500.8" width="1.1" height="40" fill="#500058"/>
<rect x="564" y="326.0" width="1.1" height="43.6" fill="url(#dk)"/>
<rect x="564" y="323.8" width="1.1" height="177.0" fill="#000" fill-opacity="0.022"/>
<rect x="565" y="397.2" width="1.1" height="102.9" fill="url(#rb)"/>
<rect x="565" y="500.1" width="1.1" height="40" fill="#500058"/>
<rect x="565" y="325.8" width="1.1" height="56.8" fill="url(#dk)"/>
<rect x="565" y="387.2" width="1.1" height="102.9" fill="#fff" fill-opacity="0.027"/>
<rect x="566" y="397.8" width="1.1" height="102.7" fill="url(#rb)"/>
<rect x="566" y="500.5" width="1.1" height="40" fill="#500058"/>
<rect x="566" y="325.6" width="1.1" height="52.3" fill="url(#dk)"/>
<rect x="566" y="387.8" width="1.1" height="102.7" fill="#fff" fill-opacity="0.044"/>
<rect x="567" y="396.3" width="1.1" height="103.3" fill="url(#rb)"/>
<rect x="567" y="499.6" width="1.1" height="40" fill="#500058"/>
<rect x="567" y="325.4" width="1.1" height="58.6" fill="url(#dk)"/>
<rect x="567" y="386.3" width="1.1" height="103.3" fill="#fff" fill-opacity="0.024"/>
<rect x="568" y="396.0" width="1.1" height="103.4" fill="url(#rb)"/>
<rect x="568" y="499.4" width="1.1" height="40" fill="#500058"/>
<rect x="568" y="325.2" width="1.1" height="54.9" fill="url(#dk)"/>
<rect x="568" y="323.8" width="1.1" height="175.6" fill="#000" fill-opacity="0.021"/>
<rect x="569" y="395.9" width="1.1" height="103.5" fill="url(#rb)"/>
<rect x="569" y="499.3" width="1.1" height="40" fill="#500058"/>
<rect x="569" y="325.0" width="1.1" height="55.6" fill="url(#dk)"/>
<rect x="569" y="385.9" width="1.1" height="103.5" fill="#fff" fill-opacity="0.018"/>
<rect x="570" y="395.7" width="1.1" height="103.5" fill="url(#rb)"/>
<rect x="570" y="499.2" width="1.1" height="40" fill="#500058"/>
<rect x="570" y="324.8" width="1.1" height="59.4" fill="url(#dk)"/>
<rect x="571" y="395.7" width="1.1" height="103.5" fill="url(#rb)"/>
<rect x="571" y="499.2" width="1.1" height="40" fill="#500058"/>
<rect x="571" y="324.6" width="1.1" height="49.5" fill="url(#dk)"/>
<rect x="571" y="385.7" width="1.1" height="103.5" fill="#fff" fill-opacity="0.028"/>
<rect x="572" y="396.6" width="1.1" height="103.2" fill="url(#rb)"/>
<rect x="572" y="499.8" width="1.1" height="40" fill="#500058"/>
<rect x="572" y="324.4" width="1.1" height="52.2" fill="url(#dk)"/>
<rect x="572" y="386.6" width="1.1" height="103.2" fill="#fff" fill-opacity="0.034"/>
<rect x="573" y="396.1" width="1.1" height="103.3" fill="url(#rb)"/>
<rect x="573" y="499.5" width="1.1" height="40" fill="#500058"/>
<rect x="573" y="324.2" width="1.1" height="55.5" fill="url(#dk)"/>
<rect x="574" y="397.3" width="1.1" height="102.9" fill="url(#rb)"/>
<rect x="574" y="500.2" width="1.1" height="40" fill="#500058"/>
<rect x="574" y="324.0" width="1.1" height="56.6" fill="url(#dk)"/>
<rect x="574" y="387.3" width="1.1" height="102.9" fill="#fff" fill-opacity="0.026"/>
<rect x="575" y="396.2" width="1.1" height="103.3" fill="url(#rb)"/>
<rect x="575" y="499.5" width="1.1" height="40" fill="#500058"/>
<rect x="575" y="323.8" width="1.1" height="59.7" fill="url(#dk)"/>
<rect x="575" y="386.2" width="1.1" height="103.3" fill="#fff" fill-opacity="0.022"/>
<rect x="576" y="397.1" width="1.1" height="103.0" fill="url(#rb)"/>
<rect x="576" y="500.0" width="1.1" height="40" fill="#500058"/>
<rect x="576" y="323.6" width="1.1" height="49.5" fill="url(#dk)"/>
<rect x="576" y="323.8" width="1.1" height="176.2" fill="#000" fill-opacity="0.013"/>
</g>
<polygon points="402.8,320.4 498.7,304.0 614.8,317.9 520.0,338.0" fill="#690000"/>
<polygon points="493.6,303.8 496.2,303.6 495.8,310.5 494.0,308.0" fill="#fff"/>
<polygon points="502.0,303.4 506.0,303.6 505.0,307.4 503.6,305.5 502.6,307.2" fill="#fff"/>
<line x1="378.9" y1="314.9" x2="386.2" y2="487.3" stroke="#111" stroke-width="0.9"/>
<line x1="386.2" y1="487.3" x2="522.0" y2="537.4" stroke="#111" stroke-width="0.9"/>
<line x1="522.0" y1="537.4" x2="629.2" y2="480.0" stroke="#111" stroke-width="0.9"/>
<line x1="377.2" y1="334.0" x2="379.7" y2="333.7" stroke="#111" stroke-width="0.8"/>
<text transform="translate(375.7,338.0) scale(0.8,1)" font-size="13" text-anchor="end">10</text>
<line x1="378.6" y1="366.7" x2="381.1" y2="366.4" stroke="#111" stroke-width="0.8"/>
<text transform="translate(377.0,370.7) scale(0.8,1)" font-size="13" text-anchor="end">8</text>
<line x1="379.9" y1="398.6" x2="382.4" y2="398.3" stroke="#111" stroke-width="0.8"/>
<text transform="translate(378.2,402.6) scale(0.8,1)" font-size="13" text-anchor="end">6</text>
<line x1="381.3" y1="429.8" x2="383.8" y2="429.5" stroke="#111" stroke-width="0.8"/>
<text transform="translate(379.4,433.8) scale(0.8,1)" font-size="13" text-anchor="end">4</text>
<line x1="382.6" y1="460.7" x2="385.1" y2="460.4" stroke="#111" stroke-width="0.8"/>
<text transform="translate(380.6,464.7) scale(0.8,1)" font-size="13" text-anchor="end">2</text>
<line x1="383.9" y1="491.3" x2="386.4" y2="491.0" stroke="#111" stroke-width="0.8"/>
<text transform="translate(384.6,495.3) scale(0.8,1)" font-size="13" text-anchor="end">0</text>
<text transform="translate(356,360.6) rotate(88) scale(1,0.85)" font-size="11.7">Free Energy (kJ/mol)</text>
<text transform="matrix(-0.837 0.448 -0.751 -0.277 402 498.8)" font-size="11" text-anchor="middle" fill="#222" dy="3.6">-4</text>
<text transform="matrix(-0.837 0.448 -0.751 -0.277 425.9 507.4)" font-size="11" text-anchor="middle" fill="#222" dy="3.6">-2</text>
<text transform="matrix(-0.837 0.448 -0.751 -0.277 449.7 515.7)" font-size="11" text-anchor="middle" fill="#222" dy="3.6">0</text>
<text transform="matrix(-0.837 0.448 -0.751 -0.277 474.8 525.7)" font-size="11" text-anchor="middle" fill="#222" dy="3.6">2</text>
<text transform="matrix(-0.837 0.448 -0.751 -0.277 501.2 535)" font-size="11" text-anchor="middle" fill="#222" dy="3.6">4</text>
<text transform="matrix(0.891 0.329 -0.652 0.349 432.1 519.4)" font-size="11.5" text-anchor="middle" fill="#222" dy="3.6">PC2</text>
<text transform="matrix(0.891 0.329 -0.705 0.378 531.2 541.1)" font-size="11" text-anchor="middle" fill="#222" dy="3.6">-4</text>
<text transform="matrix(0.891 0.329 -0.705 0.378 559.9 526.2)" font-size="11" text-anchor="middle" fill="#222" dy="3.6">-2</text>
<text transform="matrix(0.891 0.329 -0.705 0.378 581 512.5)" font-size="11" text-anchor="middle" fill="#222" dy="3.6">0</text>
<text transform="matrix(0.891 0.329 -0.705 0.378 603.5 499.3)" font-size="11" text-anchor="middle" fill="#222" dy="3.6">2</text>
<text transform="matrix(0.891 0.329 -0.705 0.378 626 486.3)" font-size="11" text-anchor="middle" fill="#222" dy="3.6">4</text>
<text transform="matrix(0.837 -0.448 0.694 0.256 601 514.2)" font-size="11.5" text-anchor="middle" fill="#222" dy="3.6">PC1</text>
<line x1="404.0" y1="493.9" x2="401.4" y2="495.3" stroke="#111" stroke-width="0.7"/>
<line x1="416.5" y1="498.5" x2="415.1" y2="499.3" stroke="#111" stroke-width="0.6"/>
<line x1="429.0" y1="503.1" x2="426.4" y2="504.5" stroke="#111" stroke-width="0.7"/>
<line x1="441.5" y1="507.7" x2="440.1" y2="508.5" stroke="#111" stroke-width="0.6"/>
<line x1="454.0" y1="512.3" x2="451.4" y2="513.7" stroke="#111" stroke-width="0.7"/>
<line x1="466.5" y1="517.0" x2="465.1" y2="517.7" stroke="#111" stroke-width="0.6"/>
<line x1="479.0" y1="521.6" x2="476.4" y2="523.0" stroke="#111" stroke-width="0.7"/>
<line x1="491.5" y1="526.2" x2="490.1" y2="527.0" stroke="#111" stroke-width="0.6"/>
<line x1="504.0" y1="530.8" x2="501.4" y2="532.2" stroke="#111" stroke-width="0.7"/>
<line x1="527.0" y1="534.7" x2="529.8" y2="535.7" stroke="#111" stroke-width="0.7"/>
<line x1="538.9" y1="528.4" x2="540.4" y2="528.9" stroke="#111" stroke-width="0.6"/>
<line x1="550.8" y1="522.0" x2="553.5" y2="523.0" stroke="#111" stroke-width="0.7"/>
<line x1="562.6" y1="515.6" x2="564.2" y2="516.2" stroke="#111" stroke-width="0.6"/>
<line x1="574.5" y1="509.3" x2="577.3" y2="510.3" stroke="#111" stroke-width="0.7"/>
<line x1="586.4" y1="502.9" x2="587.9" y2="503.5" stroke="#111" stroke-width="0.6"/>
<line x1="598.2" y1="496.6" x2="601.0" y2="497.6" stroke="#111" stroke-width="0.7"/>
<line x1="610.1" y1="490.2" x2="611.7" y2="490.8" stroke="#111" stroke-width="0.6"/>
<line x1="622.0" y1="483.9" x2="624.8" y2="484.9" stroke="#111" stroke-width="0.7"/>
<text x="380" y="525.2" font-size="23.5">D</text>
<rect x="649.3" y="306.2" width="4.2" height="162.6" fill="url(#cb)"/>
<rect x="649.3" y="304.59999999999997" width="4.2" height="1.8" fill="#f4f4f4" stroke="#666" stroke-width="0.5"/>
<rect x="649.3" y="467.8" width="4.2" height="1.4" fill="#111"/>
<line x1="653.5" y1="307.0" x2="657.1" y2="307.0" stroke="#111" stroke-width="0.95"/>
<text x="660" y="309.8" font-size="7.2" fill="#000">10.70</text>
<line x1="653.5" y1="323.1" x2="657.1" y2="323.1" stroke="#111" stroke-width="0.95"/>
<text x="660" y="325.9" font-size="7.2" fill="#000">9.630</text>
<line x1="653.5" y1="339.3" x2="657.1" y2="339.3" stroke="#111" stroke-width="0.95"/>
<text x="660" y="342.1" font-size="7.2" fill="#000">8.560</text>
<line x1="653.5" y1="355.4" x2="657.1" y2="355.4" stroke="#111" stroke-width="0.95"/>
<text x="660" y="358.2" font-size="7.2" fill="#000">7.490</text>
<line x1="653.5" y1="371.6" x2="657.1" y2="371.6" stroke="#111" stroke-width="0.95"/>
<text x="660" y="374.4" font-size="7.2" fill="#000">6.420</text>
<line x1="653.5" y1="387.7" x2="657.1" y2="387.7" stroke="#111" stroke-width="0.95"/>
<text x="660" y="390.5" font-size="7.2" fill="#000">5.350</text>
<line x1="653.5" y1="403.8" x2="657.1" y2="403.8" stroke="#111" stroke-width="0.95"/>
<text x="660" y="406.6" font-size="7.2" fill="#000">4.280</text>
<line x1="653.5" y1="420.0" x2="657.1" y2="420.0" stroke="#111" stroke-width="0.95"/>
<text x="660" y="422.8" font-size="7.2" fill="#000">3.210</text>
<line x1="653.5" y1="436.1" x2="657.1" y2="436.1" stroke="#111" stroke-width="0.95"/>
<text x="660" y="438.9" font-size="7.2" fill="#000">2.140</text>
<line x1="653.5" y1="452.3" x2="657.1" y2="452.3" stroke="#111" stroke-width="0.95"/>
<text x="660" y="455.1" font-size="7.2" fill="#000">1.070</text>
<line x1="653.5" y1="468.4" x2="657.1" y2="468.4" stroke="#111" stroke-width="0.95"/>
<text x="660" y="471.2" font-size="7.2" fill="#000">0.000</text></g>
</svg>
</body></html>
